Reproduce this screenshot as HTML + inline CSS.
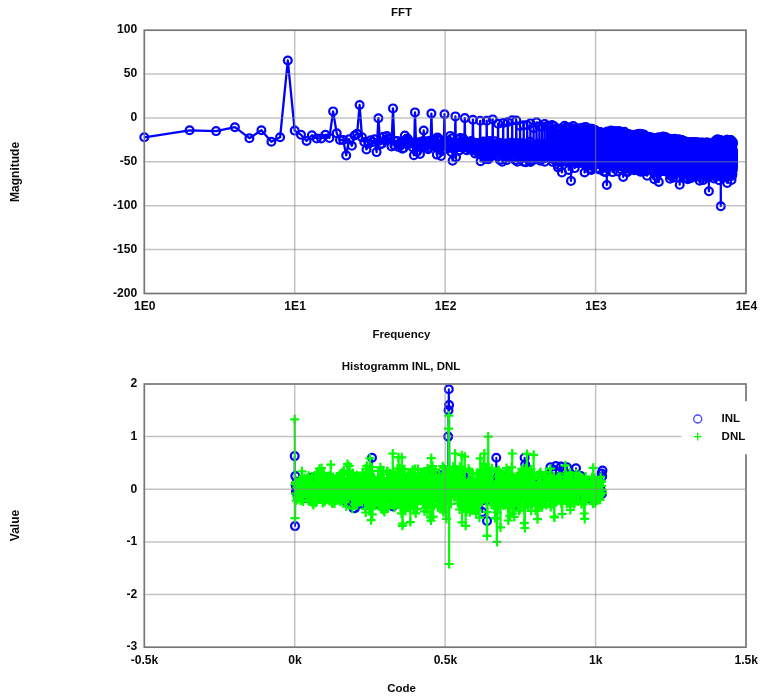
<!DOCTYPE html>
<html><head><meta charset="utf-8"><title>FFT / INL DNL</title>
<style>
html,body{margin:0;padding:0;background:#fff;}
body{width:767px;height:698px;overflow:hidden;}
svg{display:block;}
svg text{font-family:"Liberation Sans",Arial,Helvetica,sans-serif;font-weight:bold;font-size:11.7px;fill:#0a0a0a;}
.grid line{stroke:rgba(135,135,135,0.5);stroke-width:1.5;}
.frame{fill:none;stroke:#767676;stroke-width:1.7;}
</style></head><body>
<svg width="767" height="698" viewBox="0 0 767 698">
<defs>
<marker id="mc" markerUnits="userSpaceOnUse" markerWidth="12" markerHeight="12" refX="6" refY="6" viewBox="0 0 12 12"><circle cx="6" cy="6" r="3.9" fill="none" stroke="#0000ff" stroke-width="2.2"/></marker>
<marker id="mc2" markerUnits="userSpaceOnUse" markerWidth="12" markerHeight="12" refX="6" refY="6" viewBox="0 0 12 12"><circle cx="6" cy="6" r="3.9" fill="none" stroke="#0000ff" stroke-width="2.2"/></marker>
<marker id="mp" markerUnits="userSpaceOnUse" markerWidth="12" markerHeight="12" refX="6" refY="6" viewBox="0 0 12 12"><path d="M1.5 6H10.5M6 1.5V10.5" fill="none" stroke="#00ff00" stroke-width="2.2"/></marker>
</defs>
<rect width="767" height="698" fill="#fff"/>

<polyline points="144.3,137.3 189.6,130.3 216.1,131.1 234.9,127.2 249.4,138.2 261.4,130.3 271.4,141.7 280.1,137.3 287.8,60.5 294.7,130.6 301.0,134.8 306.6,141.0 311.9,135.3 316.7,138.4 321.2,138.4 325.4,134.8 329.4,137.9 333.1,111.4 336.7,133.2 340.0,140.0 343.2,139.9 346.2,155.4 349.1,139.2 351.9,145.7 354.6,135.5 357.1,133.8 359.6,105.0 362.0,137.3 364.3,142.0 366.5,149.4 368.6,143.6 370.7,140.3 372.7,142.0 374.7,139.2 376.6,152.1 378.4,118.2 380.2,144.5 381.9,143.8 383.6,136.7 385.3,139.8 386.9,136.1 388.5,139.1 390.0,138.2 391.5,146.4 393.0,108.4 394.4,145.4 395.8,141.1 397.2,140.9 398.5,147.0 399.9,144.6 401.2,141.7 402.4,148.7 403.7,147.9 404.9,135.5 406.1,139.8 407.3,138.4 408.4,143.6 409.6,141.3 410.7,143.4 411.8,142.7 412.9,147.5 413.9,155.3 415.0,112.4 416.0,143.2 417.0,151.7 418.0,142.5 419.0,142.6 420.0,154.0 420.9,144.8 421.8,141.8 422.8,141.3 423.7,130.5 424.6,146.2 425.5,141.2 426.4,144.7 427.2,144.4 428.1,149.3 428.9,147.4 429.8,140.7 430.6,144.7 431.4,113.6 432.2,142.5 433.0,145.9 433.8,139.5 434.5,144.3 435.3,143.8 436.1,146.4 436.8,154.6 437.5,137.4 438.3,139.0 439.0,141.1 439.7,149.5 440.4,140.1 441.1,155.9 441.8,144.6 442.5,151.0 443.2,149.1 443.8,142.4 444.5,114.2 445.2,145.7 445.8,142.8 446.4,144.0 447.1,146.8 447.7,141.3 448.3,142.1 449.0,147.9 449.6,145.7 450.2,135.9 450.8,144.1 451.4,152.1 452.0,138.3 452.6,160.7 453.1,143.4 453.7,143.8 454.3,148.8 454.8,146.3 455.4,116.4 456.0,157.3 456.5,145.8 457.1,144.3 457.6,144.5 458.1,139.4 458.7,150.7 459.2,150.4 459.7,147.1 460.2,138.1 460.8,147.3 461.3,141.3 461.8,144.2 462.3,147.2 462.8,146.5 463.3,138.6 463.8,147.5 464.3,145.0 464.8,118.1 465.2,144.7 465.7,144.8 466.2,143.7 466.7,150.2 467.1,147.4 467.6,144.5 468.1,147.2 468.5,142.7 469.0,142.2 469.4,147.9 469.9,149.4 470.3,145.6 470.8,148.4 471.2,141.0 471.6,146.3 472.1,142.2 472.5,144.0 472.9,119.7 473.4,145.3 473.8,148.0 474.2,149.9 474.6,150.6 475.0,153.4 475.4,143.0 475.9,147.9 476.3,150.3 476.7,144.1 477.1,148.4 477.5,146.6 477.9,142.9 478.3,151.4 478.7,146.8 479.0,154.2 479.4,149.5 479.8,148.1 480.2,120.8 480.6,161.3 481.0,150.2 481.3,144.4 481.7,145.6 482.1,148.7 482.5,152.0 482.8,143.6 483.2,145.5 483.5,141.5 483.9,149.4 484.3,143.8 484.6,156.7 485.0,157.5 485.3,159.0 485.7,156.8 486.0,149.7 486.4,156.4 486.7,120.8 487.1,158.6 487.4,149.4 487.8,152.3 488.1,147.6 488.4,159.2 488.8,149.2 489.1,143.0 489.4,146.6 489.8,141.0 490.1,145.3 490.4,148.5 490.8,153.3 491.1,145.1 491.4,156.1 491.7,145.4 492.0,144.6 492.4,147.3 492.7,119.4 493.0,144.7 493.3,154.7 493.6,150.2 493.9,146.1 494.2,147.4 494.5,148.1 494.9,141.2 495.2,148.4 495.5,147.6 495.8,149.1 496.1,145.9 496.4,154.1 496.7,146.0 497.0,143.6 497.3,148.2 497.5,156.3 497.8,152.1 498.1,123.7 498.4,148.8 498.7,150.0 499.0,145.2 499.3,147.8 499.6,152.5 499.8,160.0 500.1,152.4 500.4,152.4 500.7,143.1 501.0,151.3 501.2,144.4 501.5,148.1 501.8,147.3 502.1,146.1 502.3,161.8 502.6,148.1 502.9,154.9 503.2,123.0 503.4,146.1 503.7,150.2 504.0,152.0 504.2,146.8 504.5,150.1 504.7,153.3 505.0,151.0 505.3,149.9 505.5,143.4 505.8,148.4 506.0,144.1 506.3,150.8 506.6,160.1 506.8,146.8 507.1,153.5 507.3,157.1 507.6,155.6 507.8,122.0 508.1,151.0 508.3,149.1 508.6,153.0 508.8,147.0 509.1,149.1 509.3,151.9 509.6,149.7 509.8,147.2 510.0,143.0 510.3,150.3 510.5,154.3 510.8,152.6 511.0,142.8 511.2,148.9 511.5,150.0 511.7,144.9 511.9,156.6 512.2,120.2 512.4,145.4 512.6,153.0 512.9,147.2 513.1,146.0 513.3,145.6 513.6,148.4 513.8,157.7 514.0,156.8 514.3,143.6 514.5,146.7 514.7,143.2 514.9,149.1 515.2,146.8 515.4,160.3 515.6,148.0 515.8,152.2 516.0,150.1 516.3,120.5 516.5,145.5 516.7,149.8 516.9,150.7 517.1,150.6 517.4,161.7 517.6,144.9 517.8,150.8 518.0,152.5 518.2,143.4 518.4,146.9 518.6,151.2 518.9,153.8 519.1,144.0 519.3,150.8 519.5,154.6 519.7,147.8 519.9,147.5 520.1,126.0 520.3,153.6 520.5,142.9 520.7,153.1 520.9,152.0 521.1,144.8 521.3,152.3 521.5,153.2 521.7,146.0 521.9,144.0 522.2,149.1 522.4,151.9 522.6,147.1 522.8,156.9 522.9,146.8 523.1,154.4 523.3,153.1 523.5,161.7 523.7,125.2 523.9,147.0 524.1,146.1 524.3,153.2 524.5,155.3 524.7,147.1 524.9,151.9 525.1,147.3 525.3,151.9 525.5,143.8 525.7,162.3 525.9,147.6 526.1,152.9 526.2,158.1 526.4,148.6 526.6,150.8 526.8,152.6 527.0,146.9 527.2,125.3 527.4,149.6 527.5,153.9 527.7,148.2 527.9,145.5 528.1,147.9 528.3,151.8 528.5,145.9 528.7,149.2 528.8,144.4 529.0,154.9 529.2,155.9 529.4,147.5 529.6,141.8 529.7,147.3 529.9,160.8 530.1,150.1 530.3,146.1 530.4,123.4 530.6,162.0 530.8,153.6 531.0,153.5 531.1,155.9 531.3,153.8 531.5,146.6 531.7,148.6 531.8,151.1 532.0,146.7 532.2,146.4 532.4,151.6 532.5,149.8 532.7,153.3 532.9,155.3 533.0,151.0 533.2,160.0 533.4,150.9 533.6,128.0 533.7,151.4 533.9,149.9 534.1,152.0 534.2,147.3 534.4,151.6 534.6,151.5 534.7,156.4 534.9,150.1 535.1,144.8 535.2,146.6 535.4,158.0 535.6,147.4 535.7,148.5 535.9,147.1 536.0,146.3 536.2,149.3 536.4,150.2 536.5,122.3 536.7,148.4 536.8,153.1 537.0,148.7 537.2,153.0 537.3,148.9 537.5,151.3 537.6,153.6 537.8,152.9 538.0,143.7 538.1,147.1 538.3,151.4 538.4,153.2 538.6,151.4 538.7,148.6 538.9,150.7 539.1,153.0 539.2,149.2 539.4,126.2 539.5,146.4 539.7,158.7 539.8,149.8 540.0,150.3 540.1,148.8 540.3,160.8 540.4,153.7 540.6,156.7 540.7,145.5 540.9,146.9 541.0,155.5 541.2,149.1 541.3,146.6 541.5,149.9 541.6,150.2 541.8,146.1 541.9,147.7 542.1,126.7 542.2,147.4 542.4,151.3 542.5,152.4 542.7,149.5 542.8,148.0 543.0,152.2 543.1,149.0 543.3,150.5 543.4,147.6 543.6,147.3 543.7,155.6 543.8,158.3 544.0,149.2 544.1,150.6 544.3,143.9 544.4,150.0 544.6,146.9 544.7,123.9 544.8,161.8 545.0,149.7 545.1,155.2 545.3,152.4 545.4,145.4 545.6,151.9 545.7,151.7 545.8,152.1 546.0,146.6 546.1,157.4 546.3,152.1 546.4,155.1 546.5,153.1 546.7,149.5 546.8,152.1 546.9,147.2 547.1,149.2 547.2,125.9 547.4,152.1 547.5,152.8 547.6,150.6 547.8,148.2 547.9,145.0 548.0,156.3 548.2,148.6 548.3,154.8 548.4,147.5 548.6,149.4 548.7,152.6 548.8,150.5 549.0,147.5 549.1,153.7 549.2,147.4 549.4,150.4 549.5,146.4 549.6,127.1 549.8,150.2 549.9,151.9 550.0,148.0 550.2,147.7 550.3,157.3 550.4,148.2 550.6,153.1 550.7,150.8 550.8,145.9 550.9,145.5 551.1,152.0 551.2,149.9 551.3,147.1 551.5,150.7 551.6,153.9 551.7,154.1 551.8,147.7 552.0,125.0 552.1,155.5 552.2,147.5 552.4,156.9 552.5,148.8 552.6,154.0 552.7,161.9 552.9,147.3 553.0,146.3 553.1,146.3 553.2,152.4 553.4,159.3 553.5,154.7 553.6,152.5 553.7,147.9 553.9,143.6 554.0,153.4 554.1,153.9 554.2,126.3 554.3,149.6 554.5,152.7 554.6,155.2 554.7,153.7 554.8,148.0 555.0,154.1 555.1,150.5 555.2,159.5 555.3,147.7 555.4,156.4 555.6,155.7 555.7,156.2 555.8,149.0 555.9,161.1 556.0,158.1 556.2,153.4 556.3,149.9 556.4,128.7 556.5,151.3 556.6,153.0 556.8,154.2 556.9,148.1 557.0,156.6 557.1,152.9 557.2,153.2 557.3,149.8 557.5,148.6 557.6,153.2 557.7,147.3 557.8,149.2 557.9,154.9 558.0,167.4 558.2,148.1 558.3,148.8 558.4,150.4 558.5,129.6 558.6,150.1 558.7,153.1 558.9,157.1 559.0,150.4 559.1,165.4 559.2,146.2 559.3,150.6 559.4,152.6 559.5,147.7 559.6,154.4 559.8,148.7 559.9,149.7 560.0,153.8 560.1,150.0 560.2,162.3 560.3,152.6 560.4,153.1 560.5,128.6 560.7,154.2 560.8,161.5 560.9,157.0 561.0,156.5 561.1,150.9 561.2,156.5 561.3,157.1 561.4,150.2 561.5,147.5 561.7,149.4 561.8,156.2 561.9,172.4 562.0,151.3 562.1,149.9 562.2,156.1 562.3,149.9 562.4,145.9 562.5,131.9 562.6,151.9 562.7,150.2 562.9,150.8 563.0,150.7 563.1,155.5 563.2,155.3 563.3,156.8 563.4,154.6 563.5,149.6 563.6,150.3 563.7,153.7 563.8,155.6 563.9,151.2 564.0,153.8 564.1,158.8 564.2,152.0 564.3,146.9 564.5,125.8 564.6,148.5 564.7,152.4 564.8,153.4 564.9,151.5 565.0,147.5 565.1,149.0 565.2,154.8 565.3,146.1 565.4,147.5 565.5,161.5 565.6,146.8 565.7,151.6 565.8,154.9 565.9,146.6 566.0,151.3 566.1,148.5 566.2,152.0 566.3,127.2 566.4,151.1 566.5,160.4 566.6,155.4 566.7,156.2 566.8,152.4 566.9,154.6 567.0,155.2 567.1,148.3 567.2,148.0 567.3,146.8 567.4,146.6 567.5,151.5 567.6,153.7 567.7,153.0 567.8,155.6 567.9,154.3 568.0,146.4 568.1,127.9 568.2,150.1 568.3,156.0 568.4,152.2 568.5,148.5 568.6,150.5 568.7,169.9 568.8,153.0 568.9,154.1 569.0,150.3 569.1,154.9 569.2,151.9 569.3,147.6 569.4,152.4 569.5,154.1 569.6,147.4 569.7,152.9 569.8,156.3 569.9,127.2 570.0,155.8 570.1,158.2 570.2,151.9 570.3,151.0 570.4,151.5 570.5,150.7 570.6,151.7 570.7,150.3 570.8,146.2 570.9,151.6 571.0,153.3 571.0,180.9 571.1,161.9 571.2,153.3 571.3,150.5 571.4,152.4 571.5,149.9 571.6,130.9 571.7,152.9 571.8,152.5 571.9,154.4 572.0,151.3 572.1,154.0 572.2,159.3 572.3,148.9 572.4,148.1 572.5,147.9 572.6,161.9 572.6,148.8 572.7,150.8 572.8,157.5 572.9,154.5 573.0,154.1 573.1,160.5 573.2,152.9 573.3,126.1 573.4,154.2 573.5,151.2 573.6,157.8 573.7,156.5 573.8,155.5 573.8,154.1 573.9,148.4 574.0,151.3 574.1,150.4 574.2,150.7 574.3,150.2 574.4,143.8 574.5,159.8 574.6,150.1 574.7,151.7 574.7,145.6 574.8,168.1 574.9,128.6 575.0,155.7 575.1,150.3 575.2,152.5 575.3,152.0 575.4,156.6 575.5,160.3 575.6,156.4 575.6,163.3 575.7,148.9 575.8,155.9 575.9,151.1 576.0,152.2 576.1,155.9 576.2,154.9 576.3,160.2 576.3,150.6 576.4,153.3 576.5,128.7 576.6,155.8 576.7,154.5 576.8,152.9 576.9,153.2 577.0,147.6 577.0,157.2 577.1,151.3 577.2,152.6 577.3,152.3 577.4,150.2 577.5,149.1 577.6,147.7 577.6,155.3 577.7,148.2 577.8,154.1 577.9,161.3 578.0,148.6 578.1,128.2 578.2,156.1 578.2,152.0 578.3,162.8 578.4,153.0 578.5,150.1 578.6,146.1 578.7,163.2 578.8,148.9 578.8,150.6 578.9,161.7 579.0,151.0 579.1,153.1 579.2,154.5 579.3,148.5 579.3,150.8 579.4,149.4 579.5,144.1 579.6,128.9 579.7,147.9 579.8,146.9 579.8,148.7 579.9,157.1 580.0,152.3 580.1,152.5 580.2,152.3 580.3,149.5 580.3,148.7 580.4,152.7 580.5,149.0 580.6,153.8 580.7,152.2 580.8,152.0 580.8,151.7 580.9,161.9 581.0,156.6 581.1,133.2 581.2,148.2 581.2,152.5 581.3,150.5 581.4,152.0 581.5,153.0 581.6,153.4 581.6,153.1 581.7,150.8 581.8,149.5 581.9,156.1 582.0,154.6 582.1,157.9 582.1,155.8 582.2,160.4 582.3,147.7 582.4,146.4 582.5,154.2 582.5,127.7 582.6,162.3 582.7,152.0 582.8,148.0 582.8,157.6 582.9,160.0 583.0,152.2 583.1,150.0 583.2,159.0 583.2,149.1 583.3,160.7 583.4,145.7 583.5,159.1 583.6,155.3 583.6,158.3 583.7,148.3 583.8,152.7 583.9,153.6 584.0,128.9 584.0,150.4 584.1,159.6 584.2,152.5 584.3,149.6 584.3,154.4 584.4,153.2 584.5,162.4 584.6,172.5 584.6,148.7 584.7,157.2 584.8,162.7 584.9,151.2 585.0,150.2 585.0,158.7 585.1,164.6 585.2,146.8 585.3,149.3 585.3,127.0 585.4,151.5 585.5,162.7 585.6,153.9 585.6,147.9 585.7,152.1 585.8,154.9 585.9,165.4 585.9,157.5 586.0,150.9 586.1,162.6 586.2,156.4 586.3,163.6 586.3,158.2 586.4,148.9 586.5,152.2 586.6,151.4 586.6,157.9 586.7,127.5 586.8,150.9 586.9,153.9 586.9,148.7 587.0,158.9 587.1,157.7 587.1,153.5 587.2,148.4 587.3,152.3 587.4,153.6 587.4,150.6 587.5,160.0 587.6,158.1 587.7,148.5 587.7,152.8 587.8,149.4 587.9,160.0 588.0,154.3 588.0,129.8 588.1,153.3 588.2,151.2 588.3,155.9 588.3,147.4 588.4,156.4 588.5,153.5 588.5,151.2 588.6,165.5 588.7,153.7 588.8,154.0 588.8,152.3 588.9,147.3 589.0,147.7 589.1,151.8 589.1,157.1 589.2,154.1 589.3,155.6 589.3,131.1 589.4,169.0 589.5,157.7 589.6,149.7 589.6,149.4 589.7,162.1 589.8,151.6 589.8,156.8 589.9,150.0 590.0,148.7 590.1,150.4 590.1,155.5 590.2,162.6 590.3,152.0 590.3,149.7 590.4,154.4 590.5,148.5 590.6,148.4 590.6,128.7 590.7,147.6 590.8,169.5 590.8,151.1 590.9,154.9 591.0,159.1 591.0,151.2 591.1,148.4 591.2,158.6 591.3,150.0 591.3,151.3 591.4,170.0 591.5,155.3 591.5,159.0 591.6,148.2 591.7,152.9 591.7,160.1 591.8,154.7 591.9,128.7 591.9,153.4 592.0,152.0 592.1,147.6 592.2,152.0 592.2,152.4 592.3,151.2 592.4,152.6 592.4,147.9 592.5,153.3 592.6,148.1 592.6,151.0 592.7,153.9 592.8,148.3 592.8,162.3 592.9,149.9 593.0,151.2 593.0,153.5 593.1,131.4 593.2,151.4 593.2,151.2 593.3,153.1 593.4,156.2 593.5,152.8 593.5,151.5 593.6,150.4 593.7,148.9 593.7,152.1 593.8,148.6 593.9,156.3 593.9,148.8 594.0,153.5 594.1,153.6 594.1,151.1 594.2,161.1 594.3,149.0 594.3,129.7 594.4,156.8 594.5,151.7 594.5,148.3 594.6,149.2 594.7,159.4 594.7,161.4 594.8,151.1 594.9,155.3 594.9,152.0 595.0,149.4 595.1,156.4 595.1,150.9 595.2,156.4 595.2,158.5 595.3,152.3 595.4,148.7 595.4,151.8 595.5,130.3 595.6,152.6 595.6,157.4 595.7,154.8 595.8,145.2 595.8,157.4 595.9,151.9 596.0,154.3 596.0,150.3 596.1,153.8 596.2,157.5 596.2,149.9 596.3,160.9 596.4,150.3 596.4,146.7 596.5,168.4 596.5,154.7 596.6,158.2 596.7,136.0 596.7,149.0 596.8,151.8 596.9,154.5 596.9,163.2 597.0,150.8 597.1,148.3 597.1,154.2 597.2,154.5 597.3,152.9 597.3,154.3 597.4,152.7 597.4,149.7 597.5,152.9 597.6,153.9 597.6,154.8 597.7,159.2 597.8,151.1 597.8,131.8 597.9,158.7 597.9,153.9 598.0,150.3 598.1,153.7 598.1,154.9 598.2,151.7 598.3,149.6 598.3,152.2 598.4,149.5 598.5,152.3 598.5,149.0 598.6,152.8 598.6,150.8 598.7,153.6 598.8,154.2 598.8,155.5 598.9,151.4 598.9,135.2 599.0,161.8 599.1,148.7 599.1,160.4 599.2,150.8 599.3,158.7 599.3,155.0 599.4,164.1 599.4,153.0 599.5,151.6 599.6,154.9 599.6,148.3 599.7,151.2 599.8,154.8 599.8,150.6 599.9,169.6 599.9,152.2 600.0,154.5 600.1,132.0 600.1,153.7 600.2,154.7 600.2,153.6 600.3,160.3 600.4,146.8 600.4,164.5 600.5,156.3 600.5,147.1 600.6,153.0 600.7,159.2 600.7,149.8 600.8,152.8 600.8,148.3 600.9,150.9 601.0,150.5 601.0,159.4 601.1,149.0 601.1,132.4 601.2,148.3 601.3,152.2 601.3,157.9 601.4,147.7 601.4,151.7 601.5,147.4 601.6,164.7 601.6,148.1 601.7,153.8 601.7,157.1 601.8,153.2 601.9,154.7 601.9,151.9 602.0,145.9 602.0,165.1 602.1,155.6 602.2,147.5 602.2,133.8 602.3,150.3 602.3,154.7 602.4,151.9 602.5,157.9 602.5,150.3 602.6,148.5 602.6,148.7 602.7,164.5 602.7,149.6 602.8,151.0 602.9,150.9 602.9,153.4 603.0,146.7 603.0,152.3 603.1,147.9 603.2,154.2 603.2,151.4 603.3,133.8 603.3,152.7 603.4,145.6 603.4,149.6 603.5,151.2 603.6,156.5 603.6,151.5 603.7,147.6 603.7,155.6 603.8,151.6 603.8,157.6 603.9,150.0 604.0,171.7 604.0,161.0 604.1,150.6 604.1,154.5 604.2,149.9 604.2,156.1 604.3,133.7 604.4,151.9 604.4,156.3 604.5,155.6 604.5,152.2 604.6,152.5 604.6,152.3 604.7,156.6 604.8,150.0 604.8,156.4 604.9,153.6 604.9,151.3 605.0,149.0 605.0,157.4 605.1,152.0 605.2,148.8 605.2,150.2 605.3,157.8 605.3,134.6 605.4,159.5 605.4,152.0 605.5,160.6 605.6,149.5 605.6,158.2 605.7,157.9 605.7,148.8 605.8,148.9 605.8,155.9 605.9,172.1 605.9,154.5 606.0,163.5 606.1,152.2 606.1,158.0 606.2,147.6 606.2,152.4 606.3,155.6 606.3,134.0 606.4,148.8 606.4,158.1 606.5,156.1 606.6,159.4 606.6,147.1 606.7,155.4 606.7,156.5 606.8,150.7 606.8,185.0 606.9,151.4 606.9,157.7 607.0,166.9 607.0,146.7 607.1,150.9 607.2,151.4 607.2,155.2 607.3,162.9 607.3,131.4 607.4,154.1 607.4,165.3 607.5,149.5 607.5,149.8 607.6,151.7 607.6,148.2 607.7,164.0 607.8,161.5 607.8,150.2 607.9,154.3 607.9,151.7 608.0,158.6 608.0,154.1 608.1,159.5 608.1,154.2 608.2,154.4 608.2,149.4 608.3,135.5 608.4,150.9 608.4,153.7 608.5,159.2 608.5,149.4 608.6,145.9 608.6,166.4 608.7,152.6 608.7,155.7 608.8,150.9 608.8,155.1 608.9,150.9 608.9,149.7 609.0,149.3 609.0,153.2 609.1,157.8 609.2,150.8 609.2,160.7 609.3,132.3 609.3,153.7 609.4,157.6 609.4,154.4 609.5,159.3 609.5,154.4 609.6,155.4 609.6,151.2 609.7,147.9 609.7,151.2 609.8,155.2 609.8,152.4 609.9,166.5 609.9,159.1 610.0,154.1 610.0,150.9 610.1,155.3 610.2,150.1 610.2,132.6 610.3,159.3 610.3,150.7 610.4,151.7 610.4,155.1 610.5,152.7 610.5,152.3 610.6,153.1 610.6,157.1 610.7,153.3 610.7,161.9 610.8,153.0 610.8,154.2 610.9,150.3 610.9,156.5 611.0,152.9 611.0,157.0 611.1,157.8 611.1,130.5 611.2,153.5 611.2,147.0 611.3,158.5 611.3,154.4 611.4,153.4 611.4,152.8 611.5,157.6 611.5,157.0 611.6,150.1 611.7,149.6 611.7,147.7 611.8,149.6 611.8,162.1 611.9,155.1 611.9,154.7 612.0,158.6 612.0,151.4 612.1,132.5 612.1,147.8 612.2,153.3 612.2,151.0 612.3,150.8 612.3,151.1 612.4,156.8 612.4,149.9 612.5,152.2 612.5,154.2 612.6,172.1 612.6,147.7 612.7,152.8 612.7,154.9 612.8,159.3 612.8,153.6 612.9,150.1 612.9,150.3 613.0,133.0 613.0,149.5 613.1,163.3 613.1,153.5 613.2,161.0 613.2,152.1 613.3,157.0 613.3,156.5 613.4,158.9 613.4,153.9 613.5,152.1 613.5,152.0 613.6,157.0 613.6,154.0 613.7,151.5 613.7,152.8 613.8,147.5 613.8,147.9 613.9,131.2 613.9,150.5 614.0,149.4 614.0,149.3 614.1,149.0 614.1,154.1 614.2,153.7 614.2,156.0 614.3,158.7 614.3,148.4 614.4,151.0 614.4,154.1 614.5,156.9 614.5,165.1 614.5,152.7 614.6,152.5 614.6,145.3 614.7,152.1 614.7,131.3 614.8,161.3 614.8,149.0 614.9,159.3 614.9,154.9 615.0,163.9 615.0,161.4 615.1,151.3 615.1,154.2 615.2,152.0 615.2,149.2 615.3,154.0 615.3,151.0 615.4,150.6 615.4,156.3 615.5,148.2 615.5,149.8 615.6,150.6 615.6,131.4 615.7,148.7 615.7,152.0 615.8,151.0 615.8,154.7 615.9,154.9 615.9,154.4 616.0,159.6 616.0,153.1 616.0,158.1 616.1,153.0 616.1,150.2 616.2,154.3 616.2,152.8 616.3,147.9 616.3,155.5 616.4,152.0 616.4,159.8 616.5,132.6 616.5,152.7 616.6,158.0 616.6,157.1 616.7,147.6 616.7,148.1 616.8,150.3 616.8,157.5 616.9,153.9 616.9,156.1 616.9,161.1 617.0,153.4 617.0,155.7 617.1,150.2 617.1,154.8 617.2,155.1 617.2,145.4 617.3,155.9 617.3,131.8 617.4,149.9 617.4,151.7 617.5,153.8 617.5,159.1 617.6,155.3 617.6,160.4 617.6,155.4 617.7,151.3 617.7,146.5 617.8,152.7 617.8,158.0 617.9,154.0 617.9,164.9 618.0,171.5 618.0,152.4 618.1,155.4 618.1,155.7 618.2,131.7 618.2,152.2 618.3,148.9 618.3,166.0 618.3,152.3 618.4,160.4 618.4,150.7 618.5,153.6 618.5,152.8 618.6,153.9 618.6,153.2 618.7,151.8 618.7,155.7 618.8,161.5 618.8,152.7 618.8,158.7 618.9,158.5 618.9,159.9 619.0,131.1 619.0,152.7 619.1,149.1 619.1,147.6 619.2,153.9 619.2,153.9 619.3,152.1 619.3,155.8 619.4,153.5 619.4,157.6 619.4,149.2 619.5,165.0 619.5,157.5 619.6,154.3 619.6,147.9 619.7,149.8 619.7,146.7 619.8,155.3 619.8,133.3 619.8,155.2 619.9,156.5 619.9,152.1 620.0,149.3 620.0,159.2 620.1,155.7 620.1,148.8 620.2,148.3 620.2,151.4 620.3,157.8 620.3,156.5 620.3,155.2 620.4,158.2 620.4,158.6 620.5,154.4 620.5,169.1 620.6,158.4 620.6,133.2 620.7,152.4 620.7,155.9 620.7,157.7 620.8,152.1 620.8,148.4 620.9,158.6 620.9,156.5 621.0,147.9 621.0,150.2 621.1,152.7 621.1,164.7 621.1,149.8 621.2,153.2 621.2,156.5 621.3,156.5 621.3,159.8 621.4,155.1 621.4,132.4 621.5,154.1 621.5,160.7 621.5,153.5 621.6,161.0 621.6,160.4 621.7,147.8 621.7,166.2 621.8,155.9 621.8,151.8 621.8,151.2 621.9,150.7 621.9,153.5 622.0,150.6 622.0,154.7 622.1,155.4 622.1,152.5 622.2,152.7 622.2,134.0 622.2,151.8 622.3,161.0 622.3,151.6 622.4,149.5 622.4,156.1 622.5,155.1 622.5,148.8 622.5,148.9 622.6,151.6 622.6,156.3 622.7,152.8 622.7,157.4 622.8,149.4 622.8,152.4 622.8,154.2 622.9,156.2 622.9,155.6 623.0,135.3 623.0,147.9 623.1,153.5 623.1,153.5 623.1,156.4 623.2,148.9 623.2,177.0 623.3,147.3 623.3,155.6 623.4,154.9 623.4,157.3 623.4,155.2 623.5,156.7 623.5,167.4 623.6,153.6 623.6,155.8 623.7,154.6 623.7,154.8 623.7,134.5 623.8,154.1 623.8,158.0 623.9,155.9 623.9,153.5 624.0,154.2 624.0,151.9 624.0,161.4 624.1,149.7 624.1,151.4 624.2,152.6 624.2,150.0 624.2,158.2 624.3,153.8 624.3,155.1 624.4,156.4 624.4,156.4 624.5,154.6 624.5,131.7 624.5,153.0 624.6,151.7 624.6,151.4 624.7,155.3 624.7,149.1 624.8,151.0 624.8,151.6 624.8,163.1 624.9,150.6 624.9,153.1 625.0,158.0 625.0,157.1 625.0,157.6 625.1,168.2 625.1,148.1 625.2,154.4 625.2,147.5 625.3,133.6 625.3,150.4 625.3,149.9 625.4,160.6 625.4,152.1 625.5,156.1 625.5,158.4 625.5,155.8 625.6,155.8 625.6,156.3 625.7,148.4 625.7,149.6 625.7,145.7 625.8,157.8 625.8,152.0 625.9,155.3 625.9,150.6 626.0,156.4 626.0,135.8 626.0,153.3 626.1,153.1 626.1,154.1 626.2,151.2 626.2,152.3 626.2,152.9 626.3,157.5 626.3,152.0 626.4,153.2 626.4,152.6 626.4,167.0 626.5,152.3 626.5,153.0 626.6,171.4 626.6,152.6 626.6,155.4 626.7,153.9 626.7,134.4 626.8,165.1 626.8,149.1 626.8,151.1 626.9,157.4 626.9,156.9 627.0,158.8 627.0,156.3 627.1,150.8 627.1,146.9 627.1,147.2 627.2,149.8 627.2,172.3 627.3,160.5 627.3,152.6 627.3,156.3 627.4,151.4 627.4,151.7 627.5,135.2 627.5,161.9 627.5,159.6 627.6,156.2 627.6,149.0 627.7,159.1 627.7,154.6 627.7,155.5 627.8,156.7 627.8,153.4 627.9,159.3 627.9,155.0 627.9,165.5 628.0,155.2 628.0,157.7 628.1,152.8 628.1,152.0 628.1,158.9 628.2,136.1 628.2,155.6 628.3,154.8 628.3,151.5 628.3,154.3 628.4,153.4 628.4,156.3 628.4,156.0 628.5,149.3 628.5,152.7 628.6,158.4 628.6,155.9 628.6,155.6 628.7,158.5 628.7,151.0 628.8,161.9 628.8,155.7 628.8,155.7 628.9,134.0 628.9,154.8 629.0,158.0 629.0,152.3 629.0,149.9 629.1,154.3 629.1,154.2 629.2,160.1 629.2,154.5 629.2,152.2 629.3,164.6 629.3,153.3 629.4,154.1 629.4,150.5 629.4,155.2 629.5,152.2 629.5,159.3 629.5,154.9 629.6,136.0 629.6,161.8 629.7,153.1 629.7,147.0 629.7,154.4 629.8,153.2 629.8,156.8 629.9,161.0 629.9,166.2 629.9,150.9 630.0,165.3 630.0,153.0 630.0,153.4 630.1,169.1 630.1,148.4 630.2,158.5 630.2,153.3 630.2,157.3 630.3,135.4 630.3,159.7 630.4,148.6 630.4,154.7 630.4,154.7 630.5,154.1 630.5,153.7 630.5,155.5 630.6,145.3 630.6,154.8 630.7,158.0 630.7,161.5 630.7,148.8 630.8,147.6 630.8,158.9 630.9,154.1 630.9,152.5 630.9,150.3 631.0,135.6 631.0,155.6 631.0,161.8 631.1,150.7 631.1,149.5 631.2,163.0 631.2,152.7 631.2,150.0 631.3,169.5 631.3,156.5 631.3,149.3 631.4,159.0 631.4,150.8 631.5,147.4 631.5,162.4 631.5,150.3 631.6,149.7 631.6,150.9 631.6,135.4 631.7,151.9 631.7,156.9 631.8,154.4 631.8,160.1 631.8,149.0 631.9,158.4 631.9,156.4 631.9,151.9 632.0,149.6 632.0,153.2 632.1,162.0 632.1,153.0 632.1,152.7 632.2,153.7 632.2,153.8 632.2,156.5 632.3,146.9 632.3,135.4 632.4,149.9 632.4,154.5 632.4,148.5 632.5,149.5 632.5,147.9 632.5,154.0 632.6,158.5 632.6,154.5 632.7,154.7 632.7,162.1 632.7,152.3 632.8,155.1 632.8,155.8 632.8,163.4 632.9,149.3 632.9,161.0 633.0,153.8 633.0,135.8 633.0,150.9 633.1,153.5 633.1,158.8 633.1,153.4 633.2,148.2 633.2,154.4 633.2,154.4 633.3,152.3 633.3,157.9 633.4,152.6 633.4,152.2 633.4,152.4 633.5,154.9 633.5,154.2 633.5,154.9 633.6,156.3 633.6,150.4 633.6,138.3 633.7,166.0 633.7,151.8 633.8,151.4 633.8,163.0 633.8,152.0 633.9,151.9 633.9,154.4 633.9,148.5 634.0,153.8 634.0,161.3 634.0,153.7 634.1,152.4 634.1,148.6 634.2,154.7 634.2,154.1 634.2,147.8 634.3,157.9 634.3,135.9 634.3,158.1 634.4,170.2 634.4,163.1 634.4,156.6 634.5,160.7 634.5,147.1 634.6,152.4 634.6,152.4 634.6,156.1 634.7,156.5 634.7,150.1 634.7,159.3 634.8,152.6 634.8,151.6 634.8,154.9 634.9,150.6 634.9,155.4 634.9,134.8 635.0,157.0 635.0,161.1 635.1,150.2 635.1,151.7 635.1,152.4 635.2,155.1 635.2,149.1 635.2,152.9 635.3,148.1 635.3,159.3 635.3,156.4 635.4,152.6 635.4,151.4 635.4,154.9 635.5,157.0 635.5,153.8 635.6,154.5 635.6,136.0 635.6,149.0 635.7,159.1 635.7,156.8 635.7,149.7 635.8,163.1 635.8,151.3 635.8,154.4 635.9,155.1 635.9,154.6 635.9,153.8 636.0,159.5 636.0,168.5 636.0,158.7 636.1,152.3 636.1,156.5 636.2,155.4 636.2,149.2 636.2,140.7 636.3,156.1 636.3,158.0 636.3,153.3 636.4,154.3 636.4,151.5 636.4,153.0 636.5,153.8 636.5,158.2 636.5,150.6 636.6,150.7 636.6,150.7 636.6,152.6 636.7,151.8 636.7,161.1 636.7,158.1 636.8,150.9 636.8,156.0 636.8,136.8 636.9,151.4 636.9,162.4 637.0,152.5 637.0,149.3 637.0,163.0 637.1,152.8 637.1,153.8 637.1,153.2 637.2,149.2 637.2,152.4 637.2,159.2 637.3,152.7 637.3,155.2 637.3,152.5 637.4,161.1 637.4,161.3 637.4,157.8 637.5,134.8 637.5,151.4 637.5,154.9 637.6,148.8 637.6,151.4 637.6,152.9 637.7,149.1 637.7,149.8 637.7,152.9 637.8,152.6 637.8,150.3 637.8,154.5 637.9,148.6 637.9,147.9 638.0,151.9 638.0,148.3 638.0,163.3 638.1,150.4 638.1,133.9 638.1,153.1 638.2,162.9 638.2,155.6 638.2,152.1 638.3,164.6 638.3,152.5 638.3,151.4 638.4,152.2 638.4,149.7 638.4,157.0 638.5,156.4 638.5,151.2 638.5,157.9 638.6,164.4 638.6,154.1 638.6,159.4 638.7,154.3 638.7,133.9 638.7,156.4 638.8,151.7 638.8,154.6 638.8,156.9 638.9,157.8 638.9,160.5 638.9,158.7 639.0,152.0 639.0,153.5 639.0,153.3 639.1,162.1 639.1,150.0 639.1,154.6 639.2,147.0 639.2,154.1 639.2,158.5 639.3,154.3 639.3,139.7 639.3,151.9 639.4,163.0 639.4,157.4 639.4,154.5 639.5,157.7 639.5,157.5 639.5,152.5 639.6,153.3 639.6,156.2 639.6,163.1 639.7,167.2 639.7,149.4 639.7,155.2 639.8,157.3 639.8,157.6 639.8,157.3 639.9,153.8 639.9,133.7 639.9,150.5 640.0,153.0 640.0,151.9 640.0,152.8 640.1,153.6 640.1,157.1 640.1,150.1 640.2,171.1 640.2,151.2 640.2,153.3 640.3,171.7 640.3,159.6 640.3,149.9 640.4,151.7 640.4,155.4 640.4,150.1 640.5,153.2 640.5,135.0 640.5,164.2 640.6,150.2 640.6,157.9 640.6,156.3 640.7,152.6 640.7,155.8 640.7,154.2 640.8,152.6 640.8,150.9 640.8,156.5 640.9,152.7 640.9,158.0 640.9,153.3 641.0,157.5 641.0,157.6 641.0,157.6 641.1,163.2 641.1,133.9 641.1,156.4 641.2,157.8 641.2,153.5 641.2,156.0 641.2,154.2 641.3,170.2 641.3,149.8 641.3,148.1 641.4,152.1 641.4,149.6 641.4,156.9 641.5,157.3 641.5,150.6 641.5,148.1 641.6,158.9 641.6,157.2 641.6,166.1 641.7,134.6 641.7,155.0 641.7,168.9 641.8,151.8 641.8,151.3 641.8,171.4 641.9,151.2 641.9,158.0 641.9,153.1 642.0,153.6 642.0,152.5 642.0,153.4 642.1,164.7 642.1,162.6 642.1,147.7 642.2,156.9 642.2,152.0 642.2,154.3 642.2,134.7 642.3,149.8 642.3,151.1 642.3,156.8 642.4,158.8 642.4,157.2 642.4,153.4 642.5,158.5 642.5,170.4 642.5,157.3 642.6,158.3 642.6,152.2 642.6,153.8 642.7,160.8 642.7,157.5 642.7,154.0 642.8,152.2 642.8,147.7 642.8,139.5 642.9,154.4 642.9,153.7 642.9,152.0 642.9,152.5 643.0,157.1 643.0,151.9 643.0,163.8 643.1,154.1 643.1,158.1 643.1,152.0 643.2,156.4 643.2,157.1 643.2,153.9 643.3,153.9 643.3,155.2 643.3,152.9 643.4,149.6 643.4,134.9 643.4,152.0 643.5,148.0 643.5,150.3 643.5,153.6 643.5,153.4 643.6,150.2 643.6,157.3 643.6,148.1 643.7,157.4 643.7,155.1 643.7,152.9 643.8,151.7 643.8,160.9 643.8,150.8 643.9,153.2 643.9,154.3 643.9,154.7 644.0,134.6 644.0,164.1 644.0,152.2 644.0,150.9 644.1,153.2 644.1,165.5 644.1,148.6 644.2,154.0 644.2,150.5 644.2,146.3 644.3,165.2 644.3,158.2 644.3,150.4 644.4,151.2 644.4,152.6 644.4,149.8 644.4,150.6 644.5,156.7 644.5,136.1 644.5,152.7 644.6,157.4 644.6,153.1 644.6,160.4 644.7,156.7 644.7,155.4 644.7,159.2 644.8,153.3 644.8,159.6 644.8,158.3 644.8,152.8 644.9,148.6 644.9,168.6 644.9,154.7 645.0,155.5 645.0,166.2 645.0,158.4 645.1,139.7 645.1,160.0 645.1,147.5 645.2,153.1 645.2,158.1 645.2,150.4 645.2,147.9 645.3,145.4 645.3,157.9 645.3,159.7 645.4,150.4 645.4,150.2 645.4,158.9 645.5,161.2 645.5,151.0 645.5,156.4 645.6,154.2 645.6,155.5 645.6,139.1 645.6,155.2 645.7,158.4 645.7,162.0 645.7,148.2 645.8,171.2 645.8,151.9 645.8,150.5 645.9,151.0 645.9,156.6 645.9,154.9 645.9,152.8 646.0,152.9 646.0,155.3 646.0,156.9 646.1,149.5 646.1,150.9 646.1,156.1 646.2,137.4 646.2,154.0 646.2,149.9 646.2,155.6 646.3,148.0 646.3,158.4 646.3,152.4 646.4,162.2 646.4,155.1 646.4,156.9 646.5,156.4 646.5,158.5 646.5,161.1 646.5,154.1 646.6,155.6 646.6,149.9 646.6,160.8 646.7,154.7 646.7,136.8 646.7,157.4 646.8,152.1 646.8,147.6 646.8,152.9 646.8,151.4 646.9,152.0 646.9,153.3 646.9,162.7 647.0,157.6 647.0,153.1 647.0,153.3 647.1,152.6 647.1,175.7 647.1,155.9 647.1,157.2 647.2,157.2 647.2,153.9 647.2,140.2 647.3,156.9 647.3,153.6 647.3,161.1 647.4,158.4 647.4,149.7 647.4,160.6 647.4,152.9 647.5,153.0 647.5,152.7 647.5,151.3 647.6,160.0 647.6,158.4 647.6,152.7 647.6,160.2 647.7,158.7 647.7,152.6 647.7,153.0 647.8,137.6 647.8,166.9 647.8,153.5 647.9,158.4 647.9,153.2 647.9,158.3 647.9,155.2 648.0,163.0 648.0,158.4 648.0,150.4 648.1,150.4 648.1,154.5 648.1,153.0 648.1,154.8 648.2,154.4 648.2,158.0 648.2,154.7 648.3,165.5 648.3,137.7 648.3,152.6 648.3,154.0 648.4,153.6 648.4,158.5 648.4,154.9 648.5,153.7 648.5,158.7 648.5,151.2 648.6,149.4 648.6,155.6 648.6,154.2 648.6,154.1 648.7,156.6 648.7,154.9 648.7,158.7 648.8,152.2 648.8,167.4 648.8,136.8 648.8,153.0 648.9,156.7 648.9,150.2 648.9,152.3 649.0,151.7 649.0,150.1 649.0,157.8 649.0,151.9 649.1,150.1 649.1,147.2 649.1,165.7 649.2,162.6 649.2,160.5 649.2,155.9 649.2,156.7 649.3,151.8 649.3,160.4 649.3,136.9 649.4,154.2 649.4,157.1 649.4,155.6 649.4,157.1 649.5,158.1 649.5,157.3 649.5,153.2 649.6,150.4 649.6,150.7 649.6,160.0 649.6,157.7 649.7,153.5 649.7,152.3 649.7,155.0 649.8,160.5 649.8,169.7 649.8,162.4 649.8,139.3 649.9,153.1 649.9,155.8 649.9,149.3 650.0,158.5 650.0,156.2 650.0,154.7 650.0,151.5 650.1,152.4 650.1,150.2 650.1,155.4 650.2,156.8 650.2,156.9 650.2,157.6 650.2,163.6 650.3,148.3 650.3,155.2 650.3,147.7 650.4,139.7 650.4,155.4 650.4,153.0 650.4,155.9 650.5,153.3 650.5,159.0 650.5,154.2 650.6,148.0 650.6,154.1 650.6,152.0 650.6,150.3 650.7,156.8 650.7,153.8 650.7,157.0 650.8,154.0 650.8,152.5 650.8,160.4 650.8,154.4 650.9,140.3 650.9,148.2 650.9,158.1 650.9,151.4 651.0,156.8 651.0,158.8 651.0,155.1 651.1,153.3 651.1,163.0 651.1,159.1 651.1,164.3 651.2,152.6 651.2,158.2 651.2,152.7 651.3,155.3 651.3,156.6 651.3,148.5 651.3,159.6 651.4,137.6 651.4,159.0 651.4,157.4 651.4,151.1 651.5,152.8 651.5,158.1 651.5,149.9 651.6,155.9 651.6,150.5 651.6,159.9 651.6,156.7 651.7,151.4 651.7,152.8 651.7,150.7 651.8,157.6 651.8,151.8 651.8,150.6 651.8,152.7 651.9,141.5 651.9,156.5 651.9,151.9 651.9,150.9 652.0,153.9 652.0,153.0 652.0,149.4 652.1,160.3 652.1,153.6 652.1,155.9 652.1,159.1 652.2,156.4 652.2,150.7 652.2,158.8 652.2,153.2 652.3,153.3 652.3,156.6 652.3,162.5 652.4,141.3 652.4,153.7 652.4,161.1 652.4,154.2 652.5,154.8 652.5,155.4 652.5,148.2 652.6,149.9 652.6,146.3 652.6,157.3 652.6,165.3 652.7,155.0 652.7,146.2 652.7,151.0 652.7,153.7 652.8,151.4 652.8,154.6 652.8,155.0 652.8,144.1 652.9,161.6 652.9,151.8 652.9,156.6 653.0,162.6 653.0,161.9 653.0,163.4 653.0,150.3 653.1,155.1 653.1,155.6 653.1,155.4 653.1,155.7 653.2,162.8 653.2,155.1 653.2,152.2 653.3,153.4 653.3,157.3 653.3,170.6 653.3,139.1 653.4,149.3 653.4,152.0 653.4,153.5 653.4,151.5 653.5,151.3 653.5,158.7 653.5,153.3 653.6,149.1 653.6,156.1 653.6,156.1 653.6,157.3 653.7,148.2 653.7,150.6 653.7,156.3 653.7,152.4 653.8,149.7 653.8,149.0 653.8,138.6 653.8,155.3 653.9,149.4 653.9,155.2 653.9,159.9 654.0,152.1 654.0,163.5 654.0,148.9 654.0,151.8 654.1,146.9 654.1,160.1 654.1,153.6 654.1,159.0 654.2,154.7 654.2,154.1 654.2,159.7 654.2,157.9 654.3,179.2 654.3,140.6 654.3,153.7 654.4,159.0 654.4,171.9 654.4,154.8 654.4,156.0 654.5,154.8 654.5,150.6 654.5,154.4 654.5,156.6 654.6,157.8 654.6,150.3 654.6,161.9 654.6,152.2 654.7,156.3 654.7,151.4 654.7,158.2 654.8,150.5 654.8,139.4 654.8,151.5 654.8,158.3 654.9,152.7 654.9,155.6 654.9,154.8 654.9,154.9 655.0,161.6 655.0,147.1 655.0,153.5 655.0,157.5 655.1,156.8 655.1,154.4 655.1,153.9 655.1,152.5 655.2,155.9 655.2,155.5 655.2,147.9 655.3,137.9 655.3,153.4 655.3,154.4 655.3,156.4 655.4,148.3 655.4,156.7 655.4,149.4 655.4,150.3 655.5,158.7 655.5,156.5 655.5,155.6 655.5,159.7 655.6,151.9 655.6,155.1 655.6,155.8 655.6,160.4 655.7,161.2 655.7,155.1 655.7,143.4 655.7,159.9 655.8,151.6 655.8,151.1 655.8,150.5 655.9,154.3 655.9,150.5 655.9,163.5 655.9,151.3 656.0,154.8 656.0,156.1 656.0,149.6 656.0,161.2 656.1,163.3 656.1,152.2 656.1,151.6 656.1,155.4 656.2,154.7 656.2,139.1 656.2,150.7 656.2,153.7 656.3,162.4 656.3,158.4 656.3,150.0 656.3,153.7 656.4,155.8 656.4,164.8 656.4,160.7 656.4,165.1 656.5,154.4 656.5,150.4 656.5,153.0 656.5,159.2 656.6,153.2 656.6,169.1 656.6,151.0 656.7,138.2 656.7,161.7 656.7,158.4 656.7,176.8 656.8,163.8 656.8,156.5 656.8,155.5 656.8,159.5 656.9,151.8 656.9,153.0 656.9,164.2 656.9,157.1 657.0,155.0 657.0,166.5 657.0,156.6 657.0,150.1 657.1,155.6 657.1,152.9 657.1,138.0 657.1,153.5 657.2,151.2 657.2,157.7 657.2,163.6 657.2,164.7 657.3,153.1 657.3,161.5 657.3,160.5 657.3,156.5 657.4,153.8 657.4,153.1 657.4,163.9 657.4,157.3 657.5,160.6 657.5,165.2 657.5,158.6 657.5,164.9 657.6,142.7 657.6,154.8 657.6,154.7 657.6,158.7 657.7,151.4 657.7,156.1 657.7,152.3 657.7,155.2 657.8,156.3 657.8,158.2 657.8,155.6 657.8,171.2 657.9,161.0 657.9,159.5 657.9,158.6 657.9,153.6 658.0,151.6 658.0,159.7 658.0,137.6 658.0,154.9 658.1,158.0 658.1,161.7 658.1,150.1 658.1,153.0 658.2,153.0 658.2,156.1 658.2,159.5 658.2,154.8 658.3,158.3 658.3,166.1 658.3,155.9 658.3,156.0 658.4,155.3 658.4,151.5 658.4,157.5 658.4,152.7 658.5,138.4 658.5,156.7 658.5,157.9 658.5,152.4 658.6,148.7 658.6,151.0 658.6,150.8 658.6,155.9 658.7,155.7 658.7,158.1 658.7,154.5 658.7,161.0 658.8,152.5 658.8,156.6 658.8,161.0 658.8,182.0 658.9,153.8 658.9,151.3 658.9,137.5 658.9,151.3 659.0,149.1 659.0,159.2 659.0,151.0 659.0,157.6 659.1,154.4 659.1,158.8 659.1,156.1 659.1,155.3 659.2,157.6 659.2,148.5 659.2,152.0 659.2,163.2 659.3,164.5 659.3,170.3 659.3,153.0 659.3,159.0 659.4,138.5 659.4,153.8 659.4,152.8 659.4,161.3 659.5,154.1 659.5,169.9 659.5,150.9 659.5,153.7 659.6,155.5 659.6,158.3 659.6,154.2 659.6,154.6 659.7,154.9 659.7,157.4 659.7,153.2 659.7,153.9 659.8,154.4 659.8,148.9 659.8,139.7 659.8,152.2 659.9,153.6 659.9,149.6 659.9,153.6 659.9,151.6 660.0,164.3 660.0,158.4 660.0,148.6 660.0,159.3 660.1,160.5 660.1,151.9 660.1,153.1 660.1,161.1 660.1,151.9 660.2,152.9 660.2,157.7 660.2,150.6 660.2,140.2 660.3,160.4 660.3,160.9 660.3,153.8 660.3,149.3 660.4,147.2 660.4,171.0 660.4,166.4 660.4,156.7 660.5,153.5 660.5,155.8 660.5,151.4 660.5,150.5 660.6,151.2 660.6,153.8 660.6,171.0 660.6,161.0 660.7,149.0 660.7,140.0 660.7,158.1 660.7,156.8 660.8,159.8 660.8,152.4 660.8,158.2 660.8,154.4 660.8,157.8 660.9,160.4 660.9,150.5 660.9,155.1 660.9,156.5 661.0,155.7 661.0,154.4 661.0,158.7 661.0,148.2 661.1,161.0 661.1,153.4 661.1,137.5 661.1,154.0 661.2,155.1 661.2,162.9 661.2,164.5 661.2,154.1 661.3,162.1 661.3,154.9 661.3,159.2 661.3,152.5 661.4,157.7 661.4,152.8 661.4,161.9 661.4,154.9 661.4,156.0 661.5,152.3 661.5,152.6 661.5,150.2 661.5,139.5 661.6,158.4 661.6,149.1 661.6,147.7 661.6,149.6 661.7,152.2 661.7,157.6 661.7,153.1 661.7,150.7 661.8,157.2 661.8,153.9 661.8,161.3 661.8,162.8 661.9,155.3 661.9,162.4 661.9,159.4 661.9,157.0 661.9,152.0 662.0,141.6 662.0,151.9 662.0,156.8 662.0,154.4 662.1,158.9 662.1,164.7 662.1,154.9 662.1,160.4 662.2,157.1 662.2,154.0 662.2,151.1 662.2,155.6 662.3,153.6 662.3,153.6 662.3,162.4 662.3,166.1 662.3,156.4 662.4,155.1 662.4,144.4 662.4,159.7 662.4,155.6 662.5,156.0 662.5,148.1 662.5,163.4 662.5,152.6 662.6,151.9 662.6,158.3 662.6,149.2 662.6,155.2 662.7,150.9 662.7,164.0 662.7,157.4 662.7,150.6 662.7,148.7 662.8,157.8 662.8,150.1 662.8,137.5 662.8,167.3 662.9,156.1 662.9,155.1 662.9,152.3 662.9,160.5 663.0,149.4 663.0,150.0 663.0,151.3 663.0,150.7 663.0,156.5 663.1,162.0 663.1,154.0 663.1,160.8 663.1,159.2 663.2,155.3 663.2,153.5 663.2,151.5 663.2,136.4 663.3,153.2 663.3,150.0 663.3,149.2 663.3,152.9 663.4,152.4 663.4,154.5 663.4,153.7 663.4,152.2 663.4,154.0 663.5,159.2 663.5,160.7 663.5,154.4 663.5,149.3 663.6,153.9 663.6,163.3 663.6,151.6 663.6,165.7 663.7,141.8 663.7,153.4 663.7,153.5 663.7,171.1 663.7,166.6 663.8,156.0 663.8,158.2 663.8,155.3 663.8,154.2 663.9,159.9 663.9,159.9 663.9,155.1 663.9,148.9 663.9,159.2 664.0,153.2 664.0,148.9 664.0,159.4 664.0,153.7 664.1,141.6 664.1,152.7 664.1,151.7 664.1,160.6 664.2,152.8 664.2,157.8 664.2,149.5 664.2,164.5 664.2,155.5 664.3,147.0 664.3,169.2 664.3,155.0 664.3,157.7 664.4,155.7 664.4,161.1 664.4,149.2 664.4,161.0 664.5,153.6 664.5,138.0 664.5,159.3 664.5,157.3 664.5,152.2 664.6,168.0 664.6,153.4 664.6,157.6 664.6,157.5 664.7,152.6 664.7,161.3 664.7,161.7 664.7,154.8 664.7,150.2 664.8,160.5 664.8,156.2 664.8,169.3 664.8,155.7 664.9,157.0 664.9,140.0 664.9,151.5 664.9,154.3 665.0,149.0 665.0,154.3 665.0,157.7 665.0,155.9 665.0,155.0 665.1,151.0 665.1,151.8 665.1,150.0 665.1,152.0 665.2,160.9 665.2,156.5 665.2,165.4 665.2,150.6 665.2,166.7 665.3,156.3 665.3,137.0 665.3,147.3 665.3,148.8 665.4,160.5 665.4,156.2 665.4,155.9 665.4,161.0 665.4,151.8 665.5,152.8 665.5,155.1 665.5,150.4 665.5,156.2 665.6,154.2 665.6,153.2 665.6,158.3 665.6,157.8 665.6,155.7 665.7,156.8 665.7,140.3 665.7,153.3 665.7,159.3 665.8,154.6 665.8,163.1 665.8,152.7 665.8,153.2 665.8,150.7 665.9,154.6 665.9,148.5 665.9,163.8 665.9,154.5 666.0,155.4 666.0,155.9 666.0,154.8 666.0,150.2 666.0,154.1 666.1,156.5 666.1,139.8 666.1,155.6 666.1,167.9 666.2,155.4 666.2,149.5 666.2,148.9 666.2,151.0 666.2,155.7 666.3,150.4 666.3,155.5 666.3,153.8 666.3,154.5 666.4,159.9 666.4,149.8 666.4,153.4 666.4,150.9 666.4,160.1 666.5,149.4 666.5,138.1 666.5,160.6 666.5,161.8 666.6,151.0 666.6,157.6 666.6,160.7 666.6,147.8 666.6,157.9 666.7,150.8 666.7,152.0 666.7,153.2 666.7,154.8 666.8,158.4 666.8,153.3 666.8,154.0 666.8,151.0 666.8,158.4 666.9,146.6 666.9,141.8 666.9,150.4 666.9,151.9 667.0,153.8 667.0,155.1 667.0,153.1 667.0,163.2 667.0,166.5 667.1,157.9 667.1,155.6 667.1,171.1 667.1,159.2 667.1,159.6 667.2,149.0 667.2,153.9 667.2,155.6 667.2,152.4 667.3,154.1 667.3,137.9 667.3,160.2 667.3,152.5 667.3,163.5 667.4,172.3 667.4,152.0 667.4,163.1 667.4,156.8 667.5,158.6 667.5,160.1 667.5,158.8 667.5,151.2 667.5,155.8 667.6,157.9 667.6,156.2 667.6,158.0 667.6,159.6 667.7,153.0 667.7,141.5 667.7,155.6 667.7,151.8 667.7,163.9 667.8,155.2 667.8,150.0 667.8,159.0 667.8,171.0 667.8,160.9 667.9,152.6 667.9,164.0 667.9,164.2 667.9,153.6 668.0,169.8 668.0,164.4 668.0,153.8 668.0,154.9 668.0,167.1 668.1,139.4 668.1,160.1 668.1,155.6 668.1,154.7 668.1,161.1 668.2,154.8 668.2,152.1 668.2,151.4 668.2,159.3 668.3,151.7 668.3,156.0 668.3,152.9 668.3,154.2 668.3,158.5 668.4,156.9 668.4,153.0 668.4,157.6 668.4,151.8 668.4,141.2 668.5,155.3 668.5,155.9 668.5,153.8 668.5,151.9 668.6,162.0 668.6,163.4 668.6,149.7 668.6,155.0 668.6,157.9 668.7,155.3 668.7,157.2 668.7,161.3 668.7,158.5 668.7,160.7 668.8,151.6 668.8,163.8 668.8,156.9 668.8,140.1 668.9,156.5 668.9,161.5 668.9,152.2 668.9,155.6 668.9,157.7 669.0,153.6 669.0,151.8 669.0,150.1 669.0,150.2 669.0,160.2 669.1,158.5 669.1,156.5 669.1,151.8 669.1,154.7 669.2,151.7 669.2,149.3 669.2,150.5 669.2,140.7 669.2,159.7 669.3,157.8 669.3,154.2 669.3,145.3 669.3,151.4 669.3,154.0 669.4,153.9 669.4,155.0 669.4,155.0 669.4,162.0 669.4,154.3 669.5,169.3 669.5,153.7 669.5,149.9 669.5,160.4 669.6,153.1 669.6,154.9 669.6,139.0 669.6,153.7 669.6,161.9 669.7,155.2 669.7,150.5 669.7,151.1 669.7,157.2 669.7,155.3 669.8,154.7 669.8,163.0 669.8,156.9 669.8,152.5 669.8,156.4 669.9,164.6 669.9,152.2 669.9,153.1 669.9,155.8 670.0,154.2 670.0,138.9 670.0,151.9 670.0,153.0 670.0,178.8 670.1,153.8 670.1,160.1 670.1,156.3 670.1,154.5 670.1,152.4 670.2,151.4 670.2,156.7 670.2,151.6 670.2,150.3 670.2,157.0 670.3,152.8 670.3,161.6 670.3,173.1 670.3,151.2 670.3,144.3 670.4,156.4 670.4,156.9 670.4,165.4 670.4,151.9 670.5,159.5 670.5,148.3 670.5,157.1 670.5,154.6 670.5,150.3 670.6,164.4 670.6,152.4 670.6,158.1 670.6,155.8 670.6,151.2 670.7,154.1 670.7,165.9 670.7,157.7 670.7,142.1 670.7,168.8 670.8,156.0 670.8,158.0 670.8,153.2 670.8,156.3 670.8,161.7 670.9,149.8 670.9,160.5 670.9,154.2 670.9,157.5 670.9,161.1 671.0,155.8 671.0,156.3 671.0,175.9 671.0,150.6 671.0,151.4 671.1,157.7 671.1,142.4 671.1,151.7 671.1,150.3 671.2,148.8 671.2,155.3 671.2,152.7 671.2,152.8 671.2,150.4 671.3,156.7 671.3,153.4 671.3,152.6 671.3,149.5 671.3,158.4 671.4,155.2 671.4,151.0 671.4,155.4 671.4,153.6 671.4,159.2 671.5,142.9 671.5,164.5 671.5,150.8 671.5,161.4 671.5,156.6 671.6,156.7 671.6,158.0 671.6,166.6 671.6,156.5 671.6,157.0 671.7,160.7 671.7,157.7 671.7,155.3 671.7,156.5 671.7,151.7 671.8,162.7 671.8,150.0 671.8,154.9 671.8,140.0 671.8,154.5 671.9,156.6 671.9,149.3 671.9,151.2 671.9,151.3 671.9,148.5 672.0,155.1 672.0,159.6 672.0,158.8 672.0,152.7 672.1,152.8 672.1,161.2 672.1,154.0 672.1,153.1 672.1,161.1 672.2,147.9 672.2,150.2 672.2,142.3 672.2,159.2 672.2,155.9 672.3,157.5 672.3,164.9 672.3,156.5 672.3,160.8 672.3,153.3 672.4,156.4 672.4,152.8 672.4,157.4 672.4,155.3 672.4,151.8 672.5,156.3 672.5,149.5 672.5,156.2 672.5,153.4 672.5,160.3 672.6,141.1 672.6,151.5 672.6,150.6 672.6,149.8 672.6,153.7 672.7,150.9 672.7,150.0 672.7,155.0 672.7,161.0 672.7,155.9 672.8,159.4 672.8,151.3 672.8,155.5 672.8,156.1 672.8,152.6 672.9,151.4 672.9,150.5 672.9,150.8 672.9,139.5 672.9,146.9 673.0,154.1 673.0,149.3 673.0,162.8 673.0,161.1 673.0,156.6 673.1,155.8 673.1,153.1 673.1,151.6 673.1,156.5 673.1,150.7 673.2,162.7 673.2,177.6 673.2,152.5 673.2,153.3 673.2,149.3 673.3,158.8 673.3,140.2 673.3,164.2 673.3,152.7 673.3,149.5 673.4,161.0 673.4,149.4 673.4,174.7 673.4,154.6 673.4,157.6 673.5,153.9 673.5,161.6 673.5,161.1 673.5,148.2 673.5,156.0 673.6,163.9 673.6,157.5 673.6,154.6 673.6,152.2 673.6,141.3 673.7,148.5 673.7,169.9 673.7,158.3 673.7,151.8 673.7,152.4 673.8,157.1 673.8,155.2 673.8,161.2 673.8,152.2 673.8,155.0 673.8,161.4 673.9,154.8 673.9,163.0 673.9,153.1 673.9,154.5 673.9,153.9 674.0,159.0 674.0,140.6 674.0,152.0 674.0,157.4 674.0,155.5 674.1,171.0 674.1,156.2 674.1,149.5 674.1,161.2 674.1,151.1 674.2,162.4 674.2,164.4 674.2,156.3 674.2,155.8 674.2,155.8 674.3,149.9 674.3,159.3 674.3,150.8 674.3,156.0 674.3,140.3 674.4,154.9 674.4,156.9 674.4,155.6 674.4,158.6 674.4,173.5 674.5,160.4 674.5,156.7 674.5,161.9 674.5,151.0 674.5,156.7 674.6,149.4 674.6,162.6 674.6,152.9 674.6,160.6 674.6,159.4 674.7,153.1 674.7,151.0 674.7,138.7 674.7,158.1 674.7,162.9 674.7,161.2 674.8,155.5 674.8,157.7 674.8,150.9 674.8,154.2 674.8,159.9 674.9,159.4 674.9,155.0 674.9,161.7 674.9,155.8 674.9,156.6 675.0,154.7 675.0,156.5 675.0,161.6 675.0,153.8 675.0,139.3 675.1,157.2 675.1,153.5 675.1,152.7 675.1,148.0 675.1,157.0 675.2,152.7 675.2,149.3 675.2,158.3 675.2,151.9 675.2,165.7 675.3,152.5 675.3,157.6 675.3,162.7 675.3,159.9 675.3,149.7 675.3,158.5 675.4,149.0 675.4,139.8 675.4,153.6 675.4,155.4 675.4,152.3 675.5,160.0 675.5,157.4 675.5,157.5 675.5,154.7 675.5,154.6 675.6,157.9 675.6,153.5 675.6,159.5 675.6,154.4 675.6,168.4 675.7,151.6 675.7,154.8 675.7,155.7 675.7,169.1 675.7,140.9 675.8,161.0 675.8,155.1 675.8,167.4 675.8,158.6 675.8,154.8 675.8,152.2 675.9,155.8 675.9,155.5 675.9,148.8 675.9,158.1 675.9,160.4 676.0,156.4 676.0,156.1 676.0,152.4 676.0,165.4 676.0,162.1 676.1,155.0 676.1,141.2 676.1,148.3 676.1,158.5 676.1,155.3 676.2,156.9 676.2,152.5 676.2,158.3 676.2,152.3 676.2,151.3 676.2,161.1 676.3,160.7 676.3,155.3 676.3,153.2 676.3,157.8 676.3,160.5 676.4,149.7 676.4,154.3 676.4,152.3 676.4,139.8 676.4,153.4 676.5,149.1 676.5,155.4 676.5,149.3 676.5,155.3 676.5,155.6 676.6,152.1 676.6,153.7 676.6,159.7 676.6,159.5 676.6,151.8 676.6,159.8 676.7,158.4 676.7,155.6 676.7,156.5 676.7,157.4 676.7,155.5 676.8,144.0 676.8,150.6 676.8,163.2 676.8,155.6 676.8,156.8 676.9,153.7 676.9,150.0 676.9,156.2 676.9,153.9 676.9,157.9 676.9,163.9 677.0,149.8 677.0,149.0 677.0,153.0 677.0,160.7 677.0,161.0 677.1,157.2 677.1,157.6 677.1,140.6 677.1,159.3 677.1,150.7 677.2,163.0 677.2,160.8 677.2,151.2 677.2,155.6 677.2,151.3 677.2,157.8 677.3,156.6 677.3,156.2 677.3,160.9 677.3,148.0 677.3,147.6 677.4,155.3 677.4,153.1 677.4,150.6 677.4,156.1 677.4,141.4 677.5,157.3 677.5,151.6 677.5,154.4 677.5,158.3 677.5,159.3 677.5,153.5 677.6,153.3 677.6,152.6 677.6,155.6 677.6,160.1 677.6,155.1 677.7,157.2 677.7,159.0 677.7,153.8 677.7,152.4 677.7,166.1 677.8,151.0 677.8,142.2 677.8,160.2 677.8,157.0 677.8,152.3 677.8,162.0 677.9,154.7 677.9,156.1 677.9,154.7 677.9,159.6 677.9,161.5 678.0,151.1 678.0,157.8 678.0,158.5 678.0,153.6 678.0,158.3 678.0,155.4 678.1,153.7 678.1,157.2 678.1,139.9 678.1,157.9 678.1,160.1 678.2,157.5 678.2,155.8 678.2,154.1 678.2,154.7 678.2,154.1 678.3,154.4 678.3,152.9 678.3,158.4 678.3,158.1 678.3,150.6 678.3,156.8 678.4,150.9 678.4,159.1 678.4,151.8 678.4,148.5 678.4,147.1 678.5,153.1 678.5,149.0 678.5,160.9 678.5,159.5 678.5,162.0 678.5,160.3 678.6,153.0 678.6,151.2 678.6,160.4 678.6,160.4 678.6,156.4 678.7,153.3 678.7,156.7 678.7,156.5 678.7,154.5 678.7,157.5 678.7,165.1 678.8,139.2 678.8,149.9 678.8,159.0 678.8,148.2 678.8,155.9 678.9,154.3 678.9,154.6 678.9,155.1 678.9,157.6 678.9,156.9 678.9,167.9 679.0,163.3 679.0,155.1 679.0,164.5 679.0,151.9 679.0,156.0 679.1,157.8 679.1,156.9 679.1,141.9 679.1,161.7 679.1,149.5 679.1,172.5 679.2,167.0 679.2,163.8 679.2,148.5 679.2,160.0 679.2,157.8 679.3,152.5 679.3,160.3 679.3,155.6 679.3,159.6 679.3,152.3 679.3,154.7 679.4,160.4 679.4,151.7 679.4,152.4 679.4,145.2 679.4,154.7 679.5,157.7 679.5,152.8 679.5,154.4 679.5,155.3 679.5,160.5 679.5,156.0 679.6,150.1 679.6,158.4 679.6,153.0 679.6,152.1 679.6,153.0 679.7,160.0 679.7,155.9 679.7,154.1 679.7,184.7 679.7,157.9 679.7,142.4 679.8,154.0 679.8,158.9 679.8,153.4 679.8,150.9 679.8,161.8 679.9,160.2 679.9,159.6 679.9,154.9 679.9,156.8 679.9,157.7 679.9,151.2 680.0,153.9 680.0,150.6 680.0,151.7 680.0,155.3 680.0,154.4 680.1,155.2 680.1,140.4 680.1,148.4 680.1,159.4 680.1,149.3 680.1,151.1 680.2,150.6 680.2,158.0 680.2,157.0 680.2,168.9 680.2,157.1 680.2,155.0 680.3,157.0 680.3,159.0 680.3,162.8 680.3,155.3 680.3,153.5 680.4,158.1 680.4,153.0 680.4,140.4 680.4,154.1 680.4,158.3 680.4,155.9 680.5,158.6 680.5,154.7 680.5,152.3 680.5,162.8 680.5,154.0 680.6,162.6 680.6,161.0 680.6,149.9 680.6,151.4 680.6,158.9 680.6,159.7 680.7,162.9 680.7,155.1 680.7,155.1 680.7,141.6 680.7,164.1 680.7,156.3 680.8,155.2 680.8,149.3 680.8,151.6 680.8,153.1 680.8,153.3 680.9,154.1 680.9,152.2 680.9,151.8 680.9,152.7 680.9,157.4 680.9,156.3 681.0,156.5 681.0,157.9 681.0,156.8 681.0,156.5 681.0,141.2 681.0,156.5 681.1,155.8 681.1,155.9 681.1,153.8 681.1,156.7 681.1,153.1 681.2,157.4 681.2,152.8 681.2,159.3 681.2,154.0 681.2,151.9 681.2,148.5 681.3,157.9 681.3,163.0 681.3,153.4 681.3,155.0 681.3,170.9 681.3,142.6 681.4,171.3 681.4,151.2 681.4,160.1 681.4,153.8 681.4,150.4 681.5,154.0 681.5,161.1 681.5,163.7 681.5,159.7 681.5,156.0 681.5,161.7 681.6,156.4 681.6,151.2 681.6,154.3 681.6,153.7 681.6,157.3 681.6,153.1 681.7,140.0 681.7,163.2 681.7,157.4 681.7,171.3 681.7,152.0 681.7,167.4 681.8,155.0 681.8,160.4 681.8,155.9 681.8,160.6 681.8,159.3 681.9,151.0 681.9,155.9 681.9,154.4 681.9,157.6 681.9,163.9 681.9,158.9 682.0,170.3 682.0,141.0 682.0,170.6 682.0,158.6 682.0,159.3 682.0,152.0 682.1,155.0 682.1,159.6 682.1,160.4 682.1,156.9 682.1,154.4 682.1,152.6 682.2,164.2 682.2,151.9 682.2,151.1 682.2,155.0 682.2,153.8 682.3,150.2 682.3,168.3 682.3,143.2 682.3,151.6 682.3,150.7 682.3,169.9 682.4,168.8 682.4,172.6 682.4,158.4 682.4,157.3 682.4,154.0 682.4,154.4 682.5,161.9 682.5,153.2 682.5,156.4 682.5,153.7 682.5,160.5 682.5,157.9 682.6,156.8 682.6,173.1 682.6,140.5 682.6,158.0 682.6,156.2 682.7,161.5 682.7,162.6 682.7,152.3 682.7,148.0 682.7,148.8 682.7,154.7 682.8,160.7 682.8,171.2 682.8,156.8 682.8,159.5 682.8,160.5 682.8,154.2 682.9,151.0 682.9,157.0 682.9,152.8 682.9,140.8 682.9,159.0 682.9,161.6 683.0,152.8 683.0,154.4 683.0,165.6 683.0,156.6 683.0,163.2 683.0,166.4 683.1,162.2 683.1,154.0 683.1,159.9 683.1,154.5 683.1,154.3 683.1,157.7 683.2,149.0 683.2,158.8 683.2,154.7 683.2,141.6 683.2,158.4 683.3,158.4 683.3,152.7 683.3,152.4 683.3,158.7 683.3,155.0 683.3,157.2 683.4,156.8 683.4,158.4 683.4,150.3 683.4,158.0 683.4,161.6 683.4,155.6 683.5,154.9 683.5,149.6 683.5,154.2 683.5,160.5 683.5,141.3 683.5,158.1 683.6,159.0 683.6,157.0 683.6,156.9 683.6,157.2 683.6,154.5 683.6,148.5 683.7,162.1 683.7,154.7 683.7,155.0 683.7,158.4 683.7,155.9 683.7,159.2 683.8,153.2 683.8,157.9 683.8,149.0 683.8,158.1 683.8,141.8 683.8,153.0 683.9,155.7 683.9,157.3 683.9,157.2 683.9,158.2 683.9,154.4 683.9,152.7 684.0,155.1 684.0,155.0 684.0,163.0 684.0,157.1 684.0,153.5 684.0,150.8 684.1,160.7 684.1,159.7 684.1,153.5 684.1,157.1 684.1,142.7 684.2,159.2 684.2,147.1 684.2,162.2 684.2,157.6 684.2,150.7 684.2,154.4 684.3,153.2 684.3,149.6 684.3,160.5 684.3,154.3 684.3,160.0 684.3,161.6 684.4,162.3 684.4,154.3 684.4,161.3 684.4,152.7 684.4,158.3 684.4,144.4 684.5,152.2 684.5,153.8 684.5,161.7 684.5,158.4 684.5,155.3 684.5,157.3 684.6,161.6 684.6,156.0 684.6,152.6 684.6,149.2 684.6,156.1 684.6,157.1 684.7,158.0 684.7,168.4 684.7,152.5 684.7,178.0 684.7,153.2 684.7,141.4 684.8,157.7 684.8,158.0 684.8,155.6 684.8,158.6 684.8,156.4 684.8,155.6 684.9,152.1 684.9,155.3 684.9,154.4 684.9,162.3 684.9,161.2 684.9,164.9 685.0,159.8 685.0,152.2 685.0,153.0 685.0,158.4 685.0,153.5 685.0,144.5 685.1,153.6 685.1,156.8 685.1,157.4 685.1,149.5 685.1,150.7 685.1,170.1 685.2,153.2 685.2,155.7 685.2,150.9 685.2,157.9 685.2,155.3 685.2,161.4 685.3,155.6 685.3,156.5 685.3,156.4 685.3,161.4 685.3,156.0 685.3,141.4 685.4,160.5 685.4,152.3 685.4,161.2 685.4,166.8 685.4,156.7 685.4,155.6 685.5,150.3 685.5,169.9 685.5,154.8 685.5,153.6 685.5,156.6 685.5,153.2 685.5,160.8 685.6,157.0 685.6,163.9 685.6,153.1 685.6,166.9 685.6,143.9 685.6,152.1 685.7,155.6 685.7,157.2 685.7,163.3 685.7,161.1 685.7,152.6 685.7,158.2 685.8,154.9 685.8,156.7 685.8,159.3 685.8,148.9 685.8,159.8 685.8,156.6 685.9,154.8 685.9,154.9 685.9,157.1 685.9,161.7 685.9,141.9 685.9,153.2 686.0,165.8 686.0,155.3 686.0,154.0 686.0,153.3 686.0,160.9 686.0,160.5 686.1,152.9 686.1,153.5 686.1,150.2 686.1,156.2 686.1,161.3 686.1,158.1 686.2,155.6 686.2,160.0 686.2,151.3 686.2,153.6 686.2,148.1 686.2,157.1 686.3,160.1 686.3,156.0 686.3,177.8 686.3,158.3 686.3,156.7 686.3,160.5 686.4,151.4 686.4,153.0 686.4,153.5 686.4,167.2 686.4,157.9 686.4,151.1 686.4,164.5 686.5,162.5 686.5,156.4 686.5,155.8 686.5,143.9 686.5,153.1 686.5,148.5 686.6,152.1 686.6,149.6 686.6,152.1 686.6,155.3 686.6,155.8 686.6,156.2 686.7,160.9 686.7,167.8 686.7,162.4 686.7,160.2 686.7,151.7 686.7,156.6 686.8,158.3 686.8,161.7 686.8,160.7 686.8,141.9 686.8,162.2 686.8,160.1 686.9,158.9 686.9,154.7 686.9,153.6 686.9,151.9 686.9,155.3 686.9,158.8 687.0,160.5 687.0,167.6 687.0,152.4 687.0,153.9 687.0,159.5 687.0,152.4 687.0,153.0 687.1,164.6 687.1,155.9 687.1,141.9 687.1,154.6 687.1,164.0 687.1,161.5 687.2,156.9 687.2,151.2 687.2,168.2 687.2,157.1 687.2,153.7 687.2,152.6 687.3,165.1 687.3,165.1 687.3,154.3 687.3,159.1 687.3,156.8 687.3,156.7 687.4,165.1 687.4,153.8 687.4,143.6 687.4,160.2 687.4,157.7 687.4,159.0 687.4,150.7 687.5,148.7 687.5,154.1 687.5,154.5 687.5,169.1 687.5,156.0 687.5,158.0 687.6,165.8 687.6,147.4 687.6,173.7 687.6,154.5 687.6,161.9 687.6,149.0 687.7,153.8 687.7,151.3 687.7,155.2 687.7,156.7 687.7,154.7 687.7,169.5 687.8,156.2 687.8,152.2 687.8,179.2 687.8,158.1 687.8,154.2 687.8,168.2 687.8,149.5 687.9,153.1 687.9,152.6 687.9,152.8 687.9,151.3 687.9,152.5 687.9,157.8 688.0,143.1 688.0,156.3 688.0,158.3 688.0,157.7 688.0,157.9 688.0,156.0 688.1,152.5 688.1,156.7 688.1,148.5 688.1,152.9 688.1,158.6 688.1,153.2 688.2,162.4 688.2,156.4 688.2,159.7 688.2,155.4 688.2,151.8 688.2,157.5 688.2,143.8 688.3,157.8 688.3,163.6 688.3,160.2 688.3,157.6 688.3,155.6 688.3,159.2 688.4,159.0 688.4,148.7 688.4,158.3 688.4,156.1 688.4,157.8 688.4,155.0 688.5,157.8 688.5,156.8 688.5,164.7 688.5,152.2 688.5,160.3 688.5,145.9 688.5,152.0 688.6,153.9 688.6,155.4 688.6,150.9 688.6,163.3 688.6,157.4 688.6,156.9 688.7,160.1 688.7,151.4 688.7,153.2 688.7,156.0 688.7,155.0 688.7,156.1 688.7,151.7 688.8,150.3 688.8,149.4 688.8,154.8 688.8,144.2 688.8,153.8 688.8,165.1 688.9,151.2 688.9,160.7 688.9,155.5 688.9,158.0 688.9,158.6 688.9,156.2 689.0,157.7 689.0,160.9 689.0,155.7 689.0,152.0 689.0,151.4 689.0,152.8 689.0,154.7 689.1,155.9 689.1,160.9 689.1,148.8 689.1,156.3 689.1,156.3 689.1,153.4 689.2,158.3 689.2,158.2 689.2,153.6 689.2,152.6 689.2,156.6 689.2,153.5 689.2,149.5 689.3,153.6 689.3,157.0 689.3,156.2 689.3,162.2 689.3,158.1 689.3,150.9 689.4,161.8 689.4,143.5 689.4,156.3 689.4,160.9 689.4,161.1 689.4,149.1 689.5,174.4 689.5,153.4 689.5,150.7 689.5,176.8 689.5,160.4 689.5,157.6 689.5,154.9 689.6,163.4 689.6,154.7 689.6,150.5 689.6,156.9 689.6,159.7 689.6,152.7 689.7,142.6 689.7,157.0 689.7,156.9 689.7,160.0 689.7,160.2 689.7,150.3 689.7,161.3 689.8,159.2 689.8,154.9 689.8,150.1 689.8,162.0 689.8,153.6 689.8,155.4 689.9,148.8 689.9,149.4 689.9,153.6 689.9,151.3 689.9,160.3 689.9,145.3 689.9,163.9 690.0,157.4 690.0,163.4 690.0,152.0 690.0,164.8 690.0,166.7 690.0,155.6 690.1,152.3 690.1,162.9 690.1,154.9 690.1,158.3 690.1,153.9 690.1,165.1 690.1,168.2 690.2,148.3 690.2,151.4 690.2,152.4 690.2,142.3 690.2,150.6 690.2,162.8 690.3,160.2 690.3,155.7 690.3,158.3 690.3,157.9 690.3,154.6 690.3,155.1 690.3,156.5 690.4,160.4 690.4,154.3 690.4,156.4 690.4,163.4 690.4,156.7 690.4,157.6 690.5,158.7 690.5,168.1 690.5,145.2 690.5,164.9 690.5,165.1 690.5,156.2 690.5,165.9 690.6,152.1 690.6,154.4 690.6,155.2 690.6,151.2 690.6,157.3 690.6,150.9 690.7,159.8 690.7,162.7 690.7,174.4 690.7,157.0 690.7,154.3 690.7,152.9 690.7,152.5 690.8,145.0 690.8,156.9 690.8,150.3 690.8,159.3 690.8,159.8 690.8,152.9 690.8,154.6 690.9,153.4 690.9,157.1 690.9,164.2 690.9,155.7 690.9,155.4 690.9,154.2 691.0,157.1 691.0,159.3 691.0,160.8 691.0,157.1 691.0,157.2 691.0,144.3 691.0,155.5 691.1,152.1 691.1,150.4 691.1,156.1 691.1,153.8 691.1,166.2 691.1,160.0 691.2,156.0 691.2,163.1 691.2,165.5 691.2,155.8 691.2,157.2 691.2,158.3 691.2,152.6 691.3,156.2 691.3,158.8 691.3,157.8 691.3,149.1 691.3,154.2 691.3,159.5 691.3,155.8 691.4,152.6 691.4,178.0 691.4,160.0 691.4,157.3 691.4,151.7 691.4,154.6 691.5,161.3 691.5,171.8 691.5,163.5 691.5,160.4 691.5,162.8 691.5,156.2 691.5,153.1 691.6,153.1 691.6,142.5 691.6,157.6 691.6,150.3 691.6,156.2 691.6,156.7 691.6,156.9 691.7,161.5 691.7,158.3 691.7,159.5 691.7,164.3 691.7,151.5 691.7,157.1 691.8,153.0 691.8,162.8 691.8,151.2 691.8,154.2 691.8,160.8 691.8,153.1 691.8,148.5 691.9,161.2 691.9,154.1 691.9,155.6 691.9,155.4 691.9,157.6 691.9,156.5 691.9,160.1 692.0,148.8 692.0,153.3 692.0,155.2 692.0,154.7 692.0,157.8 692.0,155.1 692.1,155.7 692.1,158.1 692.1,157.9 692.1,161.8 692.1,146.3 692.1,157.9 692.1,149.4 692.2,157.1 692.2,155.8 692.2,148.3 692.2,155.9 692.2,156.7 692.2,163.6 692.2,162.8 692.3,162.5 692.3,153.9 692.3,152.8 692.3,151.0 692.3,158.3 692.3,151.0 692.4,157.7 692.4,151.3 692.4,143.4 692.4,157.2 692.4,158.7 692.4,147.9 692.4,150.2 692.5,155.6 692.5,166.4 692.5,150.4 692.5,154.3 692.5,151.5 692.5,161.6 692.5,155.7 692.6,151.4 692.6,156.4 692.6,152.3 692.6,156.6 692.6,155.1 692.6,152.6 692.6,145.6 692.7,157.3 692.7,157.6 692.7,156.2 692.7,154.1 692.7,159.7 692.7,150.1 692.8,155.9 692.8,153.9 692.8,153.1 692.8,151.7 692.8,153.1 692.8,169.4 692.8,175.8 692.9,155.4 692.9,156.6 692.9,151.7 692.9,160.6 692.9,145.2 692.9,154.5 692.9,150.8 693.0,155.6 693.0,151.4 693.0,163.7 693.0,153.7 693.0,156.0 693.0,157.9 693.0,155.3 693.1,154.1 693.1,160.4 693.1,157.2 693.1,149.2 693.1,154.7 693.1,164.4 693.1,156.8 693.2,150.5 693.2,142.1 693.2,162.2 693.2,151.9 693.2,157.7 693.2,154.5 693.3,159.1 693.3,158.4 693.3,150.6 693.3,152.2 693.3,151.3 693.3,156.2 693.3,165.2 693.4,165.9 693.4,158.5 693.4,157.7 693.4,156.2 693.4,156.8 693.4,153.4 693.4,146.9 693.5,160.0 693.5,156.0 693.5,162.0 693.5,158.5 693.5,159.7 693.5,155.9 693.5,152.4 693.6,154.1 693.6,160.6 693.6,160.9 693.6,154.7 693.6,153.5 693.6,159.5 693.6,166.3 693.7,166.6 693.7,156.4 693.7,160.4 693.7,143.7 693.7,161.7 693.7,154.7 693.7,156.5 693.8,162.9 693.8,157.8 693.8,157.5 693.8,153.6 693.8,155.8 693.8,157.3 693.8,157.0 693.9,166.0 693.9,154.7 693.9,156.7 693.9,156.5 693.9,158.8 693.9,155.1 694.0,149.1 694.0,142.3 694.0,157.0 694.0,162.9 694.0,157.2 694.0,151.8 694.0,156.1 694.1,165.6 694.1,153.9 694.1,162.2 694.1,155.5 694.1,152.6 694.1,155.1 694.1,155.6 694.2,153.3 694.2,155.4 694.2,158.7 694.2,159.8 694.2,159.2 694.2,143.4 694.2,155.6 694.3,160.8 694.3,154.0 694.3,151.1 694.3,155.2 694.3,154.3 694.3,157.1 694.3,155.2 694.4,156.8 694.4,157.9 694.4,159.3 694.4,155.9 694.4,153.4 694.4,158.5 694.4,156.3 694.5,166.1 694.5,149.0 694.5,143.0 694.5,162.6 694.5,150.8 694.5,154.1 694.5,157.0 694.6,158.4 694.6,151.1 694.6,158.5 694.6,154.7 694.6,156.4 694.6,153.3 694.6,155.5 694.7,160.1 694.7,155.6 694.7,153.6 694.7,159.8 694.7,161.3 694.7,150.8 694.7,143.2 694.8,154.0 694.8,154.2 694.8,153.0 694.8,152.2 694.8,156.4 694.8,155.3 694.8,162.1 694.9,170.9 694.9,162.3 694.9,165.6 694.9,159.8 694.9,155.7 694.9,163.1 694.9,155.6 695.0,161.5 695.0,168.4 695.0,152.1 695.0,149.4 695.0,159.4 695.0,151.4 695.0,159.1 695.1,154.1 695.1,155.3 695.1,156.0 695.1,157.8 695.1,154.8 695.1,158.1 695.1,162.2 695.2,157.3 695.2,150.4 695.2,153.6 695.2,158.9 695.2,156.1 695.2,154.9 695.2,159.4 695.3,142.5 695.3,151.4 695.3,155.7 695.3,157.8 695.3,154.4 695.3,156.0 695.3,160.9 695.4,175.3 695.4,156.1 695.4,154.2 695.4,154.1 695.4,158.2 695.4,151.1 695.4,149.8 695.5,151.6 695.5,160.8 695.5,156.5 695.5,161.4 695.5,142.3 695.5,154.9 695.5,158.9 695.6,151.3 695.6,157.5 695.6,153.1 695.6,157.5 695.6,158.0 695.6,152.4 695.6,159.1 695.7,155.0 695.7,158.7 695.7,156.3 695.7,156.1 695.7,154.9 695.7,154.7 695.7,159.4 695.8,155.2 695.8,143.0 695.8,153.9 695.8,155.2 695.8,154.5 695.8,161.9 695.8,155.5 695.9,156.3 695.9,152.1 695.9,172.5 695.9,153.9 695.9,156.0 695.9,162.6 695.9,152.0 695.9,155.5 696.0,152.0 696.0,154.3 696.0,151.4 696.0,156.0 696.0,144.5 696.0,153.8 696.0,153.3 696.1,152.9 696.1,156.8 696.1,153.9 696.1,149.3 696.1,155.4 696.1,154.8 696.1,154.8 696.2,158.5 696.2,155.7 696.2,159.1 696.2,156.9 696.2,152.1 696.2,156.7 696.2,151.7 696.3,165.3 696.3,142.5 696.3,164.1 696.3,157.1 696.3,158.7 696.3,154.7 696.3,165.1 696.4,153.7 696.4,150.4 696.4,157.7 696.4,154.8 696.4,154.6 696.4,158.5 696.4,151.5 696.5,159.0 696.5,161.3 696.5,156.2 696.5,153.5 696.5,162.1 696.5,142.4 696.5,153.8 696.6,165.4 696.6,153.8 696.6,156.2 696.6,155.6 696.6,150.9 696.6,154.5 696.6,167.2 696.6,152.6 696.7,153.6 696.7,160.0 696.7,158.3 696.7,152.4 696.7,168.0 696.7,154.1 696.7,159.2 696.8,154.1 696.8,146.9 696.8,162.6 696.8,156.6 696.8,156.4 696.8,157.3 696.8,155.4 696.9,152.8 696.9,154.1 696.9,151.9 696.9,165.9 696.9,155.7 696.9,160.9 696.9,159.2 697.0,158.5 697.0,171.8 697.0,157.7 697.0,156.4 697.0,153.1 697.0,142.3 697.0,160.7 697.0,154.2 697.1,154.5 697.1,160.4 697.1,157.9 697.1,154.6 697.1,153.3 697.1,164.8 697.1,164.6 697.2,151.1 697.2,154.7 697.2,156.1 697.2,159.3 697.2,162.7 697.2,149.1 697.2,163.9 697.3,153.5 697.3,145.0 697.3,158.1 697.3,159.6 697.3,156.3 697.3,152.7 697.3,157.2 697.4,156.5 697.4,158.9 697.4,159.7 697.4,154.2 697.4,150.6 697.4,174.1 697.4,155.8 697.4,162.6 697.5,154.9 697.5,160.0 697.5,167.1 697.5,156.1 697.5,144.5 697.5,152.7 697.5,160.9 697.6,150.8 697.6,153.5 697.6,163.9 697.6,157.0 697.6,156.0 697.6,159.9 697.6,158.0 697.7,155.8 697.7,150.5 697.7,155.7 697.7,151.3 697.7,157.2 697.7,162.9 697.7,157.0 697.8,155.3 697.8,145.4 697.8,154.5 697.8,154.1 697.8,154.6 697.8,159.9 697.8,157.8 697.8,160.2 697.9,155.0 697.9,151.0 697.9,154.7 697.9,159.1 697.9,151.9 697.9,153.5 697.9,149.7 698.0,155.8 698.0,154.4 698.0,158.4 698.0,155.5 698.0,143.1 698.0,160.8 698.0,164.7 698.1,176.5 698.1,166.1 698.1,155.2 698.1,158.4 698.1,156.7 698.1,159.9 698.1,155.3 698.1,153.0 698.2,156.6 698.2,163.1 698.2,154.6 698.2,155.0 698.2,161.0 698.2,152.4 698.2,152.3 698.3,143.2 698.3,150.7 698.3,160.2 698.3,155.4 698.3,154.4 698.3,152.4 698.3,162.4 698.3,157.4 698.4,154.0 698.4,154.4 698.4,156.7 698.4,157.7 698.4,159.0 698.4,162.1 698.4,166.4 698.5,153.8 698.5,155.1 698.5,154.4 698.5,148.4 698.5,161.1 698.5,160.2 698.5,155.3 698.6,157.0 698.6,154.3 698.6,163.1 698.6,158.3 698.6,160.5 698.6,163.4 698.6,154.6 698.6,162.7 698.7,155.5 698.7,152.6 698.7,151.0 698.7,157.2 698.7,154.6 698.7,154.0 698.7,144.1 698.8,159.0 698.8,159.8 698.8,151.0 698.8,157.9 698.8,166.6 698.8,155.2 698.8,151.8 698.8,146.8 698.9,149.7 698.9,151.4 698.9,153.1 698.9,153.9 698.9,155.1 698.9,159.7 698.9,160.2 699.0,163.2 699.0,153.3 699.0,143.9 699.0,158.7 699.0,157.4 699.0,153.9 699.0,164.5 699.1,158.4 699.1,155.7 699.1,151.0 699.1,169.5 699.1,160.0 699.1,162.0 699.1,152.8 699.1,153.8 699.2,152.5 699.2,153.6 699.2,153.1 699.2,152.3 699.2,162.7 699.2,142.8 699.2,150.4 699.3,163.2 699.3,154.7 699.3,162.6 699.3,161.2 699.3,158.0 699.3,153.4 699.3,153.0 699.3,158.3 699.4,151.7 699.4,153.2 699.4,151.0 699.4,153.1 699.4,157.1 699.4,151.1 699.4,156.7 699.5,152.9 699.5,145.4 699.5,152.3 699.5,156.3 699.5,164.1 699.5,150.9 699.5,154.3 699.5,155.8 699.6,168.9 699.6,149.7 699.6,153.9 699.6,151.1 699.6,159.9 699.6,151.6 699.6,153.2 699.7,150.1 699.7,163.0 699.7,154.0 699.7,151.1 699.7,146.4 699.7,153.1 699.7,161.0 699.7,180.7 699.8,159.1 699.8,162.4 699.8,156.8 699.8,152.6 699.8,152.0 699.8,158.7 699.8,155.8 699.8,164.2 699.9,152.1 699.9,150.4 699.9,156.5 699.9,152.0 699.9,169.5 699.9,150.3 699.9,145.7 700.0,154.4 700.0,152.6 700.0,161.7 700.0,154.4 700.0,158.7 700.0,166.2 700.0,154.5 700.0,154.0 700.1,157.6 700.1,157.5 700.1,159.1 700.1,165.8 700.1,154.7 700.1,157.7 700.1,174.5 700.2,157.6 700.2,164.6 700.2,143.3 700.2,158.1 700.2,155.5 700.2,158.3 700.2,158.9 700.2,170.6 700.3,158.0 700.3,155.1 700.3,168.1 700.3,155.2 700.3,153.4 700.3,156.4 700.3,157.0 700.4,156.8 700.4,154.5 700.4,154.4 700.4,154.8 700.4,153.0 700.4,142.7 700.4,157.1 700.4,156.1 700.5,152.0 700.5,159.3 700.5,152.8 700.5,166.7 700.5,160.5 700.5,151.6 700.5,151.5 700.5,163.7 700.6,155.0 700.6,154.1 700.6,162.7 700.6,161.1 700.6,154.1 700.6,164.1 700.6,155.2 700.7,143.5 700.7,156.2 700.7,158.3 700.7,165.8 700.7,149.9 700.7,156.4 700.7,155.5 700.7,158.3 700.8,153.5 700.8,153.5 700.8,154.6 700.8,153.7 700.8,159.3 700.8,173.2 700.8,153.2 700.8,152.4 700.9,153.1 700.9,154.3 700.9,146.5 700.9,154.7 700.9,158.1 700.9,166.2 700.9,167.5 701.0,154.7 701.0,155.5 701.0,158.2 701.0,154.4 701.0,152.6 701.0,153.2 701.0,159.7 701.0,152.4 701.1,154.8 701.1,154.2 701.1,164.0 701.1,158.2 701.1,159.3 701.1,143.0 701.1,153.1 701.1,154.8 701.2,149.8 701.2,148.9 701.2,154.7 701.2,156.3 701.2,154.4 701.2,149.9 701.2,158.9 701.3,160.0 701.3,157.2 701.3,150.5 701.3,153.6 701.3,152.8 701.3,162.2 701.3,154.6 701.3,164.0 701.4,144.3 701.4,165.7 701.4,151.7 701.4,165.2 701.4,174.0 701.4,154.4 701.4,165.3 701.4,153.6 701.5,169.8 701.5,152.4 701.5,156.3 701.5,154.7 701.5,177.5 701.5,165.3 701.5,162.2 701.5,158.2 701.6,157.1 701.6,149.4 701.6,147.8 701.6,153.2 701.6,156.4 701.6,159.3 701.6,151.4 701.7,151.9 701.7,156.6 701.7,155.4 701.7,150.9 701.7,159.6 701.7,162.1 701.7,151.4 701.7,160.3 701.8,163.1 701.8,160.2 701.8,161.1 701.8,153.0 701.8,157.5 701.8,146.6 701.8,159.0 701.8,148.5 701.9,156.6 701.9,150.1 701.9,155.3 701.9,153.9 701.9,162.9 701.9,165.0 701.9,157.8 701.9,151.5 702.0,157.1 702.0,153.3 702.0,162.5 702.0,165.7 702.0,158.7 702.0,153.7 702.0,159.4 702.0,142.6 702.1,162.4 702.1,151.9 702.1,153.7 702.1,152.5 702.1,161.6 702.1,155.0 702.1,152.8 702.2,159.3 702.2,158.3 702.2,152.4 702.2,162.0 702.2,159.5 702.2,153.8 702.2,156.0 702.2,154.5 702.3,158.0 702.3,156.1 702.3,145.2 702.3,160.2 702.3,155.0 702.3,158.7 702.3,161.6 702.3,156.6 702.4,158.0 702.4,159.9 702.4,163.8 702.4,154.2 702.4,150.6 702.4,150.4 702.4,163.2 702.4,155.0 702.5,151.3 702.5,154.1 702.5,155.1 702.5,158.9 702.5,142.8 702.5,155.8 702.5,157.5 702.5,152.0 702.6,159.5 702.6,155.5 702.6,155.3 702.6,153.9 702.6,155.3 702.6,155.5 702.6,152.2 702.6,154.9 702.7,157.4 702.7,152.9 702.7,151.4 702.7,158.3 702.7,156.9 702.7,157.4 702.7,147.3 702.8,154.3 702.8,153.3 702.8,156.0 702.8,157.6 702.8,153.9 702.8,155.7 702.8,155.3 702.8,153.8 702.9,153.6 702.9,155.6 702.9,152.1 702.9,154.9 702.9,162.5 702.9,153.7 702.9,150.9 702.9,158.0 703.0,152.3 703.0,150.3 703.0,156.8 703.0,161.3 703.0,180.1 703.0,160.3 703.0,153.8 703.0,151.0 703.1,155.4 703.1,153.4 703.1,156.9 703.1,157.3 703.1,155.1 703.1,159.6 703.1,152.0 703.1,172.0 703.2,156.0 703.2,155.3 703.2,155.7 703.2,143.2 703.2,156.6 703.2,152.8 703.2,155.8 703.2,152.7 703.3,150.1 703.3,150.2 703.3,155.3 703.3,161.3 703.3,153.7 703.3,158.1 703.3,155.6 703.3,155.7 703.4,162.2 703.4,152.0 703.4,168.9 703.4,157.0 703.4,157.2 703.4,146.5 703.4,159.8 703.4,152.4 703.5,154.1 703.5,171.8 703.5,156.9 703.5,154.9 703.5,159.9 703.5,158.6 703.5,162.7 703.5,160.7 703.6,153.3 703.6,156.4 703.6,156.7 703.6,160.1 703.6,156.0 703.6,161.7 703.6,157.4 703.6,143.3 703.7,161.3 703.7,156.0 703.7,171.6 703.7,153.9 703.7,158.1 703.7,154.1 703.7,162.2 703.7,164.5 703.8,150.2 703.8,152.7 703.8,158.3 703.8,155.6 703.8,160.5 703.8,156.4 703.8,153.4 703.8,155.1 703.9,155.7 703.9,146.6 703.9,157.7 703.9,160.8 703.9,165.5 703.9,154.9 703.9,157.9 703.9,152.9 704.0,162.7 704.0,151.1 704.0,157.7 704.0,152.9 704.0,162.3 704.0,159.0 704.0,161.0 704.0,155.9 704.1,153.9 704.1,159.3 704.1,156.2 704.1,144.1 704.1,152.4 704.1,158.2 704.1,156.3 704.1,160.0 704.2,156.6 704.2,154.5 704.2,157.5 704.2,153.0 704.2,157.6 704.2,158.6 704.2,155.2 704.2,151.5 704.3,153.7 704.3,152.0 704.3,157.7 704.3,155.5 704.3,157.2 704.3,143.4 704.3,150.6 704.3,157.7 704.4,154.9 704.4,155.7 704.4,158.2 704.4,162.1 704.4,153.9 704.4,170.2 704.4,151.3 704.4,162.2 704.5,154.6 704.5,167.4 704.5,153.3 704.5,151.6 704.5,159.5 704.5,153.0 704.5,158.5 704.5,144.7 704.5,152.2 704.6,162.4 704.6,151.8 704.6,157.8 704.6,152.9 704.6,155.8 704.6,161.9 704.6,159.8 704.6,160.9 704.7,154.6 704.7,152.1 704.7,161.4 704.7,166.3 704.7,159.1 704.7,169.4 704.7,154.9 704.7,161.4 704.8,144.1 704.8,158.8 704.8,154.3 704.8,155.9 704.8,152.9 704.8,149.9 704.8,152.7 704.8,154.7 704.9,159.0 704.9,152.6 704.9,157.8 704.9,154.9 704.9,157.8 704.9,149.8 704.9,156.3 704.9,153.4 705.0,166.6 705.0,163.5 705.0,143.2 705.0,157.5 705.0,162.6 705.0,172.0 705.0,160.9 705.0,165.5 705.1,166.1 705.1,157.0 705.1,157.1 705.1,163.6 705.1,158.8 705.1,165.5 705.1,158.3 705.1,153.3 705.1,153.8 705.2,160.0 705.2,155.2 705.2,154.7 705.2,143.7 705.2,164.5 705.2,148.9 705.2,154.5 705.2,149.5 705.3,159.6 705.3,151.3 705.3,151.5 705.3,160.4 705.3,155.8 705.3,152.7 705.3,153.9 705.3,154.4 705.4,159.4 705.4,155.8 705.4,158.7 705.4,160.1 705.4,167.5 705.4,144.4 705.4,165.1 705.4,162.8 705.5,154.4 705.5,157.3 705.5,155.4 705.5,162.2 705.5,149.2 705.5,164.8 705.5,151.6 705.5,156.0 705.6,158.8 705.6,155.0 705.6,158.7 705.6,158.4 705.6,156.2 705.6,158.9 705.6,160.0 705.6,146.4 705.6,157.6 705.7,161.6 705.7,159.3 705.7,152.9 705.7,158.8 705.7,157.4 705.7,157.2 705.7,156.0 705.7,156.3 705.8,161.3 705.8,157.3 705.8,154.4 705.8,152.4 705.8,162.7 705.8,169.7 705.8,154.8 705.8,158.1 705.9,144.7 705.9,148.7 705.9,159.5 705.9,155.5 705.9,152.3 705.9,151.3 705.9,164.6 705.9,160.2 706.0,159.1 706.0,161.2 706.0,151.7 706.0,155.7 706.0,160.7 706.0,158.9 706.0,155.2 706.0,154.0 706.0,174.3 706.1,151.6 706.1,142.6 706.1,159.0 706.1,161.5 706.1,154.5 706.1,154.8 706.1,156.7 706.1,158.5 706.2,152.6 706.2,148.5 706.2,156.0 706.2,157.9 706.2,157.1 706.2,159.0 706.2,157.6 706.2,161.4 706.3,156.4 706.3,152.9 706.3,153.2 706.3,150.2 706.3,153.3 706.3,172.2 706.3,155.5 706.3,167.3 706.3,164.3 706.4,158.4 706.4,153.4 706.4,156.9 706.4,159.9 706.4,155.1 706.4,160.3 706.4,160.4 706.4,159.9 706.5,157.1 706.5,152.5 706.5,158.6 706.5,158.0 706.5,143.8 706.5,153.1 706.5,164.1 706.5,156.2 706.6,152.8 706.6,160.6 706.6,153.0 706.6,156.0 706.6,172.9 706.6,160.9 706.6,153.8 706.6,163.6 706.6,163.4 706.7,160.1 706.7,149.2 706.7,158.2 706.7,158.3 706.7,154.2 706.7,146.3 706.7,155.4 706.7,160.9 706.8,154.0 706.8,152.2 706.8,156.7 706.8,155.7 706.8,154.5 706.8,156.4 706.8,165.9 706.8,161.7 706.8,151.8 706.9,154.0 706.9,152.3 706.9,152.4 706.9,155.2 706.9,152.0 706.9,159.2 706.9,143.6 706.9,156.4 707.0,154.7 707.0,154.0 707.0,163.5 707.0,154.7 707.0,150.9 707.0,152.8 707.0,157.1 707.0,152.3 707.1,158.3 707.1,155.6 707.1,159.0 707.1,151.2 707.1,156.8 707.1,155.9 707.1,157.0 707.1,155.9 707.1,146.1 707.2,154.0 707.2,153.6 707.2,151.9 707.2,153.8 707.2,152.9 707.2,156.9 707.2,160.9 707.2,160.6 707.3,151.8 707.3,159.1 707.3,155.6 707.3,160.8 707.3,152.3 707.3,151.2 707.3,153.1 707.3,164.2 707.3,156.7 707.4,146.0 707.4,155.7 707.4,160.1 707.4,157.7 707.4,154.1 707.4,150.3 707.4,154.2 707.4,152.2 707.5,157.6 707.5,155.7 707.5,151.5 707.5,171.3 707.5,160.6 707.5,177.7 707.5,164.0 707.5,163.8 707.5,159.8 707.6,158.3 707.6,142.6 707.6,156.2 707.6,154.8 707.6,151.1 707.6,156.8 707.6,153.2 707.6,170.2 707.7,150.8 707.7,155.2 707.7,152.3 707.7,161.3 707.7,150.1 707.7,158.7 707.7,162.9 707.7,156.8 707.7,156.4 707.8,160.7 707.8,153.5 707.8,147.4 707.8,157.7 707.8,164.8 707.8,160.2 707.8,151.1 707.8,156.5 707.9,156.1 707.9,154.0 707.9,158.6 707.9,165.1 707.9,162.3 707.9,161.9 707.9,156.3 707.9,160.0 707.9,157.0 708.0,168.9 708.0,160.2 708.0,164.2 708.0,143.8 708.0,155.2 708.0,153.3 708.0,165.5 708.0,153.8 708.1,153.7 708.1,150.3 708.1,161.0 708.1,156.7 708.1,161.2 708.1,154.3 708.1,156.3 708.1,158.4 708.1,153.2 708.2,162.7 708.2,161.8 708.2,159.0 708.2,154.1 708.2,143.2 708.2,159.4 708.2,160.4 708.2,163.6 708.2,155.2 708.3,169.8 708.3,162.2 708.3,158.9 708.3,154.9 708.3,157.4 708.3,159.7 708.3,158.2 708.3,150.9 708.4,154.4 708.4,151.6 708.4,162.8 708.4,157.5 708.4,157.7 708.4,144.4 708.4,155.4 708.4,153.1 708.4,154.7 708.5,151.5 708.5,162.5 708.5,152.7 708.5,151.6 708.5,160.4 708.5,161.1 708.5,155.7 708.5,167.3 708.6,152.9 708.6,161.2 708.6,155.9 708.6,159.4 708.6,152.9 708.6,152.3 708.6,144.9 708.6,159.4 708.6,156.7 708.7,155.0 708.7,150.1 708.7,155.3 708.7,153.0 708.7,154.8 708.7,152.4 708.7,166.1 708.7,157.7 708.7,153.9 708.8,163.5 708.8,163.2 708.8,151.6 708.8,152.4 708.8,158.7 708.8,160.0 708.8,144.2 708.8,155.9 708.9,157.2 708.9,151.9 708.9,156.7 708.9,191.3 708.9,149.9 708.9,155.4 708.9,160.0 708.9,154.0 708.9,169.2 709.0,166.1 709.0,160.2 709.0,152.3 709.0,151.1 709.0,158.4 709.0,159.8 709.0,153.5 709.0,143.8 709.0,154.8 709.1,155.4 709.1,155.8 709.1,157.1 709.1,164.0 709.1,163.8 709.1,156.9 709.1,157.4 709.1,155.0 709.2,154.7 709.2,157.0 709.2,155.3 709.2,160.5 709.2,160.9 709.2,162.0 709.2,158.7 709.2,156.8 709.2,144.3 709.3,158.5 709.3,153.2 709.3,152.7 709.3,154.3 709.3,155.6 709.3,154.8 709.3,159.6 709.3,154.9 709.3,159.5 709.4,162.5 709.4,158.6 709.4,162.6 709.4,150.4 709.4,148.9 709.4,155.7 709.4,161.7 709.4,163.2 709.4,148.5 709.5,151.0 709.5,153.8 709.5,153.8 709.5,159.0 709.5,154.4 709.5,167.6 709.5,152.2 709.5,161.0 709.6,157.8 709.6,153.1 709.6,156.0 709.6,161.9 709.6,173.5 709.6,153.5 709.6,169.6 709.6,151.7 709.6,154.9 709.7,144.1 709.7,154.8 709.7,159.4 709.7,161.1 709.7,153.3 709.7,163.7 709.7,158.5 709.7,156.4 709.7,157.8 709.8,162.0 709.8,153.9 709.8,167.6 709.8,150.9 709.8,155.8 709.8,153.0 709.8,157.9 709.8,158.7 709.8,158.8 709.9,144.8 709.9,158.7 709.9,157.4 709.9,158.4 709.9,174.1 709.9,158.2 709.9,157.8 709.9,155.8 710.0,156.0 710.0,156.1 710.0,160.2 710.0,167.4 710.0,156.5 710.0,159.4 710.0,157.0 710.0,160.1 710.0,156.3 710.1,151.8 710.1,146.7 710.1,155.7 710.1,155.5 710.1,156.7 710.1,161.0 710.1,154.5 710.1,155.1 710.1,167.2 710.2,163.8 710.2,166.4 710.2,175.9 710.2,153.7 710.2,156.8 710.2,149.5 710.2,152.6 710.2,156.3 710.2,154.8 710.3,157.0 710.3,143.8 710.3,153.9 710.3,153.3 710.3,152.7 710.3,152.4 710.3,155.5 710.3,161.0 710.3,155.4 710.4,154.6 710.4,153.5 710.4,158.9 710.4,153.7 710.4,159.4 710.4,156.3 710.4,154.5 710.4,157.8 710.4,158.7 710.5,155.9 710.5,145.7 710.5,151.5 710.5,159.9 710.5,158.6 710.5,154.4 710.5,153.7 710.5,155.7 710.5,157.2 710.6,164.1 710.6,153.4 710.6,153.9 710.6,155.5 710.6,160.7 710.6,151.7 710.6,155.8 710.6,163.7 710.6,154.2 710.7,157.3 710.7,153.3 710.7,153.6 710.7,157.1 710.7,154.8 710.7,159.0 710.7,154.2 710.7,152.3 710.8,162.9 710.8,154.9 710.8,152.9 710.8,158.0 710.8,161.6 710.8,155.0 710.8,161.0 710.8,154.9 710.8,161.7 710.9,157.6 710.9,155.5 710.9,144.3 710.9,151.0 710.9,152.6 710.9,157.4 710.9,155.5 710.9,158.2 710.9,151.9 711.0,162.2 711.0,150.7 711.0,156.4 711.0,154.4 711.0,153.7 711.0,154.0 711.0,159.4 711.0,153.8 711.0,159.4 711.1,151.7 711.1,159.1 711.1,143.9 711.1,159.9 711.1,157.6 711.1,154.6 711.1,151.7 711.1,152.1 711.1,153.1 711.2,154.2 711.2,153.6 711.2,153.6 711.2,154.2 711.2,160.5 711.2,166.3 711.2,151.9 711.2,153.9 711.2,154.3 711.3,157.1 711.3,156.8 711.3,145.7 711.3,156.3 711.3,157.0 711.3,163.4 711.3,161.2 711.3,158.3 711.3,152.8 711.4,157.5 711.4,162.6 711.4,163.8 711.4,157.8 711.4,155.3 711.4,167.3 711.4,150.9 711.4,160.5 711.4,160.2 711.5,158.5 711.5,160.6 711.5,148.7 711.5,158.6 711.5,160.0 711.5,150.8 711.5,151.4 711.5,158.4 711.5,152.6 711.6,154.5 711.6,157.8 711.6,159.6 711.6,149.4 711.6,161.4 711.6,151.0 711.6,151.0 711.6,154.3 711.6,155.8 711.7,161.3 711.7,161.3 711.7,146.2 711.7,153.1 711.7,156.6 711.7,163.9 711.7,150.0 711.7,167.4 711.7,154.7 711.8,156.6 711.8,155.6 711.8,152.7 711.8,152.7 711.8,160.3 711.8,161.5 711.8,156.6 711.8,151.6 711.8,172.0 711.9,157.3 711.9,159.1 711.9,144.3 711.9,160.5 711.9,157.1 711.9,157.2 711.9,157.4 711.9,165.2 711.9,172.5 711.9,155.4 712.0,157.0 712.0,151.8 712.0,157.7 712.0,153.1 712.0,154.0 712.0,156.9 712.0,152.5 712.0,160.2 712.0,159.0 712.1,153.9 712.1,147.8 712.1,163.8 712.1,154.8 712.1,151.2 712.1,156.2 712.1,159.7 712.1,156.4 712.1,155.8 712.2,163.4 712.2,155.1 712.2,151.6 712.2,166.2 712.2,158.6 712.2,157.0 712.2,159.2 712.2,156.1 712.2,161.2 712.3,152.8 712.3,145.2 712.3,154.9 712.3,153.7 712.3,153.8 712.3,158.7 712.3,157.0 712.3,154.6 712.3,154.9 712.4,159.1 712.4,156.6 712.4,162.0 712.4,150.1 712.4,161.5 712.4,163.9 712.4,159.4 712.4,162.4 712.4,150.5 712.5,153.8 712.5,144.0 712.5,164.1 712.5,150.3 712.5,151.2 712.5,155.0 712.5,154.1 712.5,157.1 712.5,151.7 712.6,153.8 712.6,155.6 712.6,151.7 712.6,161.3 712.6,153.0 712.6,153.5 712.6,158.0 712.6,156.6 712.6,162.7 712.7,155.9 712.7,143.9 712.7,156.3 712.7,147.9 712.7,162.9 712.7,161.0 712.7,156.8 712.7,163.5 712.7,157.4 712.7,153.4 712.8,154.0 712.8,165.1 712.8,157.1 712.8,159.1 712.8,151.8 712.8,153.8 712.8,157.3 712.8,153.4 712.8,156.5 712.9,145.8 712.9,168.3 712.9,159.1 712.9,153.2 712.9,162.3 712.9,159.3 712.9,155.9 712.9,164.3 712.9,155.8 713.0,155.6 713.0,151.7 713.0,161.5 713.0,155.8 713.0,150.9 713.0,153.4 713.0,158.7 713.0,154.7 713.0,158.8 713.1,146.8 713.1,164.8 713.1,153.4 713.1,154.9 713.1,155.7 713.1,162.0 713.1,151.3 713.1,157.7 713.1,153.9 713.1,153.6 713.2,166.1 713.2,160.5 713.2,159.5 713.2,153.5 713.2,159.8 713.2,159.6 713.2,149.7 713.2,156.1 713.2,144.4 713.3,152.4 713.3,151.4 713.3,163.8 713.3,160.5 713.3,157.4 713.3,150.6 713.3,159.5 713.3,162.6 713.3,156.3 713.4,162.7 713.4,154.3 713.4,158.1 713.4,156.7 713.4,159.6 713.4,153.5 713.4,167.5 713.4,155.4 713.4,143.4 713.5,160.7 713.5,157.0 713.5,154.3 713.5,160.6 713.5,159.8 713.5,149.5 713.5,167.1 713.5,158.5 713.5,157.3 713.5,164.1 713.6,163.9 713.6,159.1 713.6,153.5 713.6,161.3 713.6,149.4 713.6,162.5 713.6,158.4 713.6,146.2 713.6,154.0 713.7,155.3 713.7,156.7 713.7,155.9 713.7,151.3 713.7,151.1 713.7,159.7 713.7,154.2 713.7,156.8 713.7,157.3 713.8,151.6 713.8,153.9 713.8,161.2 713.8,158.6 713.8,148.9 713.8,153.1 713.8,152.9 713.8,144.7 713.8,157.0 713.8,164.0 713.9,151.0 713.9,178.4 713.9,152.3 713.9,161.8 713.9,167.4 713.9,153.8 713.9,153.9 713.9,156.1 713.9,154.7 714.0,157.9 714.0,155.2 714.0,152.1 714.0,167.0 714.0,160.1 714.0,155.0 714.0,142.6 714.0,154.4 714.0,154.7 714.1,154.1 714.1,158.4 714.1,153.3 714.1,156.5 714.1,161.8 714.1,155.3 714.1,152.1 714.1,158.8 714.1,154.6 714.1,150.5 714.2,158.6 714.2,154.3 714.2,158.4 714.2,151.6 714.2,153.8 714.2,146.3 714.2,155.1 714.2,160.5 714.2,157.6 714.3,155.2 714.3,161.2 714.3,159.1 714.3,153.5 714.3,156.7 714.3,157.8 714.3,157.3 714.3,153.6 714.3,162.7 714.3,151.6 714.4,154.0 714.4,156.4 714.4,154.3 714.4,158.7 714.4,145.7 714.4,153.8 714.4,157.1 714.4,157.5 714.4,151.3 714.5,160.4 714.5,154.9 714.5,153.3 714.5,151.1 714.5,153.3 714.5,159.8 714.5,155.9 714.5,157.3 714.5,161.6 714.5,161.1 714.6,161.8 714.6,155.5 714.6,156.7 714.6,142.1 714.6,159.1 714.6,168.3 714.6,152.1 714.6,159.8 714.6,155.7 714.7,159.0 714.7,176.2 714.7,159.6 714.7,160.5 714.7,160.5 714.7,158.2 714.7,151.0 714.7,152.4 714.7,157.4 714.7,169.7 714.8,157.6 714.8,159.0 714.8,142.0 714.8,155.5 714.8,163.1 714.8,149.1 714.8,149.1 714.8,148.8 714.8,150.8 714.9,163.9 714.9,153.0 714.9,153.0 714.9,156.3 714.9,153.2 714.9,155.7 714.9,168.2 714.9,161.5 714.9,157.6 714.9,153.6 715.0,160.5 715.0,143.1 715.0,170.8 715.0,154.7 715.0,158.6 715.0,152.6 715.0,155.6 715.0,160.2 715.0,163.5 715.1,155.1 715.1,154.3 715.1,161.1 715.1,155.7 715.1,171.8 715.1,159.4 715.1,156.7 715.1,155.6 715.1,158.1 715.1,155.4 715.2,142.8 715.2,158.4 715.2,158.4 715.2,158.2 715.2,163.0 715.2,152.9 715.2,153.6 715.2,160.0 715.2,157.2 715.3,155.2 715.3,151.5 715.3,153.8 715.3,161.9 715.3,157.1 715.3,155.9 715.3,157.8 715.3,156.7 715.3,175.0 715.3,140.9 715.4,160.1 715.4,155.4 715.4,154.1 715.4,152.4 715.4,159.5 715.4,156.4 715.4,152.1 715.4,152.8 715.4,155.3 715.5,154.4 715.5,148.0 715.5,155.8 715.5,157.4 715.5,168.5 715.5,153.6 715.5,153.0 715.5,154.0 715.5,141.2 715.5,154.2 715.6,160.5 715.6,155.3 715.6,161.0 715.6,161.2 715.6,153.6 715.6,150.3 715.6,156.9 715.6,153.9 715.6,158.1 715.6,161.6 715.7,151.5 715.7,158.3 715.7,158.4 715.7,156.8 715.7,156.1 715.7,155.6 715.7,145.2 715.7,157.2 715.7,157.1 715.8,150.8 715.8,158.2 715.8,153.4 715.8,166.5 715.8,157.2 715.8,153.0 715.8,155.8 715.8,153.5 715.8,159.0 715.8,161.9 715.9,156.4 715.9,155.5 715.9,156.7 715.9,156.1 715.9,155.5 715.9,141.9 715.9,158.5 715.9,153.1 715.9,162.4 716.0,149.6 716.0,162.9 716.0,156.1 716.0,157.6 716.0,159.3 716.0,160.2 716.0,169.3 716.0,153.7 716.0,155.8 716.0,153.3 716.1,156.7 716.1,156.3 716.1,163.6 716.1,151.2 716.1,141.8 716.1,154.8 716.1,155.6 716.1,155.9 716.1,153.2 716.1,156.1 716.2,159.7 716.2,154.9 716.2,154.7 716.2,155.2 716.2,156.5 716.2,158.2 716.2,157.7 716.2,162.8 716.2,164.7 716.2,153.9 716.3,155.4 716.3,152.6 716.3,140.3 716.3,151.8 716.3,151.1 716.3,155.7 716.3,152.4 716.3,160.8 716.3,154.0 716.4,162.5 716.4,153.6 716.4,156.8 716.4,154.9 716.4,161.6 716.4,151.5 716.4,158.9 716.4,164.2 716.4,155.6 716.4,156.3 716.5,166.8 716.5,140.0 716.5,155.7 716.5,159.1 716.5,159.5 716.5,154.8 716.5,164.3 716.5,155.0 716.5,171.0 716.5,156.7 716.6,162.4 716.6,156.1 716.6,156.4 716.6,152.8 716.6,159.7 716.6,155.8 716.6,162.7 716.6,160.1 716.6,158.7 716.7,140.6 716.7,156.8 716.7,154.3 716.7,152.1 716.7,152.2 716.7,160.2 716.7,163.4 716.7,156.5 716.7,156.1 716.7,161.5 716.8,154.4 716.8,155.5 716.8,158.3 716.8,153.6 716.8,155.3 716.8,156.4 716.8,153.6 716.8,152.0 716.8,142.3 716.8,160.2 716.9,156.0 716.9,150.8 716.9,160.1 716.9,155.8 716.9,158.2 716.9,157.2 716.9,159.9 716.9,155.1 716.9,153.7 716.9,154.4 717.0,164.9 717.0,165.4 717.0,152.3 717.0,156.1 717.0,156.5 717.0,157.8 717.0,141.2 717.0,162.2 717.0,150.9 717.0,155.9 717.1,151.1 717.1,160.1 717.1,166.0 717.1,155.2 717.1,158.6 717.1,154.1 717.1,154.9 717.1,160.7 717.1,153.9 717.2,162.4 717.2,151.5 717.2,156.9 717.2,156.0 717.2,150.6 717.2,142.5 717.2,155.1 717.2,162.6 717.2,156.4 717.2,149.4 717.3,155.3 717.3,156.6 717.3,153.7 717.3,155.1 717.3,158.8 717.3,161.0 717.3,149.4 717.3,154.3 717.3,155.9 717.3,156.9 717.4,153.5 717.4,153.6 717.4,169.8 717.4,141.9 717.4,153.7 717.4,159.8 717.4,158.9 717.4,153.7 717.4,154.0 717.4,156.1 717.5,154.9 717.5,158.2 717.5,154.6 717.5,158.6 717.5,158.3 717.5,153.6 717.5,151.4 717.5,160.7 717.5,149.5 717.5,153.9 717.6,157.9 717.6,139.2 717.6,153.0 717.6,158.9 717.6,150.4 717.6,155.5 717.6,161.0 717.6,152.8 717.6,155.4 717.6,163.4 717.7,154.7 717.7,156.4 717.7,167.4 717.7,162.0 717.7,154.5 717.7,156.5 717.7,154.4 717.7,155.0 717.7,155.3 717.7,141.2 717.8,157.5 717.8,155.1 717.8,166.0 717.8,161.6 717.8,156.4 717.8,152.4 717.8,155.3 717.8,160.4 717.8,155.8 717.8,150.5 717.9,157.4 717.9,153.4 717.9,157.1 717.9,156.2 717.9,153.9 717.9,154.8 717.9,162.7 717.9,141.5 717.9,150.6 717.9,151.6 718.0,161.4 718.0,162.1 718.0,156.4 718.0,159.2 718.0,152.1 718.0,160.7 718.0,153.0 718.0,152.2 718.0,157.2 718.0,158.2 718.1,160.2 718.1,155.3 718.1,156.3 718.1,162.5 718.1,163.8 718.1,140.5 718.1,153.5 718.1,157.6 718.1,166.4 718.1,152.5 718.2,157.7 718.2,155.0 718.2,159.9 718.2,151.5 718.2,163.0 718.2,160.2 718.2,157.4 718.2,161.9 718.2,160.4 718.2,167.4 718.3,157.7 718.3,153.5 718.3,160.5 718.3,139.9 718.3,154.7 718.3,155.7 718.3,156.7 718.3,163.8 718.3,160.0 718.3,156.4 718.4,160.7 718.4,157.0 718.4,154.1 718.4,154.2 718.4,159.8 718.4,153.3 718.4,154.9 718.4,157.0 718.4,154.6 718.4,153.3 718.5,149.5 718.5,144.1 718.5,158.0 718.5,152.4 718.5,162.5 718.5,158.9 718.5,162.7 718.5,161.6 718.5,157.7 718.5,154.1 718.6,164.5 718.6,158.5 718.6,159.1 718.6,157.1 718.6,152.7 718.6,154.1 718.6,158.4 718.6,161.3 718.6,155.4 718.6,143.4 718.7,159.9 718.7,161.4 718.7,173.1 718.7,158.0 718.7,156.6 718.7,156.6 718.7,150.4 718.7,156.2 718.7,155.1 718.7,157.0 718.8,157.9 718.8,152.2 718.8,161.1 718.8,159.6 718.8,154.9 718.8,156.3 718.8,155.3 718.8,139.9 718.8,153.4 718.8,160.6 718.9,157.1 718.9,154.4 718.9,160.9 718.9,153.5 718.9,150.7 718.9,159.9 718.9,153.1 718.9,154.1 718.9,149.6 718.9,154.5 719.0,154.2 719.0,153.3 719.0,155.8 719.0,153.2 719.0,151.3 719.0,140.0 719.0,162.0 719.0,162.5 719.0,154.7 719.0,159.3 719.1,180.2 719.1,157.3 719.1,157.8 719.1,156.6 719.1,157.3 719.1,155.0 719.1,159.6 719.1,158.6 719.1,156.9 719.1,156.5 719.2,158.3 719.2,155.0 719.2,154.8 719.2,142.3 719.2,163.1 719.2,167.5 719.2,162.6 719.2,157.7 719.2,149.2 719.2,162.7 719.2,162.4 719.3,156.9 719.3,160.6 719.3,162.2 719.3,154.7 719.3,157.8 719.3,162.8 719.3,153.9 719.3,156.6 719.3,154.0 719.3,154.3 719.4,144.4 719.4,158.3 719.4,156.7 719.4,151.2 719.4,157.9 719.4,170.0 719.4,159.7 719.4,160.8 719.4,154.3 719.4,161.3 719.5,156.0 719.5,156.6 719.5,152.5 719.5,158.7 719.5,162.1 719.5,153.2 719.5,157.9 719.5,148.5 719.5,140.8 719.5,150.2 719.6,158.9 719.6,156.1 719.6,153.5 719.6,163.0 719.6,162.3 719.6,161.4 719.6,155.7 719.6,151.1 719.6,158.2 719.6,168.9 719.7,173.5 719.7,167.2 719.7,156.9 719.7,151.7 719.7,160.7 719.7,154.0 719.7,144.4 719.7,160.4 719.7,164.0 719.7,157.8 719.7,153.6 719.8,153.1 719.8,156.0 719.8,159.2 719.8,152.5 719.8,158.7 719.8,157.6 719.8,157.5 719.8,161.5 719.8,158.2 719.8,156.6 719.9,159.1 719.9,162.1 719.9,164.0 719.9,141.9 719.9,155.0 719.9,163.7 719.9,157.3 719.9,156.7 719.9,154.4 719.9,161.9 720.0,154.6 720.0,168.3 720.0,155.6 720.0,154.5 720.0,160.5 720.0,162.8 720.0,166.4 720.0,155.1 720.0,165.4 720.0,156.0 720.1,154.2 720.1,142.1 720.1,168.2 720.1,159.2 720.1,153.4 720.1,153.0 720.1,160.0 720.1,154.6 720.1,152.9 720.1,155.3 720.1,156.0 720.2,153.8 720.2,153.9 720.2,156.3 720.2,156.4 720.2,159.8 720.2,163.9 720.2,158.5 720.2,165.7 720.2,140.1 720.2,155.8 720.3,152.9 720.3,158.5 720.3,162.3 720.3,153.8 720.3,152.7 720.3,152.9 720.3,153.0 720.3,152.3 720.3,154.8 720.3,155.7 720.4,153.8 720.4,161.8 720.4,154.9 720.4,154.3 720.4,156.2 720.4,156.4 720.4,141.1 720.4,153.5 720.4,153.0 720.4,157.0 720.4,154.9 720.5,167.2 720.5,159.8 720.5,160.7 720.5,158.4 720.5,154.4 720.5,152.7 720.5,159.6 720.5,157.9 720.5,154.6 720.5,165.3 720.6,160.2 720.6,157.1 720.6,160.9 720.6,140.6 720.6,150.5 720.6,161.2 720.6,171.0 720.6,164.0 720.6,159.0 720.6,154.2 720.7,168.7 720.7,160.9 720.7,157.6 720.7,151.9 720.7,152.9 720.7,162.4 720.7,162.0 720.7,157.2 720.7,153.5 720.7,155.4 720.7,151.0 720.8,140.8 720.8,157.9 720.8,154.7 720.8,153.6 720.8,153.8 720.8,153.4 720.8,206.2 720.8,161.3 720.8,156.5 720.8,162.1 720.9,159.2 720.9,154.5 720.9,159.1 720.9,154.4 720.9,164.0 720.9,154.1 720.9,167.3 720.9,154.4 720.9,140.9 720.9,158.0 720.9,164.8 721.0,152.9 721.0,157.1 721.0,160.6 721.0,158.7 721.0,159.1 721.0,159.8 721.0,157.0 721.0,153.1 721.0,154.5 721.0,164.2 721.1,155.5 721.1,155.7 721.1,157.6 721.1,159.6 721.1,161.1 721.1,143.2 721.1,159.3 721.1,159.3 721.1,159.4 721.1,154.4 721.2,159.9 721.2,164.6 721.2,159.1 721.2,167.7 721.2,151.8 721.2,160.6 721.2,162.2 721.2,161.0 721.2,156.2 721.2,159.0 721.2,160.2 721.3,160.7 721.3,159.0 721.3,143.6 721.3,156.9 721.3,167.8 721.3,154.3 721.3,162.3 721.3,153.9 721.3,160.1 721.3,153.9 721.4,166.8 721.4,155.1 721.4,149.0 721.4,165.9 721.4,163.9 721.4,167.6 721.4,157.9 721.4,165.7 721.4,152.3 721.4,159.1 721.4,141.2 721.5,154.7 721.5,156.1 721.5,159.6 721.5,154.6 721.5,166.8 721.5,152.5 721.5,155.1 721.5,158.4 721.5,158.2 721.5,159.9 721.6,159.2 721.6,162.7 721.6,155.7 721.6,161.6 721.6,155.2 721.6,163.2 721.6,155.1 721.6,141.1 721.6,153.3 721.6,152.5 721.6,153.6 721.7,163.4 721.7,153.0 721.7,151.7 721.7,156.1 721.7,160.7 721.7,155.2 721.7,155.3 721.7,155.7 721.7,162.4 721.7,156.5 721.7,162.1 721.8,162.8 721.8,160.7 721.8,151.8 721.8,149.0 721.8,162.2 721.8,158.7 721.8,158.9 721.8,152.2 721.8,164.7 721.8,159.6 721.9,159.1 721.9,155.9 721.9,159.3 721.9,156.6 721.9,156.5 721.9,154.6 721.9,152.4 721.9,155.5 721.9,150.8 721.9,157.7 721.9,157.1 722.0,143.6 722.0,157.6 722.0,153.4 722.0,159.7 722.0,166.3 722.0,156.8 722.0,157.0 722.0,153.6 722.0,160.0 722.0,154.6 722.1,160.9 722.1,161.5 722.1,156.8 722.1,153.5 722.1,155.9 722.1,151.8 722.1,152.9 722.1,157.0 722.1,144.0 722.1,153.0 722.1,151.6 722.2,161.2 722.2,151.9 722.2,155.2 722.2,159.9 722.2,154.4 722.2,160.1 722.2,165.1 722.2,156.7 722.2,161.0 722.2,162.7 722.2,150.2 722.3,154.2 722.3,151.9 722.3,152.4 722.3,164.9 722.3,141.7 722.3,155.7 722.3,150.4 722.3,153.7 722.3,159.8 722.3,156.9 722.4,164.3 722.4,164.0 722.4,153.6 722.4,164.4 722.4,162.1 722.4,160.5 722.4,154.4 722.4,156.0 722.4,157.9 722.4,156.3 722.4,153.5 722.5,157.3 722.5,144.6 722.5,152.5 722.5,159.1 722.5,152.7 722.5,159.4 722.5,166.4 722.5,158.0 722.5,154.5 722.5,157.7 722.5,163.7 722.6,153.0 722.6,156.5 722.6,155.7 722.6,161.4 722.6,162.2 722.6,162.3 722.6,160.5 722.6,159.6 722.6,142.7 722.6,155.0 722.7,170.7 722.7,163.7 722.7,158.3 722.7,157.3 722.7,161.3 722.7,156.3 722.7,153.3 722.7,158.3 722.7,159.1 722.7,159.7 722.7,154.9 722.8,161.1 722.8,159.3 722.8,158.9 722.8,154.6 722.8,155.5 722.8,142.2 722.8,160.4 722.8,161.7 722.8,156.5 722.8,162.1 722.8,154.1 722.9,153.8 722.9,157.9 722.9,155.0 722.9,160.1 722.9,156.6 722.9,155.2 722.9,161.4 722.9,162.6 722.9,166.7 722.9,154.7 723.0,156.3 723.0,156.4 723.0,145.0 723.0,153.2 723.0,153.7 723.0,157.3 723.0,155.4 723.0,169.3 723.0,156.6 723.0,164.0 723.0,164.2 723.1,153.2 723.1,157.5 723.1,152.8 723.1,160.3 723.1,155.7 723.1,148.8 723.1,159.4 723.1,156.0 723.1,154.7 723.1,142.4 723.1,163.2 723.2,156.0 723.2,157.7 723.2,158.3 723.2,154.7 723.2,152.4 723.2,156.1 723.2,155.3 723.2,151.8 723.2,162.2 723.2,161.0 723.2,154.5 723.3,165.5 723.3,149.9 723.3,169.9 723.3,150.0 723.3,151.6 723.3,143.2 723.3,158.3 723.3,150.8 723.3,154.5 723.3,153.8 723.3,149.4 723.4,156.9 723.4,158.5 723.4,157.7 723.4,155.5 723.4,160.2 723.4,158.9 723.4,149.9 723.4,158.3 723.4,170.4 723.4,151.4 723.5,151.3 723.5,157.4 723.5,144.5 723.5,154.8 723.5,156.5 723.5,155.1 723.5,155.3 723.5,159.5 723.5,157.0 723.5,156.3 723.5,151.5 723.6,162.0 723.6,158.0 723.6,166.1 723.6,150.8 723.6,162.0 723.6,162.1 723.6,151.0 723.6,162.3 723.6,160.1 723.6,141.7 723.6,165.3 723.7,156.1 723.7,158.6 723.7,154.1 723.7,167.6 723.7,154.6 723.7,159.3 723.7,161.4 723.7,159.6 723.7,163.4 723.7,164.5 723.7,163.5 723.8,156.8 723.8,158.0 723.8,164.4 723.8,152.9 723.8,160.0 723.8,141.1 723.8,166.0 723.8,155.0 723.8,157.0 723.8,152.2 723.8,160.8 723.9,158.3 723.9,156.8 723.9,155.9 723.9,151.1 723.9,155.3 723.9,158.2 723.9,154.5 723.9,154.1 723.9,153.3 723.9,155.5 723.9,162.4 724.0,159.4 724.0,141.1 724.0,158.5 724.0,156.6 724.0,152.2 724.0,160.9 724.0,154.2 724.0,155.9 724.0,162.5 724.0,160.2 724.0,155.7 724.1,157.4 724.1,154.1 724.1,152.5 724.1,159.5 724.1,152.4 724.1,158.7 724.1,155.3 724.1,160.5 724.1,142.6 724.1,152.2 724.1,158.1 724.2,160.3 724.2,152.5 724.2,158.7 724.2,159.7 724.2,155.3 724.2,162.6 724.2,156.4 724.2,153.9 724.2,160.3 724.2,161.7 724.2,157.3 724.3,160.0 724.3,154.5 724.3,171.9 724.3,153.4 724.3,141.6 724.3,162.0 724.3,156.5 724.3,157.1 724.3,177.6 724.3,164.0 724.3,156.4 724.4,158.5 724.4,162.7 724.4,155.5 724.4,155.4 724.4,165.2 724.4,152.4 724.4,156.7 724.4,158.6 724.4,158.1 724.4,155.2 724.4,156.8 724.5,141.5 724.5,155.4 724.5,154.4 724.5,153.1 724.5,158.4 724.5,151.4 724.5,159.2 724.5,162.2 724.5,157.2 724.5,159.6 724.5,158.3 724.6,158.5 724.6,153.9 724.6,171.7 724.6,161.3 724.6,161.4 724.6,154.5 724.6,155.9 724.6,144.3 724.6,171.4 724.6,160.0 724.6,151.6 724.7,158.0 724.7,157.3 724.7,149.8 724.7,161.4 724.7,153.7 724.7,157.8 724.7,153.8 724.7,157.7 724.7,158.3 724.7,153.9 724.7,153.9 724.8,157.2 724.8,159.8 724.8,155.0 724.8,141.0 724.8,151.1 724.8,157.2 724.8,152.6 724.8,159.3 724.8,157.0 724.8,156.1 724.8,161.2 724.9,171.9 724.9,152.3 724.9,155.9 724.9,161.4 724.9,153.7 724.9,160.2 724.9,162.8 724.9,156.1 724.9,158.1 724.9,152.4 724.9,140.7 725.0,166.5 725.0,155.1 725.0,170.5 725.0,153.2 725.0,156.0 725.0,155.7 725.0,155.1 725.0,157.3 725.0,154.3 725.0,155.4 725.0,162.9 725.1,152.2 725.1,154.6 725.1,164.3 725.1,155.6 725.1,155.0 725.1,156.9 725.1,140.9 725.1,160.7 725.1,157.1 725.1,154.4 725.1,168.8 725.2,166.6 725.2,173.6 725.2,154.6 725.2,157.1 725.2,154.5 725.2,160.0 725.2,155.7 725.2,156.7 725.2,156.2 725.2,150.7 725.2,162.7 725.3,161.3 725.3,159.7 725.3,144.3 725.3,150.3 725.3,149.2 725.3,153.0 725.3,157.5 725.3,158.9 725.3,153.7 725.3,155.2 725.3,163.2 725.4,161.3 725.4,163.3 725.4,154.1 725.4,157.7 725.4,152.9 725.4,157.7 725.4,153.7 725.4,155.6 725.4,160.5 725.4,144.4 725.4,160.7 725.4,158.0 725.5,152.4 725.5,151.2 725.5,168.6 725.5,156.6 725.5,154.7 725.5,161.2 725.5,155.8 725.5,154.3 725.5,151.7 725.5,155.3 725.5,158.6 725.6,162.3 725.6,158.4 725.6,169.9 725.6,153.0 725.6,141.6 725.6,153.3 725.6,159.9 725.6,152.2 725.6,155.7 725.6,156.6 725.6,154.6 725.7,158.1 725.7,156.6 725.7,155.6 725.7,153.8 725.7,156.6 725.7,164.5 725.7,157.8 725.7,158.0 725.7,153.4 725.7,172.5 725.7,156.7 725.8,142.4 725.8,153.3 725.8,160.6 725.8,153.3 725.8,158.5 725.8,156.0 725.8,164.2 725.8,154.3 725.8,160.1 725.8,154.1 725.8,155.9 725.9,159.1 725.9,156.8 725.9,156.6 725.9,175.1 725.9,154.0 725.9,156.7 725.9,151.0 725.9,141.1 725.9,171.1 725.9,155.9 725.9,154.1 725.9,160.8 726.0,167.6 726.0,157.2 726.0,157.3 726.0,161.7 726.0,165.1 726.0,159.2 726.0,154.9 726.0,157.1 726.0,155.9 726.0,157.3 726.0,155.4 726.1,150.7 726.1,168.0 726.1,142.1 726.1,157.3 726.1,158.3 726.1,158.3 726.1,155.6 726.1,160.4 726.1,168.6 726.1,157.1 726.1,158.2 726.2,159.9 726.2,155.7 726.2,158.5 726.2,153.4 726.2,157.3 726.2,156.9 726.2,161.0 726.2,154.1 726.2,150.3 726.2,142.5 726.2,152.2 726.2,153.8 726.3,161.1 726.3,158.7 726.3,158.0 726.3,159.4 726.3,150.5 726.3,159.4 726.3,150.5 726.3,159.7 726.3,161.0 726.3,158.5 726.3,155.0 726.4,155.7 726.4,153.0 726.4,155.8 726.4,157.5 726.4,141.8 726.4,156.5 726.4,153.9 726.4,154.2 726.4,163.7 726.4,153.1 726.4,161.1 726.5,167.1 726.5,158.3 726.5,157.1 726.5,154.8 726.5,151.5 726.5,162.4 726.5,160.1 726.5,155.9 726.5,157.4 726.5,164.1 726.5,157.1 726.5,142.3 726.6,163.4 726.6,160.1 726.6,153.6 726.6,151.6 726.6,162.3 726.6,157.0 726.6,151.1 726.6,156.6 726.6,166.1 726.6,152.1 726.6,156.9 726.7,155.6 726.7,157.8 726.7,152.5 726.7,157.9 726.7,165.3 726.7,157.2 726.7,143.2 726.7,160.5 726.7,160.1 726.7,153.3 726.7,159.7 726.8,156.0 726.8,149.6 726.8,153.7 726.8,157.2 726.8,161.2 726.8,166.7 726.8,157.7 726.8,158.6 726.8,158.5 726.8,155.6 726.8,164.6 726.8,153.1 726.9,171.8 726.9,141.0 726.9,159.5 726.9,169.0 726.9,169.1 726.9,160.5 726.9,158.3 726.9,162.1 726.9,150.7 726.9,154.8 726.9,162.8 727.0,169.3 727.0,150.7 727.0,162.2 727.0,156.8 727.0,152.5 727.0,155.0 727.0,161.4 727.0,155.9 727.0,139.7 727.0,156.6 727.0,158.3 727.0,159.0 727.1,157.2 727.1,156.8 727.1,151.9 727.1,162.4 727.1,161.8 727.1,158.5 727.1,154.8 727.1,161.1 727.1,159.4 727.1,160.4 727.1,157.5 727.2,158.9 727.2,155.2 727.2,162.3 727.2,140.8 727.2,153.2 727.2,169.8 727.2,182.9 727.2,154.3 727.2,164.6 727.2,161.8 727.2,167.3 727.2,155.9 727.3,156.8 727.3,156.7 727.3,165.3 727.3,162.1 727.3,162.6 727.3,152.8 727.3,151.2 727.3,155.8 727.3,152.3 727.3,139.8 727.3,155.7 727.4,160.7 727.4,162.9 727.4,155.9 727.4,154.1 727.4,159.5 727.4,156.2 727.4,158.3 727.4,155.2 727.4,158.0 727.4,173.6 727.4,165.3 727.4,161.9 727.5,167.3 727.5,153.8 727.5,156.0 727.5,162.7 727.5,141.9 727.5,157.5 727.5,152.1 727.5,163.3 727.5,159.8 727.5,155.2 727.5,154.6 727.6,157.8 727.6,159.6 727.6,160.7 727.6,166.2 727.6,155.2 727.6,158.0 727.6,158.3 727.6,153.5 727.6,160.8 727.6,163.2 727.6,160.9 727.6,142.0 727.7,153.7 727.7,151.2 727.7,158.2 727.7,153.0 727.7,160.3 727.7,157.5 727.7,167.0 727.7,152.2 727.7,151.9 727.7,156.3 727.7,154.6 727.8,157.1 727.8,155.5 727.8,166.0 727.8,151.9 727.8,156.5 727.8,163.4 727.8,139.9 727.8,165.4 727.8,157.8 727.8,159.8 727.8,150.4 727.8,155.5 727.9,163.1 727.9,163.0 727.9,169.5 727.9,162.6 727.9,157.4 727.9,158.2 727.9,156.1 727.9,156.5 727.9,153.9 727.9,156.7 727.9,154.3 728.0,176.4 728.0,140.2 728.0,153.4 728.0,161.3 728.0,157.0 728.0,166.6 728.0,155.8 728.0,158.4 728.0,161.3 728.0,158.7 728.0,157.9 728.0,155.6 728.1,158.0 728.1,151.5 728.1,156.1 728.1,153.4 728.1,157.4 728.1,153.5 728.1,169.3 728.1,146.0 728.1,155.0 728.1,165.0 728.1,156.3 728.1,152.5 728.2,159.1 728.2,159.9 728.2,168.1 728.2,151.6 728.2,163.3 728.2,156.6 728.2,161.2 728.2,158.3 728.2,151.8 728.2,147.3 728.2,154.6 728.3,161.0 728.3,151.4 728.3,140.3 728.3,158.1 728.3,154.8 728.3,155.3 728.3,153.2 728.3,158.9 728.3,150.4 728.3,153.4 728.3,151.4 728.3,165.0 728.4,157.0 728.4,164.9 728.4,156.2 728.4,166.8 728.4,152.5 728.4,152.1 728.4,152.6 728.4,165.6 728.4,142.0 728.4,159.8 728.4,157.9 728.4,169.9 728.5,161.0 728.5,162.7 728.5,171.8 728.5,153.9 728.5,158.8 728.5,157.3 728.5,153.4 728.5,159.7 728.5,155.9 728.5,154.3 728.5,155.8 728.6,159.3 728.6,170.5 728.6,162.0 728.6,140.8 728.6,166.9 728.6,153.1 728.6,155.4 728.6,154.1 728.6,158.3 728.6,159.3 728.6,152.1 728.6,156.1 728.7,153.6 728.7,164.8 728.7,161.2 728.7,155.0 728.7,154.6 728.7,155.4 728.7,160.0 728.7,155.2 728.7,151.3 728.7,142.2 728.7,157.2 728.7,154.3 728.8,156.7 728.8,152.7 728.8,159.4 728.8,155.9 728.8,155.6 728.8,153.1 728.8,156.0 728.8,155.9 728.8,159.4 728.8,169.6 728.8,157.3 728.8,152.2 728.9,160.3 728.9,154.7 728.9,163.8 728.9,142.8 728.9,156.0 728.9,154.0 728.9,157.6 728.9,162.8 728.9,154.4 728.9,155.7 728.9,155.4 729.0,155.2 729.0,151.8 729.0,158.1 729.0,152.6 729.0,153.9 729.0,163.0 729.0,160.6 729.0,153.5 729.0,152.9 729.0,161.2 729.0,139.9 729.0,153.7 729.1,158.6 729.1,157.1 729.1,153.8 729.1,158.7 729.1,153.4 729.1,154.4 729.1,158.7 729.1,156.3 729.1,158.4 729.1,158.4 729.1,160.0 729.1,166.1 729.2,149.1 729.2,152.3 729.2,152.4 729.2,169.2 729.2,140.1 729.2,165.5 729.2,152.6 729.2,163.7 729.2,162.0 729.2,156.2 729.2,154.2 729.2,150.9 729.3,154.2 729.3,157.3 729.3,161.0 729.3,153.8 729.3,158.9 729.3,153.0 729.3,157.6 729.3,152.6 729.3,155.8 729.3,158.5 729.3,141.9 729.3,159.2 729.4,155.1 729.4,161.7 729.4,169.3 729.4,155.0 729.4,167.2 729.4,156.1 729.4,154.5 729.4,153.6 729.4,152.5 729.4,161.5 729.4,151.9 729.4,153.4 729.5,155.5 729.5,153.7 729.5,158.2 729.5,162.6 729.5,142.2 729.5,157.9 729.5,157.9 729.5,161.5 729.5,153.0 729.5,162.2 729.5,157.3 729.6,170.2 729.6,158.1 729.6,160.0 729.6,153.3 729.6,157.3 729.6,157.0 729.6,159.8 729.6,162.3 729.6,154.6 729.6,158.4 729.6,160.6 729.6,142.0 729.7,170.0 729.7,152.2 729.7,159.9 729.7,156.0 729.7,151.3 729.7,157.3 729.7,156.5 729.7,155.8 729.7,156.9 729.7,154.5 729.7,161.9 729.7,159.1 729.8,153.9 729.8,157.1 729.8,157.0 729.8,161.5 729.8,156.6 729.8,139.9 729.8,158.6 729.8,155.4 729.8,163.0 729.8,155.3 729.8,153.0 729.8,151.4 729.9,157.3 729.9,151.7 729.9,161.5 729.9,152.9 729.9,156.9 729.9,158.4 729.9,150.7 729.9,165.2 729.9,171.4 729.9,158.8 729.9,153.9 729.9,140.9 730.0,148.8 730.0,171.5 730.0,158.2 730.0,160.2 730.0,158.0 730.0,157.7 730.0,157.2 730.0,175.6 730.0,159.0 730.0,160.1 730.0,155.3 730.0,156.6 730.1,159.7 730.1,163.2 730.1,160.9 730.1,154.6 730.1,154.6 730.1,140.3 730.1,153.7 730.1,157.7 730.1,157.9 730.1,174.9 730.1,151.1 730.1,166.5 730.2,154.5 730.2,165.7 730.2,155.2 730.2,151.4 730.2,152.4 730.2,161.2 730.2,157.3 730.2,164.9 730.2,160.0 730.2,151.4 730.2,155.8 730.2,140.6 730.3,157.8 730.3,160.9 730.3,165.2 730.3,157.6 730.3,151.9 730.3,155.5 730.3,156.5 730.3,160.4 730.3,157.2 730.3,155.2 730.3,163.8 730.3,155.9 730.4,159.1 730.4,153.6 730.4,154.9 730.4,152.9 730.4,158.6 730.4,143.2 730.4,166.3 730.4,160.0 730.4,160.6 730.4,151.7 730.4,163.9 730.4,154.3 730.5,152.9 730.5,159.8 730.5,158.8 730.5,158.6 730.5,159.9 730.5,162.5 730.5,161.6 730.5,153.4 730.5,157.9 730.5,154.9 730.5,151.2 730.5,140.9 730.6,162.1 730.6,162.6 730.6,165.4 730.6,165.0 730.6,164.2 730.6,153.5 730.6,161.1 730.6,173.9 730.6,156.0 730.6,156.7 730.6,154.5 730.6,159.3 730.7,156.3 730.7,166.9 730.7,157.5 730.7,152.1 730.7,161.9 730.7,140.1 730.7,167.5 730.7,155.7 730.7,163.5 730.7,163.7 730.7,164.7 730.7,153.9 730.7,155.5 730.8,159.2 730.8,161.7 730.8,158.0 730.8,160.6 730.8,159.2 730.8,159.4 730.8,167.0 730.8,157.7 730.8,152.2 730.8,158.2 730.8,141.0 730.8,169.1 730.9,162.8 730.9,158.2 730.9,154.3 730.9,154.6 730.9,153.5 730.9,152.4 730.9,152.1 730.9,159.6 730.9,154.4 730.9,156.6 730.9,154.8 730.9,158.2 731.0,151.8 731.0,167.9 731.0,155.5 731.0,154.8 731.0,141.6 731.0,164.8 731.0,159.2 731.0,154.4 731.0,155.3 731.0,153.6 731.0,161.5 731.0,153.1 731.1,155.9 731.1,159.1 731.1,151.6 731.1,157.7 731.1,154.7 731.1,149.6 731.1,156.9 731.1,169.5 731.1,155.5 731.1,154.4 731.1,141.7 731.1,163.4 731.2,152.2 731.2,155.2 731.2,158.7 731.2,160.1 731.2,158.6 731.2,155.2 731.2,153.1 731.2,154.7 731.2,159.3 731.2,157.1 731.2,161.8 731.2,156.0 731.3,161.5 731.3,154.8 731.3,159.3 731.3,157.1 731.3,141.0 731.3,158.2 731.3,158.2 731.3,156.3 731.3,153.5 731.3,158.5 731.3,155.7 731.3,159.7 731.3,151.5 731.4,153.1 731.4,163.7 731.4,151.8 731.4,159.2 731.4,167.1 731.4,153.8 731.4,164.0 731.4,153.4 731.4,161.4 731.4,142.6 731.4,151.5 731.4,160.4 731.5,163.0 731.5,153.3 731.5,179.9 731.5,154.9 731.5,161.6 731.5,159.7 731.5,154.6 731.5,152.8 731.5,156.2 731.5,150.9 731.5,169.6 731.5,158.6 731.6,152.7 731.6,160.4 731.6,168.1 731.6,143.3 731.6,158.3 731.6,169.6 731.6,164.6 731.6,152.6 731.6,152.2 731.6,162.0 731.6,157.8 731.6,153.3 731.7,163.4 731.7,154.9 731.7,162.1 731.7,158.8 731.7,155.2 731.7,151.7 731.7,169.6 731.7,157.5 731.7,158.7 731.7,140.8 731.7,159.4 731.7,157.3 731.7,157.0 731.8,153.2 731.8,156.7 731.8,156.0 731.8,156.4 731.8,150.7 731.8,152.6 731.8,153.6 731.8,158.0 731.8,155.5 731.8,163.7 731.8,157.2 731.8,155.1 731.9,154.4 731.9,170.8 731.9,144.9 731.9,151.9 731.9,164.6 731.9,159.0 731.9,154.7 731.9,154.4 731.9,156.7 731.9,171.5 731.9,157.6 731.9,156.9 732.0,150.7 732.0,152.5 732.0,157.0 732.0,151.1 732.0,153.9 732.0,154.3 732.0,160.7 732.0,160.6 732.0,141.7 732.0,156.4 732.0,150.3 732.0,158.7 732.0,154.4 732.1,156.5 732.1,158.4 732.1,175.7 732.1,152.6 732.1,158.1 732.1,160.9 732.1,163.3 732.1,158.2 732.1,158.0 732.1,150.1 732.1,154.9 732.1,156.1 732.2,162.3 732.2,146.1 732.2,158.1 732.2,162.6 732.2,159.0 732.2,160.6 732.2,152.7 732.2,153.4 732.2,173.8 732.2,162.1 732.2,157.6 732.2,159.1 732.2,165.9 732.3,162.1 732.3,160.4 732.3,164.0 732.3,156.8 732.3,161.9 732.3,161.1 732.3,143.2 732.3,154.3 732.3,161.0 732.3,153.4 732.3,153.8 732.3,158.8 732.4,156.7 732.4,156.7 732.4,160.7 732.4,156.4 732.4,174.3 732.4,160.4 732.4,155.3 732.4,161.0 732.4,152.4 732.4,156.4 732.4,167.2 732.4,158.7 732.5,144.0 732.5,155.4 732.5,159.3 732.5,168.6 732.5,164.3 732.5,154.1 732.5,161.7 732.5,162.6 732.5,155.5 732.5,154.7 732.5,159.3 732.5,153.3 732.5,158.1 732.6,154.5 732.6,161.4 732.6,165.4 732.6,158.6 732.6,156.1 732.6,144.5 732.6,169.4 732.6,165.0 732.6,159.5 732.6,155.8 732.6,156.2 732.6,162.2 732.7,152.4 732.7,152.9 732.7,152.5 732.7,158.6 732.7,159.7 732.7,155.7 732.7,169.9 732.7,160.3 732.7,156.8 732.7,158.5 732.7,159.0 732.7,142.0 732.7,158.7 732.8,152.8 732.8,160.1 732.8,159.0 732.8,162.7 732.8,160.3 732.8,152.2 732.8,156.5 732.8,166.0 732.8,157.2 732.8,155.2 732.8,165.8 732.8,158.6 732.9,156.6 732.9,160.3 732.9,154.6 732.9,156.2 732.9,142.7 732.9,155.1 732.9,159.8 732.9,152.5 732.9,154.6 732.9,161.1 732.9,153.7 732.9,150.1 732.9,153.1 733.0,158.9 733.0,153.7 733.0,158.1" fill="none" stroke="#0000ff" stroke-width="2.3" stroke-linejoin="round" marker-start="url(#mc)" marker-mid="url(#mc)" marker-end="url(#mc)"/>
<rect class="frame" x="144.3" y="30.2" width="601.7" height="263.3"/>
<g class="grid">
<line x1="143.3" x2="746.0" y1="74.1" y2="74.1"/>
<line x1="143.3" x2="746.0" y1="118.0" y2="118.0"/>
<line x1="143.3" x2="746.0" y1="161.8" y2="161.8"/>
<line x1="143.3" x2="746.0" y1="205.7" y2="205.7"/>
<line x1="143.3" x2="746.0" y1="249.6" y2="249.6"/>
<line x1="294.7" x2="294.7" y1="30.2" y2="293.5"/>
<line x1="445.2" x2="445.2" y1="30.2" y2="293.5"/>
<line x1="595.6" x2="595.6" y1="30.2" y2="293.5"/>
</g>
<text transform="translate(137.2 33.4) scale(1.0 1)" text-anchor="end" style="font-size:12.1px">100</text>
<text transform="translate(137.2 77.3) scale(1.0 1)" text-anchor="end" style="font-size:12.1px">50</text>
<text transform="translate(137.2 121.2) scale(1.0 1)" text-anchor="end" style="font-size:12.1px">0</text>
<text transform="translate(137.2 165.1) scale(1.0 1)" text-anchor="end" style="font-size:12.1px">-50</text>
<text transform="translate(137.2 208.9) scale(1.0 1)" text-anchor="end" style="font-size:12.1px">-100</text>
<text transform="translate(137.2 252.8) scale(1.0 1)" text-anchor="end" style="font-size:12.1px">-150</text>
<text transform="translate(137.2 296.7) scale(1.0 1)" text-anchor="end" style="font-size:12.1px">-200</text>
<text transform="translate(144.7 309.8) scale(1.0 1)" text-anchor="middle" style="font-size:12.1px">1E0</text>
<text transform="translate(295.1 309.8) scale(1.0 1)" text-anchor="middle" style="font-size:12.1px">1E1</text>
<text transform="translate(445.6 309.8) scale(1.0 1)" text-anchor="middle" style="font-size:12.1px">1E2</text>
<text transform="translate(596.0 309.8) scale(1.0 1)" text-anchor="middle" style="font-size:12.1px">1E3</text>
<text transform="translate(746.4 309.8) scale(1.0 1)" text-anchor="middle" style="font-size:12.1px">1E4</text>
<text transform="translate(401.5 15.9) scale(0.982 1)" text-anchor="middle">FFT</text>
<text transform="translate(401.5 337.5) scale(0.982 1)" text-anchor="middle">Frequency</text>
<text transform="translate(18.8,171.9) rotate(-90)" text-anchor="middle" style="font-size:12px">Magnitude</text>
<polyline points="294.7,456.1 295.0,526.1 295.3,476.1 295.6,485.1 295.9,491.9 296.2,486.4 296.5,484.4 296.8,483.6 297.1,481.8 297.4,493.0 297.7,483.8 298.0,496.5 298.3,487.5 298.6,493.1 298.9,496.3 299.2,483.6 299.5,488.0 299.8,483.2 300.1,495.2 300.4,493.4 300.7,488.1 301.0,490.7 301.3,487.2 301.6,490.4 301.9,489.0 302.2,492.8 302.5,481.2 302.8,488.7 303.1,492.7 303.4,484.0 303.8,484.9 304.1,486.2 304.4,486.2 304.7,489.3 305.0,488.2 305.3,498.1 305.6,495.1 305.9,493.7 306.2,486.7 306.5,482.4 306.8,489.0 307.1,489.5 307.4,483.0 307.7,490.0 308.0,485.2 308.3,486.2 308.6,494.4 308.9,486.7 309.2,487.1 309.5,493.4 309.8,492.8 310.1,493.9 310.4,481.5 310.7,478.0 311.0,484.5 311.3,480.4 311.6,494.2 311.9,481.3 312.2,478.6 312.5,480.2 312.8,492.1 313.1,482.5 313.4,488.1 313.7,482.4 314.0,490.3 314.3,487.2 314.6,489.9 314.9,485.0 315.2,487.8 315.5,482.2 315.8,483.7 316.1,485.7 316.4,488.0 316.7,489.4 317.0,488.1 317.3,484.8 317.6,487.9 317.9,487.4 318.2,489.2 318.5,489.6 318.8,492.6 319.1,498.5 319.4,487.0 319.7,487.2 320.0,494.6 320.3,481.1 320.6,495.8 320.9,485.6 321.2,489.3 321.5,489.2 321.8,485.4 322.1,486.4 322.4,490.7 322.7,495.8 323.0,496.4 323.3,489.7 323.6,483.0 323.9,486.2 324.2,490.3 324.5,488.4 324.8,486.5 325.1,481.2 325.4,492.6 325.7,485.2 326.0,487.0 326.3,491.6 326.6,492.6 326.9,481.5 327.2,485.7 327.5,488.0 327.8,486.4 328.1,482.1 328.4,486.2 328.7,478.9 329.0,487.7 329.3,490.1 329.6,486.9 329.9,490.8 330.2,488.0 330.5,480.6 330.8,478.3 331.1,483.3 331.4,485.4 331.7,490.7 332.0,491.3 332.3,484.8 332.6,485.9 332.9,489.5 333.2,489.0 333.5,479.7 333.8,482.5 334.1,487.0 334.4,486.3 334.7,481.5 335.0,485.9 335.3,486.6 335.6,495.3 335.9,495.9 336.2,497.0 336.5,498.6 336.8,488.0 337.1,486.5 337.4,492.2 337.7,486.0 338.0,486.2 338.3,488.7 338.6,495.4 338.9,481.7 339.3,482.1 339.6,491.5 339.9,479.7 340.2,488.9 340.5,493.0 340.8,491.4 341.1,498.4 341.4,491.4 341.7,497.4 342.0,484.6 342.3,488.5 342.6,496.7 342.9,487.5 343.2,498.6 343.5,489.9 343.8,488.6 344.1,490.6 344.4,496.4 344.7,491.7 345.0,492.2 345.3,491.2 345.6,484.7 345.9,483.9 346.2,484.7 346.5,495.4 346.8,496.2 347.1,492.7 347.4,491.0 347.7,503.0 348.0,496.4 348.3,485.3 348.6,500.0 348.9,498.0 349.2,498.2 349.5,493.0 349.8,495.9 350.1,497.5 350.4,503.4 350.7,493.4 351.0,496.4 351.3,499.7 351.6,496.5 351.9,492.9 352.2,503.7 352.5,504.2 352.8,501.8 353.1,501.1 353.4,508.2 353.7,499.9 354.0,491.7 354.3,498.5 354.6,492.2 354.9,508.2 355.2,497.5 355.5,490.2 355.8,489.2 356.1,498.8 356.4,500.1 356.7,494.1 357.0,501.5 357.3,497.3 357.6,503.3 357.9,495.0 358.2,495.3 358.5,487.5 358.8,493.5 359.1,498.2 359.4,495.5 359.7,501.1 360.0,494.7 360.3,495.6 360.6,492.5 360.9,489.9 361.2,503.7 361.5,492.6 361.8,490.5 362.1,499.5 362.4,484.6 362.7,497.0 363.0,481.7 363.3,489.5 363.6,488.4 363.9,491.5 364.2,487.8 364.5,497.2 364.8,495.9 365.1,501.2 365.4,489.0 365.7,494.7 366.0,487.7 366.3,488.3 366.6,497.4 366.9,487.8 367.2,489.9 367.5,490.2 367.8,488.9 368.1,491.2 368.4,491.0 368.7,486.0 369.0,495.7 369.3,496.7 369.6,494.6 369.9,486.1 370.2,492.6 370.5,482.0 370.8,505.8 371.1,494.7 371.4,493.5 371.7,490.2 372.0,457.7 372.3,492.7 372.6,496.6 372.9,487.9 373.2,484.6 373.5,504.1 373.8,489.2 374.1,490.6 374.5,496.0 374.8,494.3 375.1,490.7 375.4,492.1 375.7,493.5 376.0,497.9 376.3,491.0 376.6,495.6 376.9,492.0 377.2,495.2 377.5,491.4 377.8,488.8 378.1,491.2 378.4,489.2 378.7,498.9 379.0,490.1 379.3,490.9 379.6,495.2 379.9,493.0 380.2,505.5 380.5,491.7 380.8,494.0 381.1,502.7 381.4,489.4 381.7,494.7 382.0,490.1 382.3,492.3 382.6,488.7 382.9,490.3 383.2,491.9 383.5,488.0 383.8,486.3 384.1,500.8 384.4,489.9 384.7,492.9 385.0,495.3 385.3,483.8 385.6,485.5 385.9,495.0 386.2,495.5 386.5,486.4 386.8,493.4 387.1,492.1 387.4,500.0 387.7,491.4 388.0,485.4 388.3,493.1 388.6,491.6 388.9,482.9 389.2,487.2 389.5,484.7 389.8,488.7 390.1,486.3 390.4,500.1 390.7,496.2 391.0,500.4 391.3,482.1 391.6,492.0 391.9,493.5 392.2,496.6 392.5,497.9 392.8,506.4 393.1,482.6 393.4,493.6 393.7,492.9 394.0,499.7 394.3,493.2 394.6,491.0 394.9,493.1 395.2,489.7 395.5,496.5 395.8,490.9 396.1,488.2 396.4,489.9 396.7,490.8 397.0,493.2 397.3,497.4 397.6,490.0 397.9,494.5 398.2,497.1 398.5,489.0 398.8,500.2 399.1,495.2 399.4,488.8 399.7,488.0 400.0,494.1 400.3,491.9 400.6,489.5 400.9,492.3 401.2,495.4 401.5,489.6 401.8,490.8 402.1,490.9 402.4,486.0 402.7,489.8 403.0,493.3 403.3,490.2 403.6,481.6 403.9,493.9 404.2,491.5 404.5,493.7 404.8,487.9 405.1,495.2 405.4,486.8 405.7,485.0 406.0,492.0 406.3,492.1 406.6,494.9 406.9,487.3 407.2,492.6 407.5,490.0 407.8,488.9 408.1,490.0 408.4,482.6 408.7,479.0 409.0,496.5 409.3,490.2 409.6,485.0 410.0,491.1 410.3,488.5 410.6,484.9 410.9,479.1 411.2,480.0 411.5,486.9 411.8,484.9 412.1,487.2 412.4,486.3 412.7,491.1 413.0,494.1 413.3,487.5 413.6,481.2 413.9,482.2 414.2,494.7 414.5,486.8 414.8,489.0 415.1,484.8 415.4,491.5 415.7,482.1 416.0,487.6 416.3,484.0 416.6,482.7 416.9,496.3 417.2,488.3 417.5,480.2 417.8,487.4 418.1,482.7 418.4,485.8 418.7,490.2 419.0,486.6 419.3,483.1 419.6,482.1 419.9,481.4 420.2,493.5 420.5,484.3 420.8,494.6 421.1,488.8 421.4,489.2 421.7,485.2 422.0,486.7 422.3,482.2 422.6,490.9 422.9,483.9 423.2,485.8 423.5,487.4 423.8,492.9 424.1,484.3 424.4,485.3 424.7,482.8 425.0,486.5 425.3,487.3 425.6,484.1 425.9,483.6 426.2,482.3 426.5,476.4 426.8,488.1 427.1,475.4 427.4,498.7 427.7,480.0 428.0,488.2 428.3,474.7 428.6,488.2 428.9,478.8 429.2,488.4 429.5,489.0 429.8,479.7 430.1,479.4 430.4,486.6 430.7,471.9 431.0,484.6 431.3,475.5 431.6,487.5 431.9,487.2 432.2,482.1 432.5,487.2 432.8,480.2 433.1,492.4 433.4,481.4 433.7,485.0 434.0,487.0 434.3,481.5 434.6,483.6 434.9,484.8 435.2,478.9 435.5,481.4 435.8,481.0 436.1,476.5 436.4,483.2 436.7,478.8 437.0,484.7 437.3,479.8 437.6,480.0 437.9,485.0 438.2,489.6 438.5,488.4 438.8,486.8 439.1,479.7 439.4,482.8 439.7,483.5 440.0,479.8 440.3,478.5 440.6,475.3 440.9,484.5 441.2,479.0 441.5,478.0 441.8,485.7 442.1,480.5 442.4,485.3 442.7,481.9 443.0,478.7 443.3,488.5 443.6,484.4 443.9,484.0 444.2,479.7 444.5,483.5 444.8,478.2 445.2,483.9 445.5,482.3 445.8,477.0 446.1,478.4 446.4,479.2 446.7,480.2 447.0,475.5 447.3,473.8 447.6,482.1 447.9,483.8 448.2,436.6 448.5,410.3 448.8,389.3 449.1,405.1 449.4,473.5 449.7,476.0 450.0,486.9 450.3,481.9 450.6,488.3 450.9,485.0 451.2,474.3 451.5,481.2 451.8,483.4 452.1,482.0 452.4,481.2 452.7,483.1 453.0,488.4 453.3,488.5 453.6,473.6 453.9,486.8 454.2,477.7 454.5,486.9 454.8,477.6 455.1,480.6 455.4,485.1 455.7,474.8 456.0,488.8 456.3,485.6 456.6,488.7 456.9,488.4 457.2,486.5 457.5,489.4 457.8,486.4 458.1,477.5 458.4,493.1 458.7,490.8 459.0,489.4 459.3,487.1 459.6,480.1 459.9,481.4 460.2,482.5 460.5,483.8 460.8,473.6 461.1,490.2 461.4,490.4 461.7,485.1 462.0,484.1 462.3,486.1 462.6,489.0 462.9,491.3 463.2,486.5 463.5,488.6 463.8,487.7 464.1,490.6 464.4,479.4 464.7,483.7 465.0,477.3 465.3,488.6 465.6,486.0 465.9,487.6 466.2,486.5 466.5,488.0 466.8,487.8 467.1,496.6 467.4,488.8 467.7,484.5 468.0,497.3 468.3,490.0 468.6,485.9 468.9,482.9 469.2,489.5 469.5,487.2 469.8,481.4 470.1,483.9 470.4,492.4 470.7,493.4 471.0,486.0 471.3,490.1 471.6,493.9 471.9,492.6 472.2,490.2 472.5,492.8 472.8,493.3 473.1,493.5 473.4,499.6 473.7,484.7 474.0,487.3 474.3,486.2 474.6,494.2 474.9,493.2 475.2,491.2 475.5,490.1 475.8,502.6 476.1,492.4 476.4,498.8 476.7,494.4 477.0,497.2 477.3,486.0 477.6,491.4 477.9,493.9 478.2,487.1 478.5,493.9 478.8,496.9 479.1,494.2 479.4,495.0 479.7,493.0 480.0,489.3 480.3,493.7 480.7,493.5 481.0,488.3 481.3,491.6 481.6,488.5 481.9,492.2 482.2,511.9 482.5,497.8 482.8,500.2 483.1,486.9 483.4,490.2 483.7,494.2 484.0,496.5 484.3,489.9 484.6,492.1 484.9,489.8 485.2,495.1 485.5,496.2 485.8,483.5 486.1,495.2 486.4,490.7 486.7,484.1 487.0,520.9 487.3,486.7 487.6,489.4 487.9,490.2 488.2,487.9 488.5,494.4 488.8,499.0 489.1,479.4 489.4,489.3 489.7,483.6 490.0,482.5 490.3,486.1 490.6,485.1 490.9,483.7 491.2,479.4 491.5,484.3 491.8,480.5 492.1,487.6 492.4,487.9 492.7,485.4 493.0,483.7 493.3,482.8 493.6,476.0 493.9,481.0 494.2,484.4 494.5,475.2 494.8,482.9 495.1,482.6 495.4,481.9 495.7,485.7 496.0,489.2 496.3,457.7 496.6,485.5 496.9,488.0 497.2,483.3 497.5,484.7 497.8,486.4 498.1,492.0 498.4,484.4 498.7,475.3 499.0,479.3 499.3,478.5 499.6,483.7 499.9,478.7 500.2,486.8 500.5,485.7 500.8,481.2 501.1,490.3 501.4,483.5 501.7,482.4 502.0,476.0 502.3,487.3 502.6,482.3 502.9,487.5 503.2,487.2 503.5,497.6 503.8,489.5 504.1,480.0 504.4,483.2 504.7,485.1 505.0,474.5 505.3,483.8 505.6,492.4 505.9,487.9 506.2,487.6 506.5,480.1 506.8,492.2 507.1,486.4 507.4,484.1 507.7,492.9 508.0,489.1 508.3,499.3 508.6,489.6 508.9,500.6 509.2,492.3 509.5,482.6 509.8,488.9 510.1,490.7 510.4,490.3 510.7,481.1 511.0,488.6 511.3,486.5 511.6,493.4 511.9,493.4 512.2,496.2 512.5,492.2 512.8,494.6 513.1,486.6 513.4,488.2 513.7,491.7 514.0,493.7 514.3,504.6 514.6,493.8 514.9,489.4 515.2,487.5 515.5,504.9 515.8,501.5 516.2,489.4 516.5,494.9 516.8,490.9 517.1,492.0 517.4,486.9 517.7,498.1 518.0,491.9 518.3,484.7 518.6,487.9 518.9,492.7 519.2,486.5 519.5,487.2 519.8,492.5 520.1,485.0 520.4,485.0 520.7,488.7 521.0,483.7 521.3,493.4 521.6,484.2 521.9,488.6 522.2,491.9 522.5,490.1 522.8,481.8 523.1,489.7 523.4,488.7 523.7,490.0 524.0,490.6 524.3,482.3 524.6,457.7 524.9,480.5 525.2,464.5 525.5,483.0 525.8,488.1 526.1,488.6 526.4,491.7 526.7,479.4 527.0,487.7 527.3,489.4 527.6,489.0 527.9,485.0 528.2,488.4 528.5,485.6 528.8,484.9 529.1,479.4 529.4,491.4 529.7,484.2 530.0,488.9 530.3,487.7 530.6,478.3 530.9,483.0 531.2,487.8 531.5,483.8 531.8,486.3 532.1,481.2 532.4,488.8 532.7,484.3 533.0,487.7 533.3,486.8 533.6,487.7 533.9,490.1 534.2,486.8 534.5,482.8 534.8,490.4 535.1,489.5 535.4,486.0 535.7,491.5 536.0,484.0 536.3,485.0 536.6,499.1 536.9,491.5 537.2,493.6 537.5,484.8 537.8,484.3 538.1,494.3 538.4,491.9 538.7,489.1 539.0,490.4 539.3,485.2 539.6,484.0 539.9,485.7 540.2,483.3 540.5,484.0 540.8,488.7 541.1,490.3 541.4,491.6 541.7,484.2 542.0,483.7 542.3,482.8 542.6,488.9 542.9,488.9 543.2,485.5 543.5,480.7 543.8,484.6 544.1,485.0 544.4,489.8 544.7,483.7 545.0,483.1 545.3,489.9 545.6,477.2 545.9,489.6 546.2,480.8 546.5,486.1 546.8,484.3 547.1,488.6 547.4,487.5 547.7,481.6 548.0,485.7 548.3,486.2 548.6,480.4 548.9,481.2 549.2,483.7 549.5,483.4 549.8,476.5 550.1,485.4 550.4,467.2 550.7,482.6 551.0,491.2 551.4,493.6 551.7,484.0 552.0,480.6 552.3,483.7 552.6,487.1 552.9,487.7 553.2,480.9 553.5,486.1 553.8,492.2 554.1,481.5 554.4,483.5 554.7,482.8 555.0,479.7 555.3,478.3 555.6,481.8 555.9,466.1 556.2,494.4 556.5,483.3 556.8,485.4 557.1,478.6 557.4,479.0 557.7,482.9 558.0,478.9 558.3,485.9 558.6,485.9 558.9,489.8 559.2,487.4 559.5,485.0 559.8,481.2 560.1,489.8 560.4,482.8 560.7,475.7 561.0,466.6 561.3,488.1 561.6,486.9 561.9,482.5 562.2,478.1 562.5,481.8 562.8,487.8 563.1,491.8 563.4,488.1 563.7,488.0 564.0,486.7 564.3,492.0 564.6,480.6 564.9,490.9 565.2,484.3 565.5,486.4 565.8,492.3 566.1,486.8 566.4,487.0 566.7,488.0 567.0,467.2 567.3,489.3 567.6,475.0 567.9,481.5 568.2,491.0 568.5,498.3 568.8,480.8 569.1,485.5 569.4,486.3 569.7,491.1 570.0,493.2 570.3,495.0 570.6,474.2 570.9,478.7 571.2,488.8 571.5,477.5 571.8,494.9 572.1,483.0 572.4,483.0 572.7,490.2 573.0,488.3 573.3,491.0 573.6,485.9 573.9,480.0 574.2,481.4 574.5,484.1 574.8,480.7 575.1,494.3 575.4,476.4 575.7,486.1 576.0,468.2 576.3,487.5 576.6,488.7 576.9,485.3 577.2,484.3 577.5,496.9 577.8,480.1 578.1,478.0 578.4,491.0 578.7,479.2 579.0,480.3 579.3,481.6 579.6,478.8 579.9,493.1 580.2,483.4 580.5,491.8 580.8,476.1 581.1,492.0 581.4,493.4 581.7,482.5 582.0,485.0 582.3,488.0 582.6,487.6 582.9,485.6 583.2,480.5 583.5,492.1 583.8,491.4 584.1,491.6 584.4,489.3 584.7,489.0 585.0,495.2 585.3,487.9 585.6,495.4 585.9,491.0 586.2,490.8 586.5,490.9 586.9,482.9 587.2,482.3 587.5,485.1 587.8,482.8 588.1,491.8 588.4,484.0 588.7,491.0 589.0,489.9 589.3,489.9 589.6,497.7 589.9,494.5 590.2,492.7 590.5,490.6 590.8,493.2 591.1,496.9 591.4,498.7 591.7,493.5 592.0,499.4 592.3,499.6 592.6,492.4 592.9,492.4 593.2,492.4 593.5,492.4 593.8,492.4 594.1,491.0 594.4,492.4 594.7,492.4 595.0,492.4 595.3,490.4 595.6,492.4 595.9,491.1 596.2,492.4 596.5,492.4 596.8,492.4 597.1,492.4 597.4,480.7 597.7,492.4 598.0,492.4 598.3,492.4 598.6,492.4 598.9,485.7 599.2,492.4 599.5,492.3 599.8,489.1 600.1,490.7 600.4,489.1 600.7,492.4 601.0,492.4 601.3,492.4 601.6,473.5 601.9,494.0 602.2,476.6 602.5,470.6" fill="none" stroke="#0000ff" stroke-width="2" stroke-linejoin="round" marker-start="url(#mc2)" marker-mid="url(#mc2)" marker-end="url(#mc2)"/>
<polyline points="294.7,419.3 295.0,518.2 295.3,484.0 295.6,493.6 295.9,482.1 296.2,500.6 296.5,496.5 296.8,487.5 297.1,485.2 297.4,497.6 297.7,498.3 298.0,485.5 298.3,499.3 298.6,494.5 298.9,491.4 299.2,482.9 299.5,480.5 299.8,485.7 300.1,495.4 300.4,478.8 300.7,500.4 301.0,493.0 301.3,485.5 301.6,494.1 301.9,471.3 302.2,487.5 302.5,479.8 302.8,489.9 303.1,501.5 303.4,488.9 303.8,488.4 304.1,488.6 304.4,477.9 304.7,488.5 305.0,481.1 305.3,483.9 305.6,487.1 305.9,493.4 306.2,484.2 306.5,496.2 306.8,483.3 307.1,478.3 307.4,497.2 307.7,500.3 308.0,495.1 308.3,488.4 308.6,475.8 308.9,492.8 309.2,501.1 309.5,486.0 309.8,481.5 310.1,492.3 310.4,495.6 310.7,496.2 311.0,482.9 311.3,487.2 311.6,486.9 311.9,476.6 312.2,490.6 312.5,503.0 312.8,489.9 313.1,492.9 313.4,505.0 313.7,494.4 314.0,487.6 314.3,499.9 314.6,485.7 314.9,475.6 315.2,488.7 315.5,502.6 315.8,502.8 316.1,489.8 316.4,502.1 316.7,494.3 317.0,472.8 317.3,493.8 317.6,479.0 317.9,481.5 318.2,484.3 318.5,496.9 318.8,493.0 319.1,482.0 319.4,468.7 319.7,480.3 320.0,483.4 320.3,477.0 320.6,497.8 320.9,487.9 321.2,482.1 321.5,468.0 321.8,493.4 322.1,493.0 322.4,488.1 322.7,503.0 323.0,495.4 323.3,478.2 323.6,501.3 323.9,472.9 324.2,486.0 324.5,487.5 324.8,501.8 325.1,492.0 325.4,490.1 325.7,476.8 326.0,483.5 326.3,497.2 326.6,478.2 326.9,485.8 327.2,494.3 327.5,486.6 327.8,485.0 328.1,489.9 328.4,483.3 328.7,480.6 329.0,478.6 329.3,475.9 329.6,500.9 329.9,477.6 330.2,489.4 330.5,494.6 330.8,464.6 331.1,498.8 331.4,496.4 331.7,489.7 332.0,502.6 332.3,503.5 332.6,482.0 332.9,477.0 333.2,485.4 333.5,486.0 333.8,485.1 334.1,499.7 334.4,503.4 334.7,501.5 335.0,478.7 335.3,483.5 335.6,488.2 335.9,483.7 336.2,495.7 336.5,494.1 336.8,476.5 337.1,482.2 337.4,499.9 337.7,477.6 338.0,492.2 338.3,478.4 338.6,480.9 338.9,491.0 339.3,499.9 339.6,484.8 339.9,494.3 340.2,480.7 340.5,501.6 340.8,474.3 341.1,473.8 341.4,488.0 341.7,494.6 342.0,500.4 342.3,472.4 342.6,495.9 342.9,478.1 343.2,486.6 343.5,492.4 343.8,470.6 344.1,478.6 344.4,499.5 344.7,501.9 345.0,483.5 345.3,496.5 345.6,482.8 345.9,495.4 346.2,506.6 346.5,498.6 346.8,488.3 347.1,493.4 347.4,464.1 347.7,492.7 348.0,484.2 348.3,493.9 348.6,498.8 348.9,473.2 349.2,465.9 349.5,471.9 349.8,474.8 350.1,486.6 350.4,488.0 350.7,473.9 351.0,493.3 351.3,474.5 351.6,497.0 351.9,482.9 352.2,483.5 352.5,508.7 352.8,490.6 353.1,473.0 353.4,489.0 353.7,482.6 354.0,497.9 354.3,504.1 354.6,483.4 354.9,479.3 355.2,486.3 355.5,503.3 355.8,502.0 356.1,483.3 356.4,480.5 356.7,475.1 357.0,495.5 357.3,504.9 357.6,484.9 357.9,476.4 358.2,480.8 358.5,491.3 358.8,499.2 359.1,478.5 359.4,502.3 359.7,498.1 360.0,482.8 360.3,480.7 360.6,493.2 360.9,484.6 361.2,498.0 361.5,492.3 361.8,501.4 362.1,477.7 362.4,490.5 362.7,472.7 363.0,499.3 363.3,498.5 363.6,494.5 363.9,476.5 364.2,493.8 364.5,488.9 364.8,502.9 365.1,496.6 365.4,508.9 365.7,512.5 366.0,468.7 366.3,472.3 366.6,500.4 366.9,465.8 367.2,487.5 367.5,474.3 367.8,484.2 368.1,502.6 368.4,496.3 368.7,493.9 369.0,477.6 369.3,508.1 369.6,471.3 369.9,458.3 370.2,498.9 370.5,504.8 370.8,475.5 371.1,520.2 371.4,508.7 371.7,467.2 372.0,478.8 372.3,514.3 372.6,506.1 372.9,480.0 373.2,504.4 373.5,481.9 373.8,476.9 374.1,483.4 374.5,499.4 374.8,492.4 375.1,484.7 375.4,505.7 375.7,494.3 376.0,494.6 376.3,487.0 376.6,496.7 376.9,489.6 377.2,500.4 377.5,485.6 377.8,498.6 378.1,470.9 378.4,504.3 378.7,496.5 379.0,504.6 379.3,483.2 379.6,488.4 379.9,482.7 380.2,479.5 380.5,467.3 380.8,478.2 381.1,499.3 381.4,509.2 381.7,471.2 382.0,496.3 382.3,485.1 382.6,491.2 382.9,470.6 383.2,509.9 383.5,504.0 383.8,478.1 384.1,485.3 384.4,511.9 384.7,483.9 385.0,495.7 385.3,501.9 385.6,508.9 385.9,502.7 386.2,502.5 386.5,485.0 386.8,492.7 387.1,471.8 387.4,471.0 387.7,486.8 388.0,506.9 388.3,498.4 388.6,479.9 388.9,488.4 389.2,493.9 389.5,474.1 389.8,495.9 390.1,473.2 390.4,493.2 390.7,483.3 391.0,495.4 391.3,476.9 391.6,499.1 391.9,502.9 392.2,505.1 392.5,494.9 392.8,453.5 393.1,491.8 393.4,475.0 393.7,487.3 394.0,487.0 394.3,484.0 394.6,507.8 394.9,483.1 395.2,502.5 395.5,474.8 395.8,491.6 396.1,503.6 396.4,485.0 396.7,497.8 397.0,497.2 397.3,504.6 397.6,468.5 397.9,500.6 398.2,497.1 398.5,457.2 398.8,472.6 399.1,497.3 399.4,476.1 399.7,468.6 400.0,491.1 400.3,474.7 400.6,507.6 400.9,504.9 401.2,484.9 401.5,513.4 401.8,457.3 402.1,480.9 402.4,525.8 402.7,523.7 403.0,469.5 403.3,504.9 403.6,492.5 403.9,481.0 404.2,492.0 404.5,469.2 404.8,501.2 405.1,490.6 405.4,511.1 405.7,506.5 406.0,483.2 406.3,502.3 406.6,492.5 406.9,490.4 407.2,477.0 407.5,495.7 407.8,505.9 408.1,479.8 408.4,493.1 408.7,474.5 409.0,490.4 409.3,481.4 409.6,499.3 410.0,483.8 410.3,522.1 410.6,475.2 410.9,472.4 411.2,488.1 411.5,497.2 411.8,504.5 412.1,481.0 412.4,486.6 412.7,469.7 413.0,485.8 413.3,493.9 413.6,508.8 413.9,495.6 414.2,503.2 414.5,487.2 414.8,491.4 415.1,468.9 415.4,492.4 415.7,513.4 416.0,508.8 416.3,494.9 416.6,480.0 416.9,492.9 417.2,509.0 417.5,477.6 417.8,484.7 418.1,469.1 418.4,500.8 418.7,490.1 419.0,479.6 419.3,484.3 419.6,495.8 419.9,492.9 420.2,495.3 420.5,484.8 420.8,473.1 421.1,500.7 421.4,473.2 421.7,480.3 422.0,489.4 422.3,498.1 422.6,472.8 422.9,502.5 423.2,503.4 423.5,490.3 423.8,502.8 424.1,471.4 424.4,511.4 424.7,479.4 425.0,501.2 425.3,490.4 425.6,507.9 425.9,471.3 426.2,495.1 426.5,480.5 426.8,499.3 427.1,487.4 427.4,511.8 427.7,468.5 428.0,470.6 428.3,505.1 428.6,494.2 428.9,488.7 429.2,487.1 429.5,496.3 429.8,498.9 430.1,477.4 430.4,517.4 430.7,504.7 431.0,520.6 431.3,458.1 431.6,476.5 431.9,475.7 432.2,505.9 432.5,466.1 432.8,471.4 433.1,516.6 433.4,481.3 433.7,489.4 434.0,505.5 434.3,500.4 434.6,501.7 434.9,483.8 435.2,486.7 435.5,469.4 435.8,496.9 436.1,489.0 436.4,494.8 436.7,493.2 437.0,485.7 437.3,478.5 437.6,483.9 437.9,507.2 438.2,496.6 438.5,482.6 438.8,476.5 439.1,474.3 439.4,502.5 439.7,489.5 440.0,492.6 440.3,485.3 440.6,495.7 440.9,487.8 441.2,480.8 441.5,502.5 441.8,508.7 442.1,479.3 442.4,482.3 442.7,466.2 443.0,510.7 443.3,505.1 443.6,512.3 443.9,467.9 444.2,478.5 444.5,508.5 444.8,493.7 445.2,502.6 445.5,475.0 445.8,480.5 446.1,501.0 446.4,518.8 446.7,496.4 447.0,472.0 447.3,492.9 447.6,485.2 447.9,499.7 448.2,497.2 448.5,428.7 448.8,415.6 449.1,564.0 449.4,473.5 449.7,469.7 450.0,483.6 450.3,485.0 450.6,489.8 450.9,504.0 451.2,494.6 451.5,470.8 451.8,480.9 452.1,477.8 452.4,472.5 452.7,485.3 453.0,478.5 453.3,466.5 453.6,492.7 453.9,478.2 454.2,497.0 454.5,479.6 454.8,470.0 455.1,453.5 455.4,496.4 455.7,480.1 456.0,481.0 456.3,493.1 456.6,470.1 456.9,478.9 457.2,477.8 457.5,488.9 457.8,503.3 458.1,490.2 458.4,480.9 458.7,473.2 459.0,469.9 459.3,476.9 459.6,509.5 459.9,500.3 460.2,466.7 460.5,478.9 460.8,476.1 461.1,469.6 461.4,472.9 461.7,455.2 462.0,522.4 462.3,481.5 462.6,500.1 462.9,503.9 463.2,486.6 463.5,508.6 463.8,479.9 464.1,492.5 464.4,469.4 464.7,456.6 465.0,500.1 465.3,493.9 465.6,525.8 465.9,498.6 466.2,496.3 466.5,511.4 466.8,500.7 467.1,506.2 467.4,485.4 467.7,486.7 468.0,496.6 468.3,502.4 468.6,468.8 468.9,503.9 469.2,482.8 469.5,470.9 469.8,512.3 470.1,494.7 470.4,485.7 470.7,504.9 471.0,483.3 471.3,510.2 471.6,478.9 471.9,483.1 472.2,493.7 472.5,473.5 472.8,505.3 473.1,487.7 473.4,484.6 473.7,508.5 474.0,495.7 474.3,480.9 474.6,510.0 474.9,505.4 475.2,483.6 475.5,507.4 475.8,497.4 476.1,513.7 476.4,488.2 476.7,473.0 477.0,474.3 477.3,510.4 477.6,474.3 477.9,480.1 478.2,491.4 478.5,493.5 478.8,487.9 479.1,473.7 479.4,517.7 479.7,501.9 480.0,497.6 480.3,458.3 480.7,493.9 481.0,495.0 481.3,469.5 481.6,486.2 481.9,502.0 482.2,482.0 482.5,484.1 482.8,483.0 483.1,482.6 483.4,476.9 483.7,463.9 484.0,499.2 484.3,453.5 484.6,489.7 484.9,493.9 485.2,490.2 485.5,484.3 485.8,468.1 486.1,496.0 486.4,468.0 486.7,501.5 487.0,535.9 487.3,512.1 487.6,469.2 487.9,484.4 488.2,436.6 488.5,467.5 488.8,476.2 489.1,485.2 489.4,498.4 489.7,478.5 490.0,472.1 490.3,485.3 490.6,500.5 490.9,492.4 491.2,493.7 491.5,492.6 491.8,494.7 492.1,468.3 492.4,495.9 492.7,487.5 493.0,504.8 493.3,498.0 493.6,498.9 493.9,487.9 494.2,505.6 494.5,484.9 494.8,507.4 495.1,518.0 495.4,508.3 495.7,502.6 496.0,472.3 496.3,489.4 496.6,518.6 496.9,541.9 497.2,512.5 497.5,501.0 497.8,481.1 498.1,476.4 498.4,470.0 498.7,470.7 499.0,499.9 499.3,505.9 499.6,473.1 499.9,472.5 500.2,500.8 500.5,527.4 500.8,475.6 501.1,486.6 501.4,501.0 501.7,494.7 502.0,483.0 502.3,476.6 502.6,495.7 502.9,505.3 503.2,477.0 503.5,496.8 503.8,490.3 504.1,499.3 504.4,499.3 504.7,505.3 505.0,477.9 505.3,504.6 505.6,481.5 505.9,495.7 506.2,493.3 506.5,468.1 506.8,491.4 507.1,471.0 507.4,502.1 507.7,474.8 508.0,507.9 508.3,520.5 508.6,471.8 508.9,499.9 509.2,501.4 509.5,477.6 509.8,515.8 510.1,485.6 510.4,479.0 510.7,501.2 511.0,477.2 511.3,500.6 511.6,467.4 511.9,492.7 512.2,453.5 512.5,513.5 512.8,478.6 513.1,506.6 513.4,488.7 513.7,477.3 514.0,504.6 514.3,517.0 514.6,493.2 514.9,498.6 515.2,498.1 515.5,498.4 515.8,501.0 516.2,484.9 516.5,480.3 516.8,498.1 517.1,495.4 517.4,481.8 517.7,496.6 518.0,505.9 518.3,489.5 518.6,474.8 518.9,510.7 519.2,496.3 519.5,488.7 519.8,509.6 520.1,472.9 520.4,481.2 520.7,474.0 521.0,497.7 521.3,480.9 521.6,500.0 521.9,468.9 522.2,491.0 522.5,484.0 522.8,490.4 523.1,487.6 523.4,497.9 523.7,471.3 524.0,485.3 524.3,523.2 524.6,507.1 524.9,528.0 525.2,487.9 525.5,468.4 525.8,504.5 526.1,487.9 526.4,473.0 526.7,469.9 527.0,453.9 527.3,493.2 527.6,503.0 527.9,501.1 528.2,507.5 528.5,487.4 528.8,493.6 529.1,474.7 529.4,495.9 529.7,501.4 530.0,484.4 530.3,485.9 530.6,475.2 530.9,469.2 531.2,510.8 531.5,485.2 531.8,503.7 532.1,499.5 532.4,478.5 532.7,503.1 533.0,473.3 533.3,496.5 533.6,454.8 533.9,477.1 534.2,474.5 534.5,491.1 534.8,493.0 535.1,485.0 535.4,502.5 535.7,510.8 536.0,505.5 536.3,487.8 536.6,502.0 536.9,487.2 537.2,485.6 537.5,519.2 537.8,489.2 538.1,478.9 538.4,493.3 538.7,498.4 539.0,474.1 539.3,506.1 539.6,507.5 539.9,489.1 540.2,491.3 540.5,472.1 540.8,495.1 541.1,481.7 541.4,484.8 541.7,499.6 542.0,507.2 542.3,493.1 542.6,501.0 542.9,502.1 543.2,490.9 543.5,501.3 543.8,484.3 544.1,484.2 544.4,477.4 544.7,487.6 545.0,498.1 545.3,501.0 545.6,475.3 545.9,472.2 546.2,505.1 546.5,495.8 546.8,496.7 547.1,485.6 547.4,492.3 547.7,478.9 548.0,497.2 548.3,478.9 548.6,496.7 548.9,489.5 549.2,492.3 549.5,493.0 549.8,501.2 550.1,474.7 550.4,468.7 550.7,507.0 551.0,500.1 551.4,480.3 551.7,504.2 552.0,494.8 552.3,500.0 552.6,490.0 552.9,483.6 553.2,495.6 553.5,485.8 553.8,476.3 554.1,516.7 554.4,517.4 554.7,483.4 555.0,499.5 555.3,495.5 555.6,480.9 555.9,487.9 556.2,502.2 556.5,499.5 556.8,495.9 557.1,500.8 557.4,488.6 557.7,477.2 558.0,482.2 558.3,481.2 558.6,499.2 558.9,477.1 559.2,497.6 559.5,487.6 559.8,476.3 560.1,489.9 560.4,480.8 560.7,500.0 561.0,480.2 561.3,503.7 561.6,498.6 561.9,502.1 562.2,514.0 562.5,484.7 562.8,490.5 563.1,487.1 563.4,496.7 563.7,489.2 564.0,498.9 564.3,491.9 564.6,491.0 564.9,489.4 565.2,465.6 565.5,473.7 565.8,487.3 566.1,488.5 566.4,495.6 566.7,503.9 567.0,487.1 567.3,478.0 567.6,483.8 567.9,480.9 568.2,497.7 568.5,503.2 568.8,497.3 569.1,498.1 569.4,478.8 569.7,481.4 570.0,472.5 570.3,510.0 570.6,493.0 570.9,490.3 571.2,502.5 571.5,475.4 571.8,497.4 572.1,495.1 572.4,495.4 572.7,489.0 573.0,495.0 573.3,484.4 573.6,503.9 573.9,485.4 574.2,501.8 574.5,503.8 574.8,489.2 575.1,480.0 575.4,496.8 575.7,486.2 576.0,485.9 576.3,473.2 576.6,476.5 576.9,486.5 577.2,485.3 577.5,501.2 577.8,486.8 578.1,491.6 578.4,501.4 578.7,483.5 579.0,487.9 579.3,475.2 579.6,492.2 579.9,484.0 580.2,486.0 580.5,481.9 580.8,477.7 581.1,488.1 581.4,503.9 581.7,487.2 582.0,478.1 582.3,478.8 582.6,501.8 582.9,489.8 583.2,501.9 583.5,501.9 583.8,481.6 584.1,513.5 584.4,483.9 584.7,518.9 585.0,490.8 585.3,499.4 585.6,476.5 585.9,497.0 586.2,483.8 586.5,500.9 586.9,485.3 587.2,482.2 587.5,493.7 587.8,481.2 588.1,496.8 588.4,483.6 588.7,491.2 589.0,493.7 589.3,488.6 589.6,489.8 589.9,488.9 590.2,487.3 590.5,486.8 590.8,498.8 591.1,495.8 591.4,482.7 591.7,484.3 592.0,477.6 592.3,476.9 592.6,492.3 592.9,503.8 593.2,467.8 593.5,496.5 593.8,491.8 594.1,477.8 594.4,480.2 594.7,495.6 595.0,495.9 595.3,503.1 595.6,500.4 595.9,481.4 596.2,499.7 596.5,483.7 596.8,492.9 597.1,484.2 597.4,485.6 597.7,499.9 598.0,481.4 598.3,481.4 598.6,497.4 598.9,496.4 599.2,485.2 599.5,483.7 599.8,493.5 600.1,499.8 600.4,495.1 600.7,476.9 601.0,480.3 601.3,482.0 601.6,485.8 601.9,489.7 602.2,490.1 602.5,493.2" fill="none" stroke="#00ff00" stroke-width="2.1" stroke-linejoin="round" marker-start="url(#mp)" marker-mid="url(#mp)" marker-end="url(#mp)"/>
<rect class="frame" x="144.3" y="384.0" width="601.7" height="263.20000000000005"/>
<g class="grid">
<line x1="143.3" x2="746.0" y1="436.6" y2="436.6"/>
<line x1="143.3" x2="746.0" y1="489.3" y2="489.3"/>
<line x1="143.3" x2="746.0" y1="541.9" y2="541.9"/>
<line x1="143.3" x2="746.0" y1="594.6" y2="594.6"/>
<line x1="294.7" x2="294.7" y1="384.0" y2="647.2"/>
<line x1="445.2" x2="445.2" y1="384.0" y2="647.2"/>
<line x1="595.6" x2="595.6" y1="384.0" y2="647.2"/>
</g>
<rect x="681.3" y="401.2" width="70" height="53" fill="#fff"/>
<circle cx="697.7" cy="419" r="4.0" fill="none" stroke="#4444ff" stroke-width="1.35"/>
<path d="M693.8 436.6H701.6M697.7 432.7V440.5" fill="none" stroke="#00f000" stroke-width="1.3"/>
<text transform="translate(721.6 421.8) scale(0.982 1)" text-anchor="start">INL</text>
<text transform="translate(721.6 440.0) scale(0.982 1)" text-anchor="start">DNL</text>
<text transform="translate(137.2 387.2) scale(1.0 1)" text-anchor="end" style="font-size:12.1px">2</text>
<text transform="translate(137.2 439.8) scale(1.0 1)" text-anchor="end" style="font-size:12.1px">1</text>
<text transform="translate(137.2 492.5) scale(1.0 1)" text-anchor="end" style="font-size:12.1px">0</text>
<text transform="translate(137.2 545.1) scale(1.0 1)" text-anchor="end" style="font-size:12.1px">-1</text>
<text transform="translate(137.2 597.8) scale(1.0 1)" text-anchor="end" style="font-size:12.1px">-2</text>
<text transform="translate(137.2 650.4) scale(1.0 1)" text-anchor="end" style="font-size:12.1px">-3</text>
<text transform="translate(144.5 663.7) scale(1.0 1)" text-anchor="middle" style="font-size:12.1px">-0.5k</text>
<text transform="translate(294.9 663.7) scale(1.0 1)" text-anchor="middle" style="font-size:12.1px">0k</text>
<text transform="translate(445.4 663.7) scale(1.0 1)" text-anchor="middle" style="font-size:12.1px">0.5k</text>
<text transform="translate(595.8 663.7) scale(1.0 1)" text-anchor="middle" style="font-size:12.1px">1k</text>
<text transform="translate(746.2 663.7) scale(1.0 1)" text-anchor="middle" style="font-size:12.1px">1.5k</text>
<text transform="translate(401.0 369.8) scale(0.982 1)" text-anchor="middle">Histogramm INL, DNL</text>
<text transform="translate(401.6 691.5) scale(0.982 1)" text-anchor="middle">Code</text>
<text transform="translate(18.8,525.5) rotate(-90)" text-anchor="middle" style="font-size:12px">Value</text>
</svg></body></html>
